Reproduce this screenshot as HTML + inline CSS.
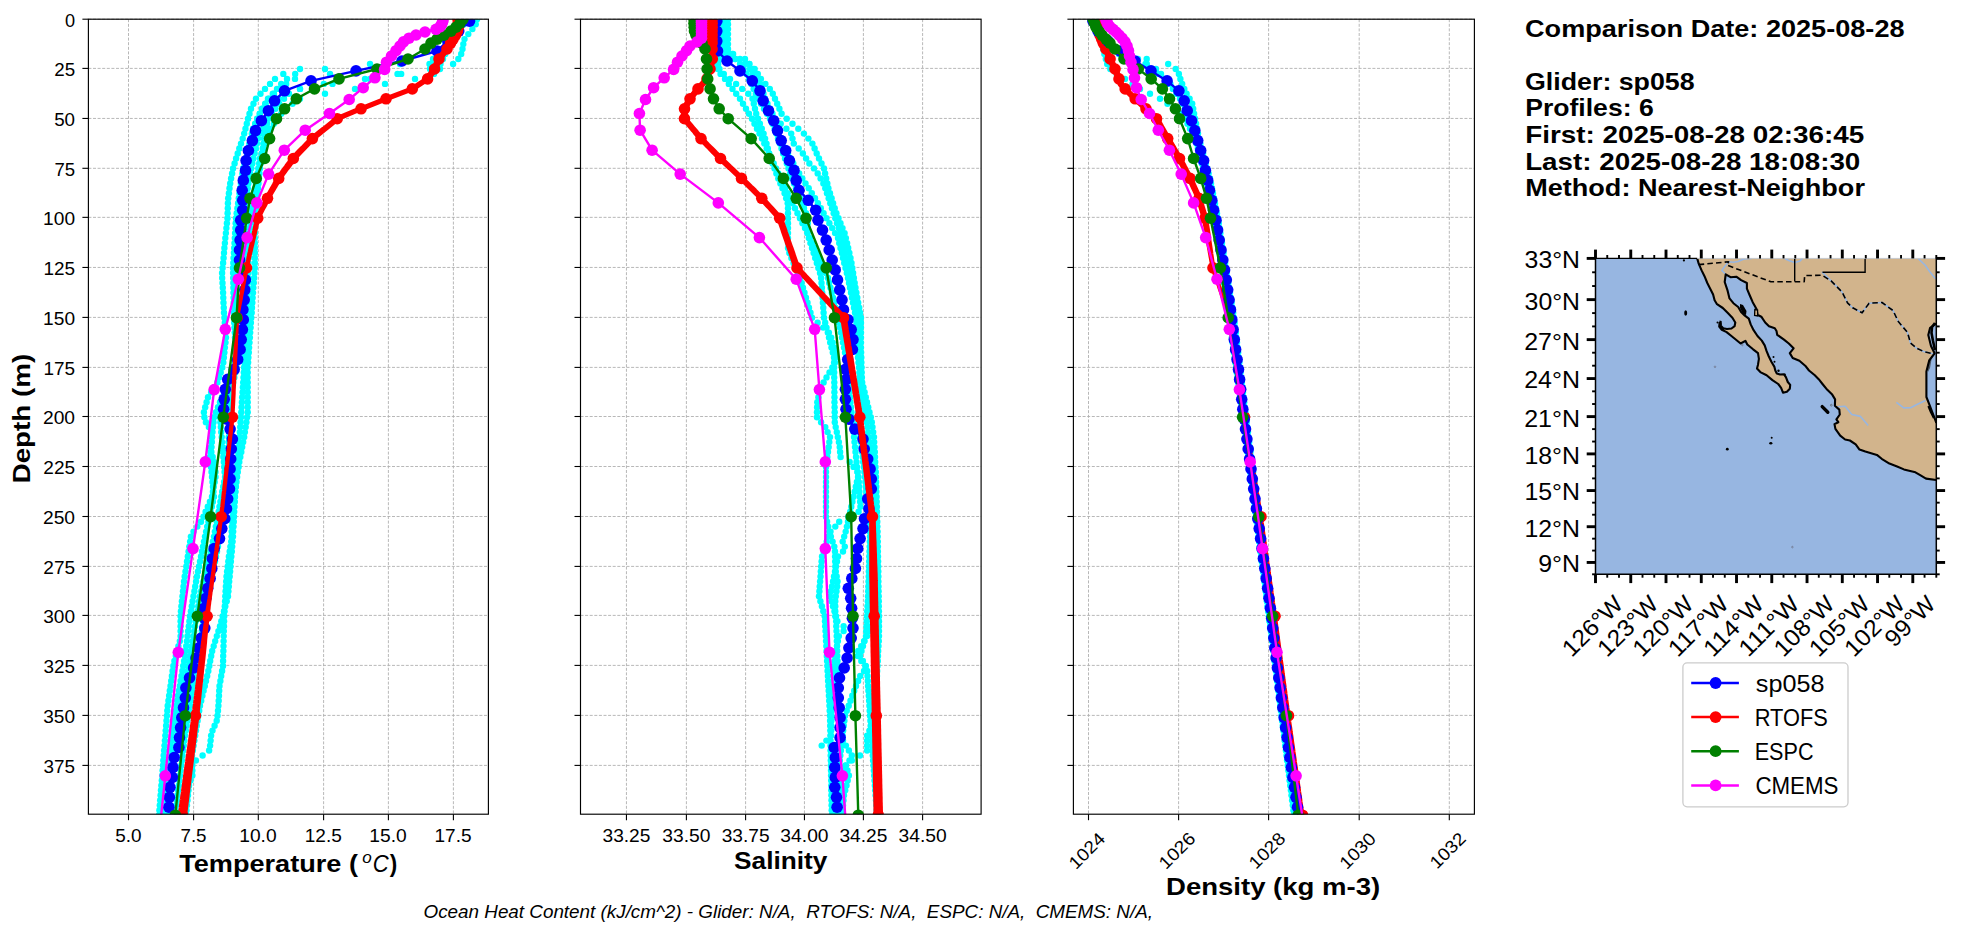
<!DOCTYPE html>
<html><head><meta charset="utf-8"><title>Glider vs model profiles</title>
<style>html,body{margin:0;padding:0;background:#fff;overflow:hidden;} svg{display:block;} text{font-family:"Liberation Sans", sans-serif;}</style>
</head><body>
<svg width="1978" height="934" viewBox="0 0 1978 934" font-family="Liberation Sans, sans-serif">
<line x1="128.50" y1="19.2" x2="128.50" y2="814.2" stroke="#b0b0b0" stroke-width="0.9" stroke-dasharray="3.0 1.6"/>
<line x1="193.60" y1="19.2" x2="193.60" y2="814.2" stroke="#b0b0b0" stroke-width="0.9" stroke-dasharray="3.0 1.6"/>
<line x1="258.30" y1="19.2" x2="258.30" y2="814.2" stroke="#b0b0b0" stroke-width="0.9" stroke-dasharray="3.0 1.6"/>
<line x1="323.60" y1="19.2" x2="323.60" y2="814.2" stroke="#b0b0b0" stroke-width="0.9" stroke-dasharray="3.0 1.6"/>
<line x1="388.40" y1="19.2" x2="388.40" y2="814.2" stroke="#b0b0b0" stroke-width="0.9" stroke-dasharray="3.0 1.6"/>
<line x1="453.40" y1="19.2" x2="453.40" y2="814.2" stroke="#b0b0b0" stroke-width="0.9" stroke-dasharray="3.0 1.6"/>
<line x1="88.4" y1="19.20" x2="488.4" y2="19.20" stroke="#b0b0b0" stroke-width="0.9" stroke-dasharray="3.0 1.6"/>
<line x1="88.4" y1="68.40" x2="488.4" y2="68.40" stroke="#b0b0b0" stroke-width="0.9" stroke-dasharray="3.0 1.6"/>
<line x1="88.4" y1="118.45" x2="488.4" y2="118.45" stroke="#b0b0b0" stroke-width="0.9" stroke-dasharray="3.0 1.6"/>
<line x1="88.4" y1="168.30" x2="488.4" y2="168.30" stroke="#b0b0b0" stroke-width="0.9" stroke-dasharray="3.0 1.6"/>
<line x1="88.4" y1="217.35" x2="488.4" y2="217.35" stroke="#b0b0b0" stroke-width="0.9" stroke-dasharray="3.0 1.6"/>
<line x1="88.4" y1="267.45" x2="488.4" y2="267.45" stroke="#b0b0b0" stroke-width="0.9" stroke-dasharray="3.0 1.6"/>
<line x1="88.4" y1="317.40" x2="488.4" y2="317.40" stroke="#b0b0b0" stroke-width="0.9" stroke-dasharray="3.0 1.6"/>
<line x1="88.4" y1="367.40" x2="488.4" y2="367.40" stroke="#b0b0b0" stroke-width="0.9" stroke-dasharray="3.0 1.6"/>
<line x1="88.4" y1="416.50" x2="488.4" y2="416.50" stroke="#b0b0b0" stroke-width="0.9" stroke-dasharray="3.0 1.6"/>
<line x1="88.4" y1="466.50" x2="488.4" y2="466.50" stroke="#b0b0b0" stroke-width="0.9" stroke-dasharray="3.0 1.6"/>
<line x1="88.4" y1="516.50" x2="488.4" y2="516.50" stroke="#b0b0b0" stroke-width="0.9" stroke-dasharray="3.0 1.6"/>
<line x1="88.4" y1="566.40" x2="488.4" y2="566.40" stroke="#b0b0b0" stroke-width="0.9" stroke-dasharray="3.0 1.6"/>
<line x1="88.4" y1="615.40" x2="488.4" y2="615.40" stroke="#b0b0b0" stroke-width="0.9" stroke-dasharray="3.0 1.6"/>
<line x1="88.4" y1="665.40" x2="488.4" y2="665.40" stroke="#b0b0b0" stroke-width="0.9" stroke-dasharray="3.0 1.6"/>
<line x1="88.4" y1="715.40" x2="488.4" y2="715.40" stroke="#b0b0b0" stroke-width="0.9" stroke-dasharray="3.0 1.6"/>
<line x1="88.4" y1="765.40" x2="488.4" y2="765.40" stroke="#b0b0b0" stroke-width="0.9" stroke-dasharray="3.0 1.6"/>
<line x1="626.45" y1="19.2" x2="626.45" y2="814.2" stroke="#b0b0b0" stroke-width="0.9" stroke-dasharray="3.0 1.6"/>
<line x1="686.40" y1="19.2" x2="686.40" y2="814.2" stroke="#b0b0b0" stroke-width="0.9" stroke-dasharray="3.0 1.6"/>
<line x1="745.60" y1="19.2" x2="745.60" y2="814.2" stroke="#b0b0b0" stroke-width="0.9" stroke-dasharray="3.0 1.6"/>
<line x1="804.45" y1="19.2" x2="804.45" y2="814.2" stroke="#b0b0b0" stroke-width="0.9" stroke-dasharray="3.0 1.6"/>
<line x1="863.40" y1="19.2" x2="863.40" y2="814.2" stroke="#b0b0b0" stroke-width="0.9" stroke-dasharray="3.0 1.6"/>
<line x1="922.60" y1="19.2" x2="922.60" y2="814.2" stroke="#b0b0b0" stroke-width="0.9" stroke-dasharray="3.0 1.6"/>
<line x1="580.5" y1="19.20" x2="981.1" y2="19.20" stroke="#b0b0b0" stroke-width="0.9" stroke-dasharray="3.0 1.6"/>
<line x1="580.5" y1="68.40" x2="981.1" y2="68.40" stroke="#b0b0b0" stroke-width="0.9" stroke-dasharray="3.0 1.6"/>
<line x1="580.5" y1="118.45" x2="981.1" y2="118.45" stroke="#b0b0b0" stroke-width="0.9" stroke-dasharray="3.0 1.6"/>
<line x1="580.5" y1="168.30" x2="981.1" y2="168.30" stroke="#b0b0b0" stroke-width="0.9" stroke-dasharray="3.0 1.6"/>
<line x1="580.5" y1="217.35" x2="981.1" y2="217.35" stroke="#b0b0b0" stroke-width="0.9" stroke-dasharray="3.0 1.6"/>
<line x1="580.5" y1="267.45" x2="981.1" y2="267.45" stroke="#b0b0b0" stroke-width="0.9" stroke-dasharray="3.0 1.6"/>
<line x1="580.5" y1="317.40" x2="981.1" y2="317.40" stroke="#b0b0b0" stroke-width="0.9" stroke-dasharray="3.0 1.6"/>
<line x1="580.5" y1="367.40" x2="981.1" y2="367.40" stroke="#b0b0b0" stroke-width="0.9" stroke-dasharray="3.0 1.6"/>
<line x1="580.5" y1="416.50" x2="981.1" y2="416.50" stroke="#b0b0b0" stroke-width="0.9" stroke-dasharray="3.0 1.6"/>
<line x1="580.5" y1="466.50" x2="981.1" y2="466.50" stroke="#b0b0b0" stroke-width="0.9" stroke-dasharray="3.0 1.6"/>
<line x1="580.5" y1="516.50" x2="981.1" y2="516.50" stroke="#b0b0b0" stroke-width="0.9" stroke-dasharray="3.0 1.6"/>
<line x1="580.5" y1="566.40" x2="981.1" y2="566.40" stroke="#b0b0b0" stroke-width="0.9" stroke-dasharray="3.0 1.6"/>
<line x1="580.5" y1="615.40" x2="981.1" y2="615.40" stroke="#b0b0b0" stroke-width="0.9" stroke-dasharray="3.0 1.6"/>
<line x1="580.5" y1="665.40" x2="981.1" y2="665.40" stroke="#b0b0b0" stroke-width="0.9" stroke-dasharray="3.0 1.6"/>
<line x1="580.5" y1="715.40" x2="981.1" y2="715.40" stroke="#b0b0b0" stroke-width="0.9" stroke-dasharray="3.0 1.6"/>
<line x1="580.5" y1="765.40" x2="981.1" y2="765.40" stroke="#b0b0b0" stroke-width="0.9" stroke-dasharray="3.0 1.6"/>
<line x1="1088.50" y1="19.2" x2="1088.50" y2="814.2" stroke="#b0b0b0" stroke-width="0.9" stroke-dasharray="3.0 1.6"/>
<line x1="1178.60" y1="19.2" x2="1178.60" y2="814.2" stroke="#b0b0b0" stroke-width="0.9" stroke-dasharray="3.0 1.6"/>
<line x1="1268.60" y1="19.2" x2="1268.60" y2="814.2" stroke="#b0b0b0" stroke-width="0.9" stroke-dasharray="3.0 1.6"/>
<line x1="1359.20" y1="19.2" x2="1359.20" y2="814.2" stroke="#b0b0b0" stroke-width="0.9" stroke-dasharray="3.0 1.6"/>
<line x1="1449.30" y1="19.2" x2="1449.30" y2="814.2" stroke="#b0b0b0" stroke-width="0.9" stroke-dasharray="3.0 1.6"/>
<line x1="1073.4" y1="19.20" x2="1474.4" y2="19.20" stroke="#b0b0b0" stroke-width="0.9" stroke-dasharray="3.0 1.6"/>
<line x1="1073.4" y1="68.40" x2="1474.4" y2="68.40" stroke="#b0b0b0" stroke-width="0.9" stroke-dasharray="3.0 1.6"/>
<line x1="1073.4" y1="118.45" x2="1474.4" y2="118.45" stroke="#b0b0b0" stroke-width="0.9" stroke-dasharray="3.0 1.6"/>
<line x1="1073.4" y1="168.30" x2="1474.4" y2="168.30" stroke="#b0b0b0" stroke-width="0.9" stroke-dasharray="3.0 1.6"/>
<line x1="1073.4" y1="217.35" x2="1474.4" y2="217.35" stroke="#b0b0b0" stroke-width="0.9" stroke-dasharray="3.0 1.6"/>
<line x1="1073.4" y1="267.45" x2="1474.4" y2="267.45" stroke="#b0b0b0" stroke-width="0.9" stroke-dasharray="3.0 1.6"/>
<line x1="1073.4" y1="317.40" x2="1474.4" y2="317.40" stroke="#b0b0b0" stroke-width="0.9" stroke-dasharray="3.0 1.6"/>
<line x1="1073.4" y1="367.40" x2="1474.4" y2="367.40" stroke="#b0b0b0" stroke-width="0.9" stroke-dasharray="3.0 1.6"/>
<line x1="1073.4" y1="416.50" x2="1474.4" y2="416.50" stroke="#b0b0b0" stroke-width="0.9" stroke-dasharray="3.0 1.6"/>
<line x1="1073.4" y1="466.50" x2="1474.4" y2="466.50" stroke="#b0b0b0" stroke-width="0.9" stroke-dasharray="3.0 1.6"/>
<line x1="1073.4" y1="516.50" x2="1474.4" y2="516.50" stroke="#b0b0b0" stroke-width="0.9" stroke-dasharray="3.0 1.6"/>
<line x1="1073.4" y1="566.40" x2="1474.4" y2="566.40" stroke="#b0b0b0" stroke-width="0.9" stroke-dasharray="3.0 1.6"/>
<line x1="1073.4" y1="615.40" x2="1474.4" y2="615.40" stroke="#b0b0b0" stroke-width="0.9" stroke-dasharray="3.0 1.6"/>
<line x1="1073.4" y1="665.40" x2="1474.4" y2="665.40" stroke="#b0b0b0" stroke-width="0.9" stroke-dasharray="3.0 1.6"/>
<line x1="1073.4" y1="715.40" x2="1474.4" y2="715.40" stroke="#b0b0b0" stroke-width="0.9" stroke-dasharray="3.0 1.6"/>
<line x1="1073.4" y1="765.40" x2="1474.4" y2="765.40" stroke="#b0b0b0" stroke-width="0.9" stroke-dasharray="3.0 1.6"/>
<defs>
<clipPath id="cp1"><rect x="88.4" y="19.2" width="400.0" height="795.0"/></clipPath>
<clipPath id="cp2"><rect x="580.5" y="19.2" width="400.6" height="795.0"/></clipPath>
<clipPath id="cp3"><rect x="1073.4" y="19.2" width="401.0" height="795.0"/></clipPath>
</defs>
<g clip-path="url(#cp1)">
<g fill="#00ffff"><circle cx="466.0" cy="19.2" r="3.2"/><circle cx="462.0" cy="24.2" r="3.2"/><circle cx="458.0" cy="29.1" r="3.2"/><circle cx="454.0" cy="34.1" r="3.2"/><circle cx="450.0" cy="39.1" r="3.2"/><circle cx="447.2" cy="44.1" r="3.2"/><circle cx="444.4" cy="49.0" r="3.2"/><circle cx="441.6" cy="54.0" r="3.2"/><circle cx="436.0" cy="59.0" r="3.2"/><circle cx="370.0" cy="64.0" r="3.2"/><circle cx="300.0" cy="69.0" r="3.2"/><circle cx="283.3" cy="73.9" r="3.2"/><circle cx="275.0" cy="78.9" r="3.2"/><circle cx="270.0" cy="83.9" r="3.2"/><circle cx="265.0" cy="88.9" r="3.2"/><circle cx="260.5" cy="93.8" r="3.2"/><circle cx="256.0" cy="98.8" r="3.2"/><circle cx="253.5" cy="103.8" r="3.2"/><circle cx="251.0" cy="108.8" r="3.2"/><circle cx="249.5" cy="113.7" r="3.2"/><circle cx="248.0" cy="118.7" r="3.2"/><circle cx="246.8" cy="123.7" r="3.2"/><circle cx="245.5" cy="128.7" r="3.2"/><circle cx="244.2" cy="133.6" r="3.2"/><circle cx="242.7" cy="138.6" r="3.2"/><circle cx="241.0" cy="143.6" r="3.2"/><circle cx="239.3" cy="148.5" r="3.2"/><circle cx="237.7" cy="153.5" r="3.2"/><circle cx="236.1" cy="158.5" r="3.2"/><circle cx="234.6" cy="163.5" r="3.2"/><circle cx="233.0" cy="168.4" r="3.2"/><circle cx="232.1" cy="173.4" r="3.2"/><circle cx="231.1" cy="178.4" r="3.2"/><circle cx="230.2" cy="183.4" r="3.2"/><circle cx="229.5" cy="188.3" r="3.2"/><circle cx="228.9" cy="193.3" r="3.2"/><circle cx="228.2" cy="198.3" r="3.2"/><circle cx="227.9" cy="203.3" r="3.2"/><circle cx="227.8" cy="208.2" r="3.2"/><circle cx="227.6" cy="213.2" r="3.2"/><circle cx="227.5" cy="218.2" r="3.2"/><circle cx="226.9" cy="223.2" r="3.2"/><circle cx="226.4" cy="228.1" r="3.2"/><circle cx="225.9" cy="233.1" r="3.2"/><circle cx="225.3" cy="238.1" r="3.2"/><circle cx="224.9" cy="243.1" r="3.2"/><circle cx="224.4" cy="248.0" r="3.2"/><circle cx="224.0" cy="253.0" r="3.2"/><circle cx="223.6" cy="258.0" r="3.2"/><circle cx="223.1" cy="263.0" r="3.2"/><circle cx="222.6" cy="267.9" r="3.2"/><circle cx="222.1" cy="272.9" r="3.2"/><circle cx="222.2" cy="277.9" r="3.2"/><circle cx="222.5" cy="282.9" r="3.2"/><circle cx="222.8" cy="287.8" r="3.2"/><circle cx="223.1" cy="292.8" r="3.2"/><circle cx="223.3" cy="297.8" r="3.2"/><circle cx="223.5" cy="302.8" r="3.2"/><circle cx="223.8" cy="307.8" r="3.2"/><circle cx="224.0" cy="312.7" r="3.2"/><circle cx="224.4" cy="317.7" r="3.2"/><circle cx="224.8" cy="322.7" r="3.2"/><circle cx="225.2" cy="327.6" r="3.2"/><circle cx="225.6" cy="332.6" r="3.2"/><circle cx="226.0" cy="337.6" r="3.2"/><circle cx="225.5" cy="342.6" r="3.2"/><circle cx="224.9" cy="347.6" r="3.2"/><circle cx="224.4" cy="352.5" r="3.2"/><circle cx="223.9" cy="357.5" r="3.2"/><circle cx="223.3" cy="362.5" r="3.2"/><circle cx="222.3" cy="367.4" r="3.2"/><circle cx="220.7" cy="372.4" r="3.2"/><circle cx="219.0" cy="377.4" r="3.2"/><circle cx="217.3" cy="382.4" r="3.2"/><circle cx="214.4" cy="387.3" r="3.2"/><circle cx="211.2" cy="392.3" r="3.2"/><circle cx="208.0" cy="397.3" r="3.2"/><circle cx="206.6" cy="402.3" r="3.2"/><circle cx="205.2" cy="407.2" r="3.2"/><circle cx="203.9" cy="412.2" r="3.2"/><circle cx="204.4" cy="417.2" r="3.2"/><circle cx="205.9" cy="422.2" r="3.2"/><circle cx="208.9" cy="427.1" r="3.2"/><circle cx="211.8" cy="432.1" r="3.2"/><circle cx="212.1" cy="437.1" r="3.2"/><circle cx="211.8" cy="442.1" r="3.2"/><circle cx="211.5" cy="447.1" r="3.2"/><circle cx="211.4" cy="452.0" r="3.2"/><circle cx="212.7" cy="457.0" r="3.2"/><circle cx="213.9" cy="462.0" r="3.2"/><circle cx="214.8" cy="466.9" r="3.2"/><circle cx="215.5" cy="471.9" r="3.2"/><circle cx="215.5" cy="476.9" r="3.2"/><circle cx="214.7" cy="481.9" r="3.2"/><circle cx="213.8" cy="486.8" r="3.2"/><circle cx="212.9" cy="491.8" r="3.2"/><circle cx="212.0" cy="496.8" r="3.2"/><circle cx="209.9" cy="501.8" r="3.2"/><circle cx="207.8" cy="506.8" r="3.2"/><circle cx="205.6" cy="511.7" r="3.2"/><circle cx="203.5" cy="516.7" r="3.2"/><circle cx="201.0" cy="521.7" r="3.2"/><circle cx="197.3" cy="526.6" r="3.2"/><circle cx="193.5" cy="531.6" r="3.2"/><circle cx="190.9" cy="536.6" r="3.2"/><circle cx="190.1" cy="541.6" r="3.2"/><circle cx="189.3" cy="546.6" r="3.2"/><circle cx="188.6" cy="551.5" r="3.2"/><circle cx="187.8" cy="556.5" r="3.2"/><circle cx="187.0" cy="561.5" r="3.2"/><circle cx="186.3" cy="566.5" r="3.2"/><circle cx="185.5" cy="571.4" r="3.2"/><circle cx="184.7" cy="576.4" r="3.2"/><circle cx="184.0" cy="581.4" r="3.2"/><circle cx="183.5" cy="586.4" r="3.2"/><circle cx="183.0" cy="591.3" r="3.2"/><circle cx="182.5" cy="596.3" r="3.2"/><circle cx="181.9" cy="601.3" r="3.2"/><circle cx="181.4" cy="606.2" r="3.2"/><circle cx="180.9" cy="611.2" r="3.2"/><circle cx="180.6" cy="616.2" r="3.2"/><circle cx="180.6" cy="621.2" r="3.2"/><circle cx="180.6" cy="626.2" r="3.2"/><circle cx="180.6" cy="631.1" r="3.2"/><circle cx="180.6" cy="636.1" r="3.2"/><circle cx="179.8" cy="641.1" r="3.2"/><circle cx="178.4" cy="646.1" r="3.2"/><circle cx="177.1" cy="651.0" r="3.2"/><circle cx="175.8" cy="656.0" r="3.2"/><circle cx="174.4" cy="661.0" r="3.2"/><circle cx="173.3" cy="666.0" r="3.2"/><circle cx="172.6" cy="670.9" r="3.2"/><circle cx="171.9" cy="675.9" r="3.2"/><circle cx="171.2" cy="680.9" r="3.2"/><circle cx="170.5" cy="685.9" r="3.2"/><circle cx="169.8" cy="690.8" r="3.2"/><circle cx="169.1" cy="695.8" r="3.2"/><circle cx="168.4" cy="700.8" r="3.2"/><circle cx="167.7" cy="705.8" r="3.2"/><circle cx="167.3" cy="710.7" r="3.2"/><circle cx="166.9" cy="715.7" r="3.2"/><circle cx="166.5" cy="720.7" r="3.2"/><circle cx="166.1" cy="725.7" r="3.2"/><circle cx="165.7" cy="730.6" r="3.2"/><circle cx="165.3" cy="735.6" r="3.2"/><circle cx="164.9" cy="740.6" r="3.2"/><circle cx="164.5" cy="745.6" r="3.2"/><circle cx="164.1" cy="750.5" r="3.2"/><circle cx="163.7" cy="755.5" r="3.2"/><circle cx="163.3" cy="760.5" r="3.2"/><circle cx="163.0" cy="765.5" r="3.2"/><circle cx="162.6" cy="770.4" r="3.2"/><circle cx="162.2" cy="775.4" r="3.2"/><circle cx="161.8" cy="780.4" r="3.2"/><circle cx="161.4" cy="785.4" r="3.2"/><circle cx="161.0" cy="790.3" r="3.2"/><circle cx="160.6" cy="795.3" r="3.2"/><circle cx="160.2" cy="800.3" r="3.2"/><circle cx="159.8" cy="805.2" r="3.2"/><circle cx="159.4" cy="810.2" r="3.2"/><circle cx="159.0" cy="815.2" r="3.2"/><circle cx="477.0" cy="19.2" r="3.2"/><circle cx="475.7" cy="24.2" r="3.2"/><circle cx="472.4" cy="29.1" r="3.2"/><circle cx="468.3" cy="34.1" r="3.2"/><circle cx="464.5" cy="39.1" r="3.2"/><circle cx="463.3" cy="44.1" r="3.2"/><circle cx="462.5" cy="49.0" r="3.2"/><circle cx="461.2" cy="54.0" r="3.2"/><circle cx="458.3" cy="59.0" r="3.2"/><circle cx="453.1" cy="64.0" r="3.2"/><circle cx="440.0" cy="69.0" r="3.2"/><circle cx="397.5" cy="73.9" r="3.2"/><circle cx="370.0" cy="78.9" r="3.2"/><circle cx="332.5" cy="83.9" r="3.2"/><circle cx="300.0" cy="88.9" r="3.2"/><circle cx="285.5" cy="93.8" r="3.2"/><circle cx="278.0" cy="98.8" r="3.2"/><circle cx="275.5" cy="103.8" r="3.2"/><circle cx="273.0" cy="108.8" r="3.2"/><circle cx="270.5" cy="113.7" r="3.2"/><circle cx="268.0" cy="118.7" r="3.2"/><circle cx="267.0" cy="123.7" r="3.2"/><circle cx="266.0" cy="128.7" r="3.2"/><circle cx="265.0" cy="133.6" r="3.2"/><circle cx="264.0" cy="138.6" r="3.2"/><circle cx="263.3" cy="143.6" r="3.2"/><circle cx="262.7" cy="148.5" r="3.2"/><circle cx="262.0" cy="153.5" r="3.2"/><circle cx="261.3" cy="158.5" r="3.2"/><circle cx="260.7" cy="163.5" r="3.2"/><circle cx="260.0" cy="168.4" r="3.2"/><circle cx="259.5" cy="173.4" r="3.2"/><circle cx="259.0" cy="178.4" r="3.2"/><circle cx="258.5" cy="183.4" r="3.2"/><circle cx="258.0" cy="188.3" r="3.2"/><circle cx="257.5" cy="193.3" r="3.2"/><circle cx="257.0" cy="198.3" r="3.2"/><circle cx="256.5" cy="203.3" r="3.2"/><circle cx="256.0" cy="208.2" r="3.2"/><circle cx="255.5" cy="213.2" r="3.2"/><circle cx="255.0" cy="218.2" r="3.2"/><circle cx="255.0" cy="223.2" r="3.2"/><circle cx="255.0" cy="228.1" r="3.2"/><circle cx="254.9" cy="233.1" r="3.2"/><circle cx="254.9" cy="238.1" r="3.2"/><circle cx="254.9" cy="243.1" r="3.2"/><circle cx="254.9" cy="248.0" r="3.2"/><circle cx="254.9" cy="253.0" r="3.2"/><circle cx="254.8" cy="258.0" r="3.2"/><circle cx="254.8" cy="263.0" r="3.2"/><circle cx="254.8" cy="267.9" r="3.2"/><circle cx="254.5" cy="272.9" r="3.2"/><circle cx="254.1" cy="277.9" r="3.2"/><circle cx="253.8" cy="282.9" r="3.2"/><circle cx="253.4" cy="287.8" r="3.2"/><circle cx="253.1" cy="292.8" r="3.2"/><circle cx="252.7" cy="297.8" r="3.2"/><circle cx="252.4" cy="302.8" r="3.2"/><circle cx="252.0" cy="307.8" r="3.2"/><circle cx="251.7" cy="312.7" r="3.2"/><circle cx="251.3" cy="317.7" r="3.2"/><circle cx="250.9" cy="322.7" r="3.2"/><circle cx="250.6" cy="327.6" r="3.2"/><circle cx="250.2" cy="332.6" r="3.2"/><circle cx="249.9" cy="337.6" r="3.2"/><circle cx="249.5" cy="342.6" r="3.2"/><circle cx="249.1" cy="347.6" r="3.2"/><circle cx="248.8" cy="352.5" r="3.2"/><circle cx="248.4" cy="357.5" r="3.2"/><circle cx="248.1" cy="362.5" r="3.2"/><circle cx="247.7" cy="367.4" r="3.2"/><circle cx="247.7" cy="372.4" r="3.2"/><circle cx="247.7" cy="377.4" r="3.2"/><circle cx="247.7" cy="382.4" r="3.2"/><circle cx="247.7" cy="387.3" r="3.2"/><circle cx="247.7" cy="392.3" r="3.2"/><circle cx="247.7" cy="397.3" r="3.2"/><circle cx="247.7" cy="402.3" r="3.2"/><circle cx="247.7" cy="407.2" r="3.2"/><circle cx="247.7" cy="412.2" r="3.2"/><circle cx="247.1" cy="417.2" r="3.2"/><circle cx="246.4" cy="422.2" r="3.2"/><circle cx="245.7" cy="427.1" r="3.2"/><circle cx="244.9" cy="432.1" r="3.2"/><circle cx="244.2" cy="437.1" r="3.2"/><circle cx="243.2" cy="442.1" r="3.2"/><circle cx="242.2" cy="447.1" r="3.2"/><circle cx="241.3" cy="452.0" r="3.2"/><circle cx="240.3" cy="457.0" r="3.2"/><circle cx="239.3" cy="462.0" r="3.2"/><circle cx="238.6" cy="466.9" r="3.2"/><circle cx="237.8" cy="471.9" r="3.2"/><circle cx="237.1" cy="476.9" r="3.2"/><circle cx="236.5" cy="481.9" r="3.2"/><circle cx="235.9" cy="486.8" r="3.2"/><circle cx="235.4" cy="491.8" r="3.2"/><circle cx="234.8" cy="496.8" r="3.2"/><circle cx="234.2" cy="501.8" r="3.2"/><circle cx="233.6" cy="506.8" r="3.2"/><circle cx="233.0" cy="511.7" r="3.2"/><circle cx="232.4" cy="516.7" r="3.2"/><circle cx="232.2" cy="521.7" r="3.2"/><circle cx="231.9" cy="526.6" r="3.2"/><circle cx="231.7" cy="531.6" r="3.2"/><circle cx="231.5" cy="536.6" r="3.2"/><circle cx="231.2" cy="541.6" r="3.2"/><circle cx="230.4" cy="546.6" r="3.2"/><circle cx="229.7" cy="551.5" r="3.2"/><circle cx="228.9" cy="556.5" r="3.2"/><circle cx="228.3" cy="561.5" r="3.2"/><circle cx="227.7" cy="566.5" r="3.2"/><circle cx="227.1" cy="571.4" r="3.2"/><circle cx="226.5" cy="576.4" r="3.2"/><circle cx="226.2" cy="581.4" r="3.2"/><circle cx="225.9" cy="586.4" r="3.2"/><circle cx="225.6" cy="591.3" r="3.2"/><circle cx="225.3" cy="596.3" r="3.2"/><circle cx="225.1" cy="601.3" r="3.2"/><circle cx="224.8" cy="606.2" r="3.2"/><circle cx="224.5" cy="611.2" r="3.2"/><circle cx="224.2" cy="616.2" r="3.2"/><circle cx="224.1" cy="621.2" r="3.2"/><circle cx="224.0" cy="626.2" r="3.2"/><circle cx="223.8" cy="631.1" r="3.2"/><circle cx="223.7" cy="636.1" r="3.2"/><circle cx="223.6" cy="641.1" r="3.2"/><circle cx="223.5" cy="646.1" r="3.2"/><circle cx="223.4" cy="651.0" r="3.2"/><circle cx="223.2" cy="656.0" r="3.2"/><circle cx="223.1" cy="661.0" r="3.2"/><circle cx="223.0" cy="666.0" r="3.2"/><circle cx="222.1" cy="670.9" r="3.2"/><circle cx="221.2" cy="675.9" r="3.2"/><circle cx="220.4" cy="680.9" r="3.2"/><circle cx="219.5" cy="685.9" r="3.2"/><circle cx="219.2" cy="690.8" r="3.2"/><circle cx="219.0" cy="695.8" r="3.2"/><circle cx="218.7" cy="700.8" r="3.2"/><circle cx="218.4" cy="705.8" r="3.2"/><circle cx="218.0" cy="710.7" r="3.2"/><circle cx="217.5" cy="715.7" r="3.2"/><circle cx="216.7" cy="720.7" r="3.2"/><circle cx="214.6" cy="725.7" r="3.2"/><circle cx="212.5" cy="730.6" r="3.2"/><circle cx="211.1" cy="735.6" r="3.2"/><circle cx="210.6" cy="740.6" r="3.2"/><circle cx="210.1" cy="745.6" r="3.2"/><circle cx="209.1" cy="750.5" r="3.2"/><circle cx="202.6" cy="755.5" r="3.2"/><circle cx="195.9" cy="760.5" r="3.2"/><circle cx="192.4" cy="765.5" r="3.2"/><circle cx="192.4" cy="770.4" r="3.2"/><circle cx="192.4" cy="775.4" r="3.2"/><circle cx="190.5" cy="780.4" r="3.2"/><circle cx="188.9" cy="785.4" r="3.2"/><circle cx="187.5" cy="790.3" r="3.2"/><circle cx="186.0" cy="795.3" r="3.2"/><circle cx="185.2" cy="800.3" r="3.2"/><circle cx="184.5" cy="805.2" r="3.2"/><circle cx="183.8" cy="810.2" r="3.2"/><circle cx="183.0" cy="815.2" r="3.2"/><circle cx="464.0" cy="19.2" r="3.2"/><circle cx="460.5" cy="24.2" r="3.2"/><circle cx="457.0" cy="29.1" r="3.2"/><circle cx="453.5" cy="34.1" r="3.2"/><circle cx="450.0" cy="39.1" r="3.2"/><circle cx="447.5" cy="44.1" r="3.2"/><circle cx="445.0" cy="49.0" r="3.2"/><circle cx="442.5" cy="54.0" r="3.2"/><circle cx="440.0" cy="59.0" r="3.2"/><circle cx="429.5" cy="64.0" r="3.2"/><circle cx="380.0" cy="69.0" r="3.2"/><circle cx="330.0" cy="73.9" r="3.2"/><circle cx="295.0" cy="78.9" r="3.2"/><circle cx="286.2" cy="83.9" r="3.2"/><circle cx="280.0" cy="88.9" r="3.2"/><circle cx="274.0" cy="93.8" r="3.2"/><circle cx="268.0" cy="98.8" r="3.2"/><circle cx="265.2" cy="103.8" r="3.2"/><circle cx="262.5" cy="108.8" r="3.2"/><circle cx="259.8" cy="113.7" r="3.2"/><circle cx="257.0" cy="118.7" r="3.2"/><circle cx="255.5" cy="123.7" r="3.2"/><circle cx="254.0" cy="128.7" r="3.2"/><circle cx="252.5" cy="133.6" r="3.2"/><circle cx="251.0" cy="138.6" r="3.2"/><circle cx="249.7" cy="143.6" r="3.2"/><circle cx="248.3" cy="148.5" r="3.2"/><circle cx="247.0" cy="153.5" r="3.2"/><circle cx="245.7" cy="158.5" r="3.2"/><circle cx="244.3" cy="163.5" r="3.2"/><circle cx="243.0" cy="168.4" r="3.2"/><circle cx="242.3" cy="173.4" r="3.2"/><circle cx="241.6" cy="178.4" r="3.2"/><circle cx="240.9" cy="183.4" r="3.2"/><circle cx="240.2" cy="188.3" r="3.2"/><circle cx="239.5" cy="193.3" r="3.2"/><circle cx="238.8" cy="198.3" r="3.2"/><circle cx="238.1" cy="203.3" r="3.2"/><circle cx="237.4" cy="208.2" r="3.2"/><circle cx="236.7" cy="213.2" r="3.2"/><circle cx="236.0" cy="218.2" r="3.2"/><circle cx="235.7" cy="223.2" r="3.2"/><circle cx="235.4" cy="228.1" r="3.2"/><circle cx="235.1" cy="233.1" r="3.2"/><circle cx="234.8" cy="238.1" r="3.2"/><circle cx="234.5" cy="243.1" r="3.2"/><circle cx="234.2" cy="248.0" r="3.2"/><circle cx="233.9" cy="253.0" r="3.2"/><circle cx="233.6" cy="258.0" r="3.2"/><circle cx="233.3" cy="263.0" r="3.2"/><circle cx="233.0" cy="267.9" r="3.2"/><circle cx="233.1" cy="272.9" r="3.2"/><circle cx="233.2" cy="277.9" r="3.2"/><circle cx="233.3" cy="282.9" r="3.2"/><circle cx="233.4" cy="287.8" r="3.2"/><circle cx="233.5" cy="292.8" r="3.2"/><circle cx="233.6" cy="297.8" r="3.2"/><circle cx="233.7" cy="302.8" r="3.2"/><circle cx="233.8" cy="307.8" r="3.2"/><circle cx="233.9" cy="312.7" r="3.2"/><circle cx="234.0" cy="317.7" r="3.2"/><circle cx="234.2" cy="322.7" r="3.2"/><circle cx="234.5" cy="327.6" r="3.2"/><circle cx="234.8" cy="332.6" r="3.2"/><circle cx="235.0" cy="337.6" r="3.2"/><circle cx="235.2" cy="342.6" r="3.2"/><circle cx="235.5" cy="347.6" r="3.2"/><circle cx="235.8" cy="352.5" r="3.2"/><circle cx="236.0" cy="357.5" r="3.2"/><circle cx="234.5" cy="362.5" r="3.2"/><circle cx="233.0" cy="367.4" r="3.2"/><circle cx="231.5" cy="372.4" r="3.2"/><circle cx="230.0" cy="377.4" r="3.2"/><circle cx="228.0" cy="382.4" r="3.2"/><circle cx="226.0" cy="387.3" r="3.2"/><circle cx="224.0" cy="392.3" r="3.2"/><circle cx="222.0" cy="397.3" r="3.2"/><circle cx="220.0" cy="402.3" r="3.2"/><circle cx="218.0" cy="407.2" r="3.2"/><circle cx="216.0" cy="412.2" r="3.2"/><circle cx="214.0" cy="417.2" r="3.2"/><circle cx="213.5" cy="422.2" r="3.2"/><circle cx="213.0" cy="427.1" r="3.2"/><circle cx="212.5" cy="432.1" r="3.2"/><circle cx="212.0" cy="437.1" r="3.2"/><circle cx="211.5" cy="442.1" r="3.2"/><circle cx="211.0" cy="447.1" r="3.2"/><circle cx="210.5" cy="452.0" r="3.2"/><circle cx="210.0" cy="457.0" r="3.2"/><circle cx="210.5" cy="462.0" r="3.2"/><circle cx="211.0" cy="466.9" r="3.2"/><circle cx="211.5" cy="471.9" r="3.2"/><circle cx="212.0" cy="476.9" r="3.2"/><circle cx="212.5" cy="481.9" r="3.2"/><circle cx="213.0" cy="486.8" r="3.2"/><circle cx="213.5" cy="491.8" r="3.2"/><circle cx="214.0" cy="496.8" r="3.2"/><circle cx="212.9" cy="501.8" r="3.2"/><circle cx="211.8" cy="506.8" r="3.2"/><circle cx="210.6" cy="511.7" r="3.2"/><circle cx="209.5" cy="516.7" r="3.2"/><circle cx="208.4" cy="521.7" r="3.2"/><circle cx="207.2" cy="526.6" r="3.2"/><circle cx="206.1" cy="531.6" r="3.2"/><circle cx="205.0" cy="536.6" r="3.2"/><circle cx="204.0" cy="541.6" r="3.2"/><circle cx="203.0" cy="546.6" r="3.2"/><circle cx="202.0" cy="551.5" r="3.2"/><circle cx="201.0" cy="556.5" r="3.2"/><circle cx="200.0" cy="561.5" r="3.2"/><circle cx="199.0" cy="566.5" r="3.2"/><circle cx="198.0" cy="571.4" r="3.2"/><circle cx="197.0" cy="576.4" r="3.2"/><circle cx="196.1" cy="581.4" r="3.2"/><circle cx="195.2" cy="586.4" r="3.2"/><circle cx="194.4" cy="591.3" r="3.2"/><circle cx="193.5" cy="596.3" r="3.2"/><circle cx="192.6" cy="601.3" r="3.2"/><circle cx="191.8" cy="606.2" r="3.2"/><circle cx="190.9" cy="611.2" r="3.2"/><circle cx="190.0" cy="616.2" r="3.2"/><circle cx="189.4" cy="621.2" r="3.2"/><circle cx="188.8" cy="626.2" r="3.2"/><circle cx="188.1" cy="631.1" r="3.2"/><circle cx="187.5" cy="636.1" r="3.2"/><circle cx="186.9" cy="641.1" r="3.2"/><circle cx="186.2" cy="646.1" r="3.2"/><circle cx="185.6" cy="651.0" r="3.2"/><circle cx="185.0" cy="656.0" r="3.2"/><circle cx="184.1" cy="661.0" r="3.2"/><circle cx="183.2" cy="666.0" r="3.2"/><circle cx="182.4" cy="670.9" r="3.2"/><circle cx="181.5" cy="675.9" r="3.2"/><circle cx="180.6" cy="680.9" r="3.2"/><circle cx="179.8" cy="685.9" r="3.2"/><circle cx="178.9" cy="690.8" r="3.2"/><circle cx="178.0" cy="695.8" r="3.2"/><circle cx="177.2" cy="700.8" r="3.2"/><circle cx="176.5" cy="705.8" r="3.2"/><circle cx="175.8" cy="710.7" r="3.2"/><circle cx="175.0" cy="715.7" r="3.2"/><circle cx="174.2" cy="720.7" r="3.2"/><circle cx="173.5" cy="725.7" r="3.2"/><circle cx="172.8" cy="730.6" r="3.2"/><circle cx="172.0" cy="735.6" r="3.2"/><circle cx="171.5" cy="740.6" r="3.2"/><circle cx="171.0" cy="745.6" r="3.2"/><circle cx="170.5" cy="750.5" r="3.2"/><circle cx="170.0" cy="755.5" r="3.2"/><circle cx="169.5" cy="760.5" r="3.2"/><circle cx="169.0" cy="765.5" r="3.2"/><circle cx="168.5" cy="770.4" r="3.2"/><circle cx="168.0" cy="775.4" r="3.2"/><circle cx="167.4" cy="780.4" r="3.2"/><circle cx="166.8" cy="785.4" r="3.2"/><circle cx="166.1" cy="790.3" r="3.2"/><circle cx="165.5" cy="795.3" r="3.2"/><circle cx="164.9" cy="800.3" r="3.2"/><circle cx="164.2" cy="805.2" r="3.2"/><circle cx="163.6" cy="810.2" r="3.2"/><circle cx="163.0" cy="815.2" r="3.2"/><circle cx="468.0" cy="19.2" r="3.2"/><circle cx="464.0" cy="24.2" r="3.2"/><circle cx="460.0" cy="29.1" r="3.2"/><circle cx="456.0" cy="34.1" r="3.2"/><circle cx="452.0" cy="39.1" r="3.2"/><circle cx="449.8" cy="44.1" r="3.2"/><circle cx="447.5" cy="49.0" r="3.2"/><circle cx="445.2" cy="54.0" r="3.2"/><circle cx="443.0" cy="59.0" r="3.2"/><circle cx="440.5" cy="64.0" r="3.2"/><circle cx="438.0" cy="69.0" r="3.2"/><circle cx="434.0" cy="73.9" r="3.2"/><circle cx="415.0" cy="78.9" r="3.2"/><circle cx="385.0" cy="83.9" r="3.2"/><circle cx="355.0" cy="88.9" r="3.2"/><circle cx="325.0" cy="93.8" r="3.2"/><circle cx="300.0" cy="98.8" r="3.2"/><circle cx="292.5" cy="103.8" r="3.2"/><circle cx="285.0" cy="108.8" r="3.2"/><circle cx="281.2" cy="113.7" r="3.2"/><circle cx="277.5" cy="118.7" r="3.2"/><circle cx="273.8" cy="123.7" r="3.2"/><circle cx="270.0" cy="128.7" r="3.2"/><circle cx="268.3" cy="133.6" r="3.2"/><circle cx="266.7" cy="138.6" r="3.2"/><circle cx="265.0" cy="143.6" r="3.2"/><circle cx="263.3" cy="148.5" r="3.2"/><circle cx="261.7" cy="153.5" r="3.2"/><circle cx="260.0" cy="158.5" r="3.2"/><circle cx="259.2" cy="163.5" r="3.2"/><circle cx="258.3" cy="168.4" r="3.2"/><circle cx="257.5" cy="173.4" r="3.2"/><circle cx="256.7" cy="178.4" r="3.2"/><circle cx="255.8" cy="183.4" r="3.2"/><circle cx="255.0" cy="188.3" r="3.2"/><circle cx="254.2" cy="193.3" r="3.2"/><circle cx="253.3" cy="198.3" r="3.2"/><circle cx="252.5" cy="203.3" r="3.2"/><circle cx="251.7" cy="208.2" r="3.2"/><circle cx="250.8" cy="213.2" r="3.2"/><circle cx="250.0" cy="218.2" r="3.2"/><circle cx="249.8" cy="223.2" r="3.2"/><circle cx="249.7" cy="228.1" r="3.2"/><circle cx="249.5" cy="233.1" r="3.2"/><circle cx="249.3" cy="238.1" r="3.2"/><circle cx="249.2" cy="243.1" r="3.2"/><circle cx="249.0" cy="248.0" r="3.2"/><circle cx="248.8" cy="253.0" r="3.2"/><circle cx="248.7" cy="258.0" r="3.2"/><circle cx="248.5" cy="263.0" r="3.2"/><circle cx="248.3" cy="267.9" r="3.2"/><circle cx="248.2" cy="272.9" r="3.2"/><circle cx="248.0" cy="277.9" r="3.2"/><circle cx="247.8" cy="282.9" r="3.2"/><circle cx="247.7" cy="287.8" r="3.2"/><circle cx="247.5" cy="292.8" r="3.2"/><circle cx="247.3" cy="297.8" r="3.2"/><circle cx="247.2" cy="302.8" r="3.2"/><circle cx="247.0" cy="307.8" r="3.2"/><circle cx="246.8" cy="312.7" r="3.2"/><circle cx="246.7" cy="317.7" r="3.2"/><circle cx="246.5" cy="322.7" r="3.2"/><circle cx="246.3" cy="327.6" r="3.2"/><circle cx="246.2" cy="332.6" r="3.2"/><circle cx="246.0" cy="337.6" r="3.2"/><circle cx="245.7" cy="342.6" r="3.2"/><circle cx="245.4" cy="347.6" r="3.2"/><circle cx="245.1" cy="352.5" r="3.2"/><circle cx="244.8" cy="357.5" r="3.2"/><circle cx="244.4" cy="362.5" r="3.2"/><circle cx="244.1" cy="367.4" r="3.2"/><circle cx="243.8" cy="372.4" r="3.2"/><circle cx="243.5" cy="377.4" r="3.2"/><circle cx="243.2" cy="382.4" r="3.2"/><circle cx="242.9" cy="387.3" r="3.2"/><circle cx="242.6" cy="392.3" r="3.2"/><circle cx="242.2" cy="397.3" r="3.2"/><circle cx="241.9" cy="402.3" r="3.2"/><circle cx="241.6" cy="407.2" r="3.2"/><circle cx="241.3" cy="412.2" r="3.2"/><circle cx="241.0" cy="417.2" r="3.2"/><circle cx="240.6" cy="422.2" r="3.2"/><circle cx="240.2" cy="427.1" r="3.2"/><circle cx="239.8" cy="432.1" r="3.2"/><circle cx="239.3" cy="437.1" r="3.2"/><circle cx="238.9" cy="442.1" r="3.2"/><circle cx="238.5" cy="447.1" r="3.2"/><circle cx="238.1" cy="452.0" r="3.2"/><circle cx="237.7" cy="457.0" r="3.2"/><circle cx="237.2" cy="462.0" r="3.2"/><circle cx="236.8" cy="466.9" r="3.2"/><circle cx="236.4" cy="471.9" r="3.2"/><circle cx="236.0" cy="476.9" r="3.2"/><circle cx="235.8" cy="481.9" r="3.2"/><circle cx="235.5" cy="486.8" r="3.2"/><circle cx="235.2" cy="491.8" r="3.2"/><circle cx="235.0" cy="496.8" r="3.2"/><circle cx="234.8" cy="501.8" r="3.2"/><circle cx="234.5" cy="506.8" r="3.2"/><circle cx="234.2" cy="511.7" r="3.2"/><circle cx="234.0" cy="516.7" r="3.2"/><circle cx="233.8" cy="521.7" r="3.2"/><circle cx="233.5" cy="526.6" r="3.2"/><circle cx="233.2" cy="531.6" r="3.2"/><circle cx="233.0" cy="536.6" r="3.2"/><circle cx="232.6" cy="541.6" r="3.2"/><circle cx="232.2" cy="546.6" r="3.2"/><circle cx="231.8" cy="551.5" r="3.2"/><circle cx="231.3" cy="556.5" r="3.2"/><circle cx="230.9" cy="561.5" r="3.2"/><circle cx="230.5" cy="566.5" r="3.2"/><circle cx="230.1" cy="571.4" r="3.2"/><circle cx="229.7" cy="576.4" r="3.2"/><circle cx="229.2" cy="581.4" r="3.2"/><circle cx="228.8" cy="586.4" r="3.2"/><circle cx="228.4" cy="591.3" r="3.2"/><circle cx="228.0" cy="596.3" r="3.2"/><circle cx="226.7" cy="601.3" r="3.2"/><circle cx="225.3" cy="606.2" r="3.2"/><circle cx="224.0" cy="611.2" r="3.2"/><circle cx="222.7" cy="616.2" r="3.2"/><circle cx="221.3" cy="621.2" r="3.2"/><circle cx="220.0" cy="626.2" r="3.2"/><circle cx="218.4" cy="631.1" r="3.2"/><circle cx="216.8" cy="636.1" r="3.2"/><circle cx="215.2" cy="641.1" r="3.2"/><circle cx="213.7" cy="646.1" r="3.2"/><circle cx="212.2" cy="651.0" r="3.2"/><circle cx="211.2" cy="656.0" r="3.2"/><circle cx="210.2" cy="661.0" r="3.2"/><circle cx="209.3" cy="666.0" r="3.2"/><circle cx="208.3" cy="670.9" r="3.2"/><circle cx="207.2" cy="675.9" r="3.2"/><circle cx="206.0" cy="680.9" r="3.2"/><circle cx="204.8" cy="685.9" r="3.2"/><circle cx="203.6" cy="690.8" r="3.2"/><circle cx="202.4" cy="695.8" r="3.2"/><circle cx="201.2" cy="700.8" r="3.2"/><circle cx="200.0" cy="705.8" r="3.2"/><circle cx="199.2" cy="710.7" r="3.2"/><circle cx="198.4" cy="715.7" r="3.2"/><circle cx="197.6" cy="720.7" r="3.2"/><circle cx="196.8" cy="725.7" r="3.2"/><circle cx="196.0" cy="730.6" r="3.2"/><circle cx="195.2" cy="735.6" r="3.2"/><circle cx="194.4" cy="740.6" r="3.2"/><circle cx="193.6" cy="745.6" r="3.2"/><circle cx="192.8" cy="750.5" r="3.2"/><circle cx="192.0" cy="755.5" r="3.2"/><circle cx="191.5" cy="760.5" r="3.2"/><circle cx="191.0" cy="765.5" r="3.2"/><circle cx="190.5" cy="770.4" r="3.2"/><circle cx="190.0" cy="775.4" r="3.2"/><circle cx="189.5" cy="780.4" r="3.2"/><circle cx="189.0" cy="785.4" r="3.2"/><circle cx="188.5" cy="790.3" r="3.2"/><circle cx="188.0" cy="795.3" r="3.2"/><circle cx="187.5" cy="800.3" r="3.2"/><circle cx="187.0" cy="805.2" r="3.2"/><circle cx="186.5" cy="810.2" r="3.2"/><circle cx="186.0" cy="815.2" r="3.2"/><circle cx="465.0" cy="19.2" r="3.2"/><circle cx="461.0" cy="24.2" r="3.2"/><circle cx="457.1" cy="29.1" r="3.2"/><circle cx="453.1" cy="34.1" r="3.2"/><circle cx="449.2" cy="39.1" r="3.2"/><circle cx="445.5" cy="44.1" r="3.2"/><circle cx="443.0" cy="49.0" r="3.2"/><circle cx="440.5" cy="54.0" r="3.2"/><circle cx="438.0" cy="59.0" r="3.2"/><circle cx="434.7" cy="64.0" r="3.2"/><circle cx="430.0" cy="69.0" r="3.2"/><circle cx="401.2" cy="73.9" r="3.2"/><circle cx="365.0" cy="78.9" r="3.2"/><circle cx="323.8" cy="83.9" r="3.2"/><circle cx="300.0" cy="88.9" r="3.2"/><circle cx="289.0" cy="93.8" r="3.2"/><circle cx="284.0" cy="98.8" r="3.2"/><circle cx="279.2" cy="103.8" r="3.2"/><circle cx="275.5" cy="108.8" r="3.2"/><circle cx="271.8" cy="113.7" r="3.2"/><circle cx="268.0" cy="118.7" r="3.2"/><circle cx="265.5" cy="123.7" r="3.2"/><circle cx="263.0" cy="128.7" r="3.2"/><circle cx="260.5" cy="133.6" r="3.2"/><circle cx="258.0" cy="138.6" r="3.2"/><circle cx="256.9" cy="143.6" r="3.2"/><circle cx="255.8" cy="148.5" r="3.2"/><circle cx="254.6" cy="153.5" r="3.2"/><circle cx="253.5" cy="158.5" r="3.2"/><circle cx="252.4" cy="163.5" r="3.2"/><circle cx="251.2" cy="168.4" r="3.2"/><circle cx="250.1" cy="173.4" r="3.2"/><circle cx="249.0" cy="178.4" r="3.2"/><circle cx="248.4" cy="183.4" r="3.2"/><circle cx="247.8" cy="188.3" r="3.2"/><circle cx="247.1" cy="193.3" r="3.2"/><circle cx="246.5" cy="198.3" r="3.2"/><circle cx="245.9" cy="203.3" r="3.2"/><circle cx="245.2" cy="208.2" r="3.2"/><circle cx="244.6" cy="213.2" r="3.2"/><circle cx="244.0" cy="218.2" r="3.2"/><circle cx="244.0" cy="223.2" r="3.2"/><circle cx="244.0" cy="228.1" r="3.2"/><circle cx="244.0" cy="233.1" r="3.2"/><circle cx="244.0" cy="238.1" r="3.2"/><circle cx="244.0" cy="243.1" r="3.2"/><circle cx="244.0" cy="248.0" r="3.2"/><circle cx="244.0" cy="253.0" r="3.2"/><circle cx="244.0" cy="258.0" r="3.2"/><circle cx="244.0" cy="263.0" r="3.2"/><circle cx="244.0" cy="267.9" r="3.2"/><circle cx="244.0" cy="272.9" r="3.2"/><circle cx="244.0" cy="277.9" r="3.2"/><circle cx="243.9" cy="282.9" r="3.2"/><circle cx="243.8" cy="287.8" r="3.2"/><circle cx="243.8" cy="292.8" r="3.2"/><circle cx="243.7" cy="297.8" r="3.2"/><circle cx="243.6" cy="302.8" r="3.2"/><circle cx="243.5" cy="307.8" r="3.2"/><circle cx="243.4" cy="312.7" r="3.2"/><circle cx="243.3" cy="317.7" r="3.2"/><circle cx="243.2" cy="322.7" r="3.2"/><circle cx="243.2" cy="327.6" r="3.2"/><circle cx="243.1" cy="332.6" r="3.2"/><circle cx="243.0" cy="337.6" r="3.2"/><circle cx="241.9" cy="342.6" r="3.2"/><circle cx="240.8" cy="347.6" r="3.2"/><circle cx="239.8" cy="352.5" r="3.2"/><circle cx="238.7" cy="357.5" r="3.2"/><circle cx="237.6" cy="362.5" r="3.2"/><circle cx="236.5" cy="367.4" r="3.2"/><circle cx="235.4" cy="372.4" r="3.2"/><circle cx="234.3" cy="377.4" r="3.2"/><circle cx="233.2" cy="382.4" r="3.2"/><circle cx="232.2" cy="387.3" r="3.2"/><circle cx="231.1" cy="392.3" r="3.2"/><circle cx="230.0" cy="397.3" r="3.2"/><circle cx="229.8" cy="402.3" r="3.2"/><circle cx="229.7" cy="407.2" r="3.2"/><circle cx="229.5" cy="412.2" r="3.2"/><circle cx="229.3" cy="417.2" r="3.2"/><circle cx="229.2" cy="422.2" r="3.2"/><circle cx="229.0" cy="427.1" r="3.2"/><circle cx="228.8" cy="432.1" r="3.2"/><circle cx="228.7" cy="437.1" r="3.2"/><circle cx="228.5" cy="442.1" r="3.2"/><circle cx="228.3" cy="447.1" r="3.2"/><circle cx="228.2" cy="452.0" r="3.2"/><circle cx="228.0" cy="457.0" r="3.2"/><circle cx="227.7" cy="462.0" r="3.2"/><circle cx="227.3" cy="466.9" r="3.2"/><circle cx="227.0" cy="471.9" r="3.2"/><circle cx="226.7" cy="476.9" r="3.2"/><circle cx="226.3" cy="481.9" r="3.2"/><circle cx="226.0" cy="486.8" r="3.2"/><circle cx="225.7" cy="491.8" r="3.2"/><circle cx="225.3" cy="496.8" r="3.2"/><circle cx="225.0" cy="501.8" r="3.2"/><circle cx="224.7" cy="506.8" r="3.2"/><circle cx="224.3" cy="511.7" r="3.2"/><circle cx="224.0" cy="516.7" r="3.2"/><circle cx="223.0" cy="521.7" r="3.2"/><circle cx="222.0" cy="526.6" r="3.2"/><circle cx="221.0" cy="531.6" r="3.2"/><circle cx="220.0" cy="536.6" r="3.2"/><circle cx="219.0" cy="541.6" r="3.2"/><circle cx="218.0" cy="546.6" r="3.2"/><circle cx="217.0" cy="551.5" r="3.2"/><circle cx="216.0" cy="556.5" r="3.2"/><circle cx="215.0" cy="561.5" r="3.2"/><circle cx="214.0" cy="566.5" r="3.2"/><circle cx="213.0" cy="571.4" r="3.2"/><circle cx="212.0" cy="576.4" r="3.2"/><circle cx="211.0" cy="581.4" r="3.2"/><circle cx="210.0" cy="586.4" r="3.2"/><circle cx="209.0" cy="591.3" r="3.2"/><circle cx="208.0" cy="596.3" r="3.2"/><circle cx="207.0" cy="601.3" r="3.2"/><circle cx="206.0" cy="606.2" r="3.2"/><circle cx="205.0" cy="611.2" r="3.2"/><circle cx="204.0" cy="616.2" r="3.2"/><circle cx="203.2" cy="621.2" r="3.2"/><circle cx="202.5" cy="626.2" r="3.2"/><circle cx="201.8" cy="631.1" r="3.2"/><circle cx="201.0" cy="636.1" r="3.2"/><circle cx="200.2" cy="641.1" r="3.2"/><circle cx="199.5" cy="646.1" r="3.2"/><circle cx="198.8" cy="651.0" r="3.2"/><circle cx="198.0" cy="656.0" r="3.2"/><circle cx="197.2" cy="661.0" r="3.2"/><circle cx="196.5" cy="666.0" r="3.2"/><circle cx="195.8" cy="670.9" r="3.2"/><circle cx="195.0" cy="675.9" r="3.2"/><circle cx="194.2" cy="680.9" r="3.2"/><circle cx="193.3" cy="685.9" r="3.2"/><circle cx="192.5" cy="690.8" r="3.2"/><circle cx="191.7" cy="695.8" r="3.2"/><circle cx="190.8" cy="700.8" r="3.2"/><circle cx="190.0" cy="705.8" r="3.2"/><circle cx="189.2" cy="710.7" r="3.2"/><circle cx="188.3" cy="715.7" r="3.2"/><circle cx="187.5" cy="720.7" r="3.2"/><circle cx="186.7" cy="725.7" r="3.2"/><circle cx="185.8" cy="730.6" r="3.2"/><circle cx="185.0" cy="735.6" r="3.2"/><circle cx="184.4" cy="740.6" r="3.2"/><circle cx="183.8" cy="745.6" r="3.2"/><circle cx="183.1" cy="750.5" r="3.2"/><circle cx="182.5" cy="755.5" r="3.2"/><circle cx="181.9" cy="760.5" r="3.2"/><circle cx="181.2" cy="765.5" r="3.2"/><circle cx="180.6" cy="770.4" r="3.2"/><circle cx="180.0" cy="775.4" r="3.2"/><circle cx="179.4" cy="780.4" r="3.2"/><circle cx="178.8" cy="785.4" r="3.2"/><circle cx="178.1" cy="790.3" r="3.2"/><circle cx="177.5" cy="795.3" r="3.2"/><circle cx="176.9" cy="800.3" r="3.2"/><circle cx="176.2" cy="805.2" r="3.2"/><circle cx="175.6" cy="810.2" r="3.2"/><circle cx="175.0" cy="815.2" r="3.2"/><circle cx="463.0" cy="19.2" r="3.2"/><circle cx="459.6" cy="24.2" r="3.2"/><circle cx="456.2" cy="29.1" r="3.2"/><circle cx="452.8" cy="34.1" r="3.2"/><circle cx="449.4" cy="39.1" r="3.2"/><circle cx="446.0" cy="44.1" r="3.2"/><circle cx="442.4" cy="49.0" r="3.2"/><circle cx="438.4" cy="54.0" r="3.2"/><circle cx="433.0" cy="59.0" r="3.2"/><circle cx="400.0" cy="64.0" r="3.2"/><circle cx="325.0" cy="69.0" r="3.2"/><circle cx="295.2" cy="73.9" r="3.2"/><circle cx="287.0" cy="78.9" r="3.2"/><circle cx="281.2" cy="83.9" r="3.2"/><circle cx="277.0" cy="88.9" r="3.2"/><circle cx="272.8" cy="93.8" r="3.2"/><circle cx="269.1" cy="98.8" r="3.2"/><circle cx="265.6" cy="103.8" r="3.2"/><circle cx="262.0" cy="108.8" r="3.2"/><circle cx="259.8" cy="113.7" r="3.2"/><circle cx="257.5" cy="118.7" r="3.2"/><circle cx="255.2" cy="123.7" r="3.2"/><circle cx="253.0" cy="128.7" r="3.2"/><circle cx="251.8" cy="133.6" r="3.2"/><circle cx="250.7" cy="138.6" r="3.2"/><circle cx="249.5" cy="143.6" r="3.2"/><circle cx="248.3" cy="148.5" r="3.2"/><circle cx="247.2" cy="153.5" r="3.2"/><circle cx="246.0" cy="158.5" r="3.2"/><circle cx="245.2" cy="163.5" r="3.2"/><circle cx="244.5" cy="168.4" r="3.2"/><circle cx="243.8" cy="173.4" r="3.2"/><circle cx="243.0" cy="178.4" r="3.2"/><circle cx="242.2" cy="183.4" r="3.2"/><circle cx="241.5" cy="188.3" r="3.2"/><circle cx="240.8" cy="193.3" r="3.2"/><circle cx="240.0" cy="198.3" r="3.2"/><circle cx="239.5" cy="203.3" r="3.2"/><circle cx="239.0" cy="208.2" r="3.2"/><circle cx="238.5" cy="213.2" r="3.2"/><circle cx="238.0" cy="218.2" r="3.2"/><circle cx="237.5" cy="223.2" r="3.2"/><circle cx="237.0" cy="228.1" r="3.2"/><circle cx="236.5" cy="233.1" r="3.2"/><circle cx="236.0" cy="238.1" r="3.2"/><circle cx="236.0" cy="243.1" r="3.2"/><circle cx="236.0" cy="248.0" r="3.2"/><circle cx="236.0" cy="253.0" r="3.2"/><circle cx="236.0" cy="258.0" r="3.2"/><circle cx="236.0" cy="263.0" r="3.2"/><circle cx="236.0" cy="267.9" r="3.2"/><circle cx="236.0" cy="272.9" r="3.2"/><circle cx="236.0" cy="277.9" r="3.2"/><circle cx="236.0" cy="282.9" r="3.2"/><circle cx="236.0" cy="287.8" r="3.2"/><circle cx="236.0" cy="292.8" r="3.2"/><circle cx="236.0" cy="297.8" r="3.2"/><circle cx="236.2" cy="302.8" r="3.2"/><circle cx="236.3" cy="307.8" r="3.2"/><circle cx="236.5" cy="312.7" r="3.2"/><circle cx="236.7" cy="317.7" r="3.2"/><circle cx="236.8" cy="322.7" r="3.2"/><circle cx="237.0" cy="327.6" r="3.2"/><circle cx="237.2" cy="332.6" r="3.2"/><circle cx="237.3" cy="337.6" r="3.2"/><circle cx="237.5" cy="342.6" r="3.2"/><circle cx="237.7" cy="347.6" r="3.2"/><circle cx="237.8" cy="352.5" r="3.2"/><circle cx="238.0" cy="357.5" r="3.2"/><circle cx="236.5" cy="362.5" r="3.2"/><circle cx="235.0" cy="367.4" r="3.2"/><circle cx="233.5" cy="372.4" r="3.2"/><circle cx="232.0" cy="377.4" r="3.2"/><circle cx="230.5" cy="382.4" r="3.2"/><circle cx="229.0" cy="387.3" r="3.2"/><circle cx="227.5" cy="392.3" r="3.2"/><circle cx="226.0" cy="397.3" r="3.2"/><circle cx="224.5" cy="402.3" r="3.2"/><circle cx="223.0" cy="407.2" r="3.2"/><circle cx="221.5" cy="412.2" r="3.2"/><circle cx="220.0" cy="417.2" r="3.2"/><circle cx="220.4" cy="422.2" r="3.2"/><circle cx="220.8" cy="427.1" r="3.2"/><circle cx="221.2" cy="432.1" r="3.2"/><circle cx="221.7" cy="437.1" r="3.2"/><circle cx="222.1" cy="442.1" r="3.2"/><circle cx="222.5" cy="447.1" r="3.2"/><circle cx="222.9" cy="452.0" r="3.2"/><circle cx="223.3" cy="457.0" r="3.2"/><circle cx="223.8" cy="462.0" r="3.2"/><circle cx="224.2" cy="466.9" r="3.2"/><circle cx="224.6" cy="471.9" r="3.2"/><circle cx="225.0" cy="476.9" r="3.2"/><circle cx="224.1" cy="481.9" r="3.2"/><circle cx="223.2" cy="486.8" r="3.2"/><circle cx="222.2" cy="491.8" r="3.2"/><circle cx="221.3" cy="496.8" r="3.2"/><circle cx="220.4" cy="501.8" r="3.2"/><circle cx="219.5" cy="506.8" r="3.2"/><circle cx="218.6" cy="511.7" r="3.2"/><circle cx="217.7" cy="516.7" r="3.2"/><circle cx="216.8" cy="521.7" r="3.2"/><circle cx="215.8" cy="526.6" r="3.2"/><circle cx="214.9" cy="531.6" r="3.2"/><circle cx="214.0" cy="536.6" r="3.2"/><circle cx="212.8" cy="541.6" r="3.2"/><circle cx="211.7" cy="546.6" r="3.2"/><circle cx="210.5" cy="551.5" r="3.2"/><circle cx="209.3" cy="556.5" r="3.2"/><circle cx="208.2" cy="561.5" r="3.2"/><circle cx="207.0" cy="566.5" r="3.2"/><circle cx="205.8" cy="571.4" r="3.2"/><circle cx="204.7" cy="576.4" r="3.2"/><circle cx="203.5" cy="581.4" r="3.2"/><circle cx="202.3" cy="586.4" r="3.2"/><circle cx="201.2" cy="591.3" r="3.2"/><circle cx="200.0" cy="596.3" r="3.2"/><circle cx="199.2" cy="601.3" r="3.2"/><circle cx="198.3" cy="606.2" r="3.2"/><circle cx="197.5" cy="611.2" r="3.2"/><circle cx="196.7" cy="616.2" r="3.2"/><circle cx="195.8" cy="621.2" r="3.2"/><circle cx="195.0" cy="626.2" r="3.2"/><circle cx="194.2" cy="631.1" r="3.2"/><circle cx="193.3" cy="636.1" r="3.2"/><circle cx="192.5" cy="641.1" r="3.2"/><circle cx="191.7" cy="646.1" r="3.2"/><circle cx="190.8" cy="651.0" r="3.2"/><circle cx="190.0" cy="656.0" r="3.2"/><circle cx="189.2" cy="661.0" r="3.2"/><circle cx="188.3" cy="666.0" r="3.2"/><circle cx="187.5" cy="670.9" r="3.2"/><circle cx="186.7" cy="675.9" r="3.2"/><circle cx="185.8" cy="680.9" r="3.2"/><circle cx="185.0" cy="685.9" r="3.2"/><circle cx="184.2" cy="690.8" r="3.2"/><circle cx="183.3" cy="695.8" r="3.2"/><circle cx="182.5" cy="700.8" r="3.2"/><circle cx="181.7" cy="705.8" r="3.2"/><circle cx="180.8" cy="710.7" r="3.2"/><circle cx="180.0" cy="715.7" r="3.2"/><circle cx="179.3" cy="720.7" r="3.2"/><circle cx="178.7" cy="725.7" r="3.2"/><circle cx="178.0" cy="730.6" r="3.2"/><circle cx="177.3" cy="735.6" r="3.2"/><circle cx="176.7" cy="740.6" r="3.2"/><circle cx="176.0" cy="745.6" r="3.2"/><circle cx="175.3" cy="750.5" r="3.2"/><circle cx="174.7" cy="755.5" r="3.2"/><circle cx="174.0" cy="760.5" r="3.2"/><circle cx="173.3" cy="765.5" r="3.2"/><circle cx="172.7" cy="770.4" r="3.2"/><circle cx="172.0" cy="775.4" r="3.2"/><circle cx="171.5" cy="780.4" r="3.2"/><circle cx="171.0" cy="785.4" r="3.2"/><circle cx="170.5" cy="790.3" r="3.2"/><circle cx="170.0" cy="795.3" r="3.2"/><circle cx="169.5" cy="800.3" r="3.2"/><circle cx="169.0" cy="805.2" r="3.2"/><circle cx="168.5" cy="810.2" r="3.2"/><circle cx="168.0" cy="815.2" r="3.2"/></g>
<polyline points="469.5,21.2 458.7,31.1 447.8,41.1 437.0,51.0 402.0,61.0 356.0,70.9 311.0,80.9 284.5,90.8 274.5,100.8 268.4,110.7 261.4,120.7 255.5,130.6 252.4,140.6 248.4,150.5 246.1,160.5 245.5,170.4 243.3,180.4 242.2,190.3 242.7,200.3 242.7,210.2 240.7,220.2 240.7,230.1 240.1,240.1 239.5,250.0 239.5,260.0 242.5,269.9 245.4,279.9 244.8,289.8 244.2,299.8 242.9,309.7 243.3,319.7 242.4,329.6 241.2,339.6 240.1,349.5 237.7,359.5 234.2,369.4 227.7,379.4 225.3,389.3 224.2,399.3 223.6,409.2 227.0,419.2 230.1,429.1 232.4,439.1 231.3,449.0 230.7,459.0 230.1,468.9 230.1,478.9 229.5,488.8 227.7,498.8 226.5,508.7 224.8,518.7 221.8,528.6 219.5,538.6 214.2,548.5 212.4,558.5 211.8,568.4 210.1,578.4 207.7,588.3 205.9,598.3 204.2,608.2 204.5,618.2 204.8,628.1 201.2,638.1 198.5,648.0 196.0,658.0 193.6,667.9 189.5,677.9 185.9,687.8 185.3,697.8 183.5,707.7 181.8,717.7 180.6,727.6 179.5,737.6 178.9,747.5 174.2,757.5 173.0,767.4 172.4,777.4 170.0,787.3 169.4,797.3 168.9,807.2" fill="none" stroke="#0000ff" stroke-width="2.4" stroke-linejoin="round"/>
<g fill="#0000ff"><circle cx="469.5" cy="21.2" r="5.8"/><circle cx="458.7" cy="31.1" r="5.8"/><circle cx="447.8" cy="41.1" r="5.8"/><circle cx="437.0" cy="51.0" r="5.8"/><circle cx="402.0" cy="61.0" r="5.8"/><circle cx="356.0" cy="70.9" r="5.8"/><circle cx="311.0" cy="80.9" r="5.8"/><circle cx="284.5" cy="90.8" r="5.8"/><circle cx="274.5" cy="100.8" r="5.8"/><circle cx="268.4" cy="110.7" r="5.8"/><circle cx="261.4" cy="120.7" r="5.8"/><circle cx="255.5" cy="130.6" r="5.8"/><circle cx="252.4" cy="140.6" r="5.8"/><circle cx="248.4" cy="150.5" r="5.8"/><circle cx="246.1" cy="160.5" r="5.8"/><circle cx="245.5" cy="170.4" r="5.8"/><circle cx="243.3" cy="180.4" r="5.8"/><circle cx="242.2" cy="190.3" r="5.8"/><circle cx="242.7" cy="200.3" r="5.8"/><circle cx="242.7" cy="210.2" r="5.8"/><circle cx="240.7" cy="220.2" r="5.8"/><circle cx="240.7" cy="230.1" r="5.8"/><circle cx="240.1" cy="240.1" r="5.8"/><circle cx="239.5" cy="250.0" r="5.8"/><circle cx="239.5" cy="260.0" r="5.8"/><circle cx="242.5" cy="269.9" r="5.8"/><circle cx="245.4" cy="279.9" r="5.8"/><circle cx="244.8" cy="289.8" r="5.8"/><circle cx="244.2" cy="299.8" r="5.8"/><circle cx="242.9" cy="309.7" r="5.8"/><circle cx="243.3" cy="319.7" r="5.8"/><circle cx="242.4" cy="329.6" r="5.8"/><circle cx="241.2" cy="339.6" r="5.8"/><circle cx="240.1" cy="349.5" r="5.8"/><circle cx="237.7" cy="359.5" r="5.8"/><circle cx="234.2" cy="369.4" r="5.8"/><circle cx="227.7" cy="379.4" r="5.8"/><circle cx="225.3" cy="389.3" r="5.8"/><circle cx="224.2" cy="399.3" r="5.8"/><circle cx="223.6" cy="409.2" r="5.8"/><circle cx="227.0" cy="419.2" r="5.8"/><circle cx="230.1" cy="429.1" r="5.8"/><circle cx="232.4" cy="439.1" r="5.8"/><circle cx="231.3" cy="449.0" r="5.8"/><circle cx="230.7" cy="459.0" r="5.8"/><circle cx="230.1" cy="468.9" r="5.8"/><circle cx="230.1" cy="478.9" r="5.8"/><circle cx="229.5" cy="488.8" r="5.8"/><circle cx="227.7" cy="498.8" r="5.8"/><circle cx="226.5" cy="508.7" r="5.8"/><circle cx="224.8" cy="518.7" r="5.8"/><circle cx="221.8" cy="528.6" r="5.8"/><circle cx="219.5" cy="538.6" r="5.8"/><circle cx="214.2" cy="548.5" r="5.8"/><circle cx="212.4" cy="558.5" r="5.8"/><circle cx="211.8" cy="568.4" r="5.8"/><circle cx="210.1" cy="578.4" r="5.8"/><circle cx="207.7" cy="588.3" r="5.8"/><circle cx="205.9" cy="598.3" r="5.8"/><circle cx="204.2" cy="608.2" r="5.8"/><circle cx="204.5" cy="618.2" r="5.8"/><circle cx="204.8" cy="628.1" r="5.8"/><circle cx="201.2" cy="638.1" r="5.8"/><circle cx="198.5" cy="648.0" r="5.8"/><circle cx="196.0" cy="658.0" r="5.8"/><circle cx="193.6" cy="667.9" r="5.8"/><circle cx="189.5" cy="677.9" r="5.8"/><circle cx="185.9" cy="687.8" r="5.8"/><circle cx="185.3" cy="697.8" r="5.8"/><circle cx="183.5" cy="707.7" r="5.8"/><circle cx="181.8" cy="717.7" r="5.8"/><circle cx="180.6" cy="727.6" r="5.8"/><circle cx="179.5" cy="737.6" r="5.8"/><circle cx="178.9" cy="747.5" r="5.8"/><circle cx="174.2" cy="757.5" r="5.8"/><circle cx="173.0" cy="767.4" r="5.8"/><circle cx="172.4" cy="777.4" r="5.8"/><circle cx="170.0" cy="787.3" r="5.8"/><circle cx="169.4" cy="797.3" r="5.8"/><circle cx="168.9" cy="807.2" r="5.8"/></g>
<polygon points="456.5,19.2 456.6,21.2 456.7,23.2 456.8,25.2 456.9,27.2 457.0,29.1 456.0,31.1 455.0,33.1 454.0,35.1 452.8,37.1 451.6,39.1 450.4,41.1 449.1,43.1 447.9,45.1 446.7,47.1 445.5,49.0 443.9,51.0 442.3,53.0 440.7,55.0 439.1,57.0 437.5,59.0 436.6,61.0 435.7,63.0 434.9,65.0 434.0,67.0 433.1,69.0 431.7,70.9 430.3,72.9 428.9,74.9 427.5,76.9 426.1,78.9 423.0,80.9 420.0,82.9 416.9,84.9 413.9,86.9 410.8,88.9 405.5,90.8 400.3,92.8 395.0,94.8 389.8,96.8 384.5,98.8 379.5,100.8 374.5,102.8 369.5,104.8 364.5,106.8 359.5,108.8 354.7,110.7 350.0,112.7 345.2,114.7 340.5,116.7 335.7,118.7 333.2,120.7 330.7,122.7 328.3,124.7 325.8,126.7 323.3,128.7 320.8,130.6 318.3,132.6 315.9,134.6 313.4,136.6 310.9,138.6 309.0,140.6 307.1,142.6 305.2,144.6 303.3,146.6 301.4,148.5 299.4,150.5 297.5,152.5 295.6,154.5 293.7,156.5 291.8,158.5 290.3,160.5 288.9,162.5 287.4,164.5 286.0,166.5 284.5,168.4 283.0,170.4 281.6,172.4 280.1,174.4 278.7,176.4 277.2,178.4 276.1,180.4 275.0,182.4 274.0,184.4 272.9,186.4 271.8,188.3 270.7,190.3 269.6,192.3 268.5,194.3 267.5,196.3 266.4,198.3 265.4,200.3 264.5,202.3 263.5,204.3 262.6,206.3 261.7,208.2 260.7,210.2 259.8,212.2 258.8,214.2 257.9,216.2 256.9,218.2 256.5,220.2 256.1,222.2 255.7,224.2 255.2,226.2 254.8,228.1 254.4,230.1 254.0,232.1 253.5,234.1 253.1,236.1 252.7,238.1 252.2,240.1 251.8,242.1 251.4,244.1 251.0,246.1 250.5,248.0 250.1,250.0 249.7,252.0 249.2,254.0 248.8,256.0 248.4,258.0 248.0,260.0 247.5,262.0 247.1,264.0 246.7,266.0 246.2,267.9 245.9,269.9 245.5,271.9 245.2,273.9 244.8,275.9 244.4,277.9 244.1,279.9 243.7,281.9 243.3,283.9 242.9,285.9 242.5,287.8 242.2,289.8 241.8,291.8 241.4,293.8 241.0,295.8 240.7,297.8 240.3,299.8 239.9,301.8 239.5,303.8 239.1,305.8 238.8,307.8 238.4,309.7 238.0,311.7 237.6,313.7 237.2,315.7 236.8,317.7 236.8,319.7 236.7,321.7 236.6,323.7 236.5,325.7 236.4,327.6 236.3,329.6 236.2,331.6 236.1,333.6 236.0,335.6 235.9,337.6 235.8,339.6 235.7,341.6 235.7,343.6 235.6,345.6 235.5,347.6 235.4,349.5 235.3,351.5 235.2,353.5 235.1,355.5 235.0,357.5 234.9,359.5 234.8,361.5 234.7,363.5 234.6,365.5 234.5,367.4 234.5,369.4 234.4,371.4 234.3,373.4 234.2,375.4 234.1,377.4 234.0,379.4 233.9,381.4 233.8,383.4 233.7,385.4 233.6,387.3 233.5,389.3 233.4,391.3 233.4,393.3 233.3,395.3 233.2,397.3 233.1,399.3 233.0,401.3 232.9,403.3 232.8,405.3 232.7,407.2 232.6,409.2 232.5,411.2 232.4,413.2 232.3,415.2 232.2,417.2 232.0,419.2 231.8,421.2 231.6,423.2 231.4,425.2 231.1,427.1 230.9,429.1 230.7,431.1 230.5,433.1 230.2,435.1 230.0,437.1 229.8,439.1 229.6,441.1 229.3,443.1 229.1,445.1 228.9,447.1 228.7,449.0 228.4,451.0 228.2,453.0 228.0,455.0 227.8,457.0 227.5,459.0 227.3,461.0 227.1,463.0 226.9,465.0 226.6,466.9 226.4,468.9 226.2,470.9 226.0,472.9 225.8,474.9 225.5,476.9 225.3,478.9 225.1,480.9 224.9,482.9 224.6,484.9 224.4,486.8 224.2,488.8 224.0,490.8 223.7,492.8 223.5,494.8 223.3,496.8 223.1,498.8 222.8,500.8 222.6,502.8 222.4,504.8 222.2,506.8 221.9,508.7 221.7,510.7 221.5,512.7 221.3,514.7 221.0,516.7 220.8,518.7 220.5,520.7 220.2,522.7 219.9,524.7 219.6,526.6 219.4,528.6 219.1,530.6 218.8,532.6 218.5,534.6 218.2,536.6 217.9,538.6 217.7,540.6 217.4,542.6 217.1,544.6 216.8,546.6 216.5,548.5 216.3,550.5 216.0,552.5 215.7,554.5 215.4,556.5 215.1,558.5 214.8,560.5 214.6,562.5 214.3,564.5 214.0,566.5 213.7,568.4 213.4,570.4 213.2,572.4 212.9,574.4 212.6,576.4 212.3,578.4 212.0,580.4 211.7,582.4 211.5,584.4 211.2,586.4 210.9,588.3 210.6,590.3 210.3,592.3 210.1,594.3 209.8,596.3 209.5,598.3 209.1,600.3 208.8,602.3 208.5,604.3 208.2,606.2 207.9,608.2 207.5,610.2 207.2,612.2 206.9,614.2 206.6,616.2 206.3,618.2 206.0,620.2 205.8,622.2 205.5,624.2 205.2,626.2 205.0,628.1 204.7,630.1 204.4,632.1 204.1,634.1 203.9,636.1 203.6,638.1 203.3,640.1 203.1,642.1 202.8,644.1 202.5,646.1 202.3,648.0 202.0,650.0 201.7,652.0 201.4,654.0 201.2,656.0 200.9,658.0 200.7,660.0 200.4,662.0 200.1,664.0 199.9,666.0 199.6,667.9 199.4,669.9 199.1,671.9 198.8,673.9 198.6,675.9 198.3,677.9 198.1,679.9 197.8,681.9 197.5,683.9 197.3,685.9 197.0,687.8 196.8,689.8 196.5,691.8 196.2,693.8 196.0,695.8 195.7,697.8 195.5,699.8 195.2,701.8 195.0,703.8 194.7,705.8 194.4,707.7 194.2,709.7 193.9,711.7 193.7,713.7 193.4,715.7 193.1,717.7 192.8,719.7 192.6,721.7 192.3,723.7 192.0,725.7 191.8,727.6 191.5,729.6 191.2,731.6 190.9,733.6 190.7,735.6 190.4,737.6 190.1,739.6 189.8,741.6 189.6,743.6 189.3,745.6 189.0,747.5 188.7,749.5 188.4,751.5 188.2,753.5 187.9,755.5 187.6,757.5 187.3,759.5 187.1,761.5 186.8,763.5 186.5,765.5 186.3,767.4 186.0,769.4 185.7,771.4 185.4,773.4 185.2,775.4 184.9,777.4 184.6,779.4 184.3,781.4 184.1,783.4 183.8,785.4 183.5,787.3 183.2,789.3 183.0,791.3 182.7,793.3 182.4,795.3 182.1,797.3 181.9,799.3 181.6,801.3 181.3,803.3 181.0,805.2 180.8,807.2 180.5,809.2 180.2,811.2 179.9,813.2 179.7,815.2 185.2,815.2 185.4,813.2 185.6,811.2 185.9,809.2 186.1,807.2 186.4,805.2 186.6,803.3 186.9,801.3 187.1,799.3 187.4,797.3 187.6,795.3 187.8,793.3 188.1,791.3 188.3,789.3 188.6,787.3 188.8,785.4 189.1,783.4 189.3,781.4 189.6,779.4 189.8,777.4 190.0,775.4 190.3,773.4 190.5,771.4 190.8,769.4 191.0,767.4 191.3,765.5 191.5,763.5 191.8,761.5 192.0,759.5 192.3,757.5 192.5,755.5 192.7,753.5 193.0,751.5 193.2,749.5 193.5,747.5 193.7,745.6 194.0,743.6 194.2,741.6 194.5,739.6 194.7,737.6 195.0,735.6 195.2,733.6 195.4,731.6 195.7,729.6 195.9,727.6 196.2,725.7 196.4,723.7 196.7,721.7 196.9,719.7 197.2,717.7 197.4,715.7 197.6,713.7 197.8,711.7 198.0,709.7 198.2,707.7 198.4,705.8 198.7,703.8 198.9,701.8 199.1,699.8 199.3,697.8 199.5,695.8 199.7,693.8 199.9,691.8 200.1,689.8 200.3,687.8 200.5,685.9 200.7,683.9 201.0,681.9 201.2,679.9 201.4,677.9 201.6,675.9 201.8,673.9 202.0,671.9 202.2,669.9 202.4,667.9 202.6,666.0 202.8,664.0 203.0,662.0 203.3,660.0 203.5,658.0 203.7,656.0 203.9,654.0 204.1,652.0 204.3,650.0 204.5,648.0 204.7,646.1 204.9,644.1 205.1,642.1 205.2,640.1 205.4,638.1 205.6,636.1 205.8,634.1 206.0,632.1 206.2,630.1 206.4,628.1 206.6,626.2 206.8,624.2 207.0,622.2 207.2,620.2 207.4,618.2 207.6,616.2 207.9,614.2 208.1,612.2 208.4,610.2 208.6,608.2 208.8,606.2 209.1,604.3 209.3,602.3 209.6,600.3 209.8,598.3 210.1,596.3 210.4,594.3 210.6,592.3 210.9,590.3 211.2,588.3 211.5,586.4 211.8,584.4 212.0,582.4 212.3,580.4 212.6,578.4 212.9,576.4 213.2,574.4 213.5,572.4 213.7,570.4 214.0,568.4 214.3,566.5 214.6,564.5 214.9,562.5 215.1,560.5 215.4,558.5 215.7,556.5 216.0,554.5 216.3,552.5 216.6,550.5 216.8,548.5 217.1,546.6 217.4,544.6 217.7,542.6 218.0,540.6 218.2,538.6 218.5,536.6 218.8,534.6 219.1,532.6 219.4,530.6 219.7,528.6 219.9,526.6 220.2,524.7 220.5,522.7 220.8,520.7 221.1,518.7 221.3,516.7 221.6,514.7 221.8,512.7 222.0,510.7 222.2,508.7 222.5,506.8 222.7,504.8 222.9,502.8 223.1,500.8 223.4,498.8 223.6,496.8 223.8,494.8 224.0,492.8 224.3,490.8 224.5,488.8 224.7,486.8 224.9,484.9 225.2,482.9 225.4,480.9 225.6,478.9 225.8,476.9 226.1,474.9 226.3,472.9 226.5,470.9 226.7,468.9 226.9,466.9 227.2,465.0 227.4,463.0 227.6,461.0 227.8,459.0 228.1,457.0 228.3,455.0 228.5,453.0 228.7,451.0 229.0,449.0 229.2,447.1 229.4,445.1 229.6,443.1 229.9,441.1 230.1,439.1 230.3,437.1 230.5,435.1 230.8,433.1 231.0,431.1 231.2,429.1 231.4,427.1 231.7,425.2 231.9,423.2 232.1,421.2 232.3,419.2 232.6,417.2 232.6,415.2 232.7,413.2 232.8,411.2 232.9,409.2 233.0,407.2 233.1,405.3 233.2,403.3 233.3,401.3 233.4,399.3 233.5,397.3 233.6,395.3 233.7,393.3 233.7,391.3 233.8,389.3 233.9,387.3 234.0,385.4 234.1,383.4 234.2,381.4 234.3,379.4 234.4,377.4 234.5,375.4 234.6,373.4 234.7,371.4 234.8,369.4 234.8,367.4 234.9,365.5 235.0,363.5 235.1,361.5 235.2,359.5 235.3,357.5 235.4,355.5 235.5,353.5 235.6,351.5 235.7,349.5 235.8,347.6 235.9,345.6 236.0,343.6 236.0,341.6 236.1,339.6 236.2,337.6 236.3,335.6 236.4,333.6 236.5,331.6 236.6,329.6 236.7,327.6 236.8,325.7 236.9,323.7 237.0,321.7 237.1,319.7 237.2,317.7 237.5,315.7 237.9,313.7 238.3,311.7 238.7,309.7 239.1,307.8 239.4,305.8 239.8,303.8 240.2,301.8 240.6,299.8 241.0,297.8 241.3,295.8 241.7,293.8 242.1,291.8 242.5,289.8 242.8,287.8 243.2,285.9 243.6,283.9 244.0,281.9 244.4,279.9 244.8,277.9 245.1,275.9 245.6,273.9 246.0,271.9 246.3,269.9 246.8,267.9 247.2,266.0 247.7,264.0 248.2,262.0 248.6,260.0 249.1,258.0 249.6,256.0 250.0,254.0 250.5,252.0 251.0,250.0 251.4,248.0 251.9,246.1 252.4,244.1 252.8,242.1 253.3,240.1 253.8,238.1 254.2,236.1 254.7,234.1 255.2,232.1 255.6,230.1 256.1,228.1 256.6,226.2 257.0,224.2 257.5,222.2 258.0,220.2 258.4,218.2 259.5,216.2 260.5,214.2 261.5,212.2 262.5,210.2 263.5,208.2 264.6,206.3 265.6,204.3 266.6,202.3 267.6,200.3 268.6,198.3 269.8,196.3 270.9,194.3 272.1,192.3 273.3,190.3 274.4,188.3 275.6,186.4 276.7,184.4 277.9,182.4 279.0,180.4 280.2,178.4 281.7,176.4 283.1,174.4 284.6,172.4 286.0,170.4 287.5,168.4 289.0,166.5 290.4,164.5 291.9,162.5 293.3,160.5 294.8,158.5 296.7,156.5 298.6,154.5 300.5,152.5 302.4,150.5 304.4,148.5 306.3,146.6 308.2,144.6 310.1,142.6 312.0,140.6 313.9,138.6 316.4,136.6 318.9,134.6 321.3,132.6 323.8,130.6 326.3,128.7 328.8,126.7 331.3,124.7 333.7,122.7 336.2,120.7 338.7,118.7 343.5,116.7 348.2,114.7 353.0,112.7 357.7,110.7 362.5,108.8 367.5,106.8 372.5,104.8 377.5,102.8 382.5,100.8 387.5,98.8 392.8,96.8 398.0,94.8 403.3,92.8 408.5,90.8 413.8,88.9 416.9,86.9 419.9,84.9 423.0,82.9 426.0,80.9 429.1,78.9 430.5,76.9 431.9,74.9 433.3,72.9 434.7,70.9 436.1,69.0 437.0,67.0 437.9,65.0 438.7,63.0 439.6,61.0 440.5,59.0 442.1,57.0 443.7,55.0 445.3,53.0 446.9,51.0 448.5,49.0 449.7,47.1 450.9,45.1 452.1,43.1 453.4,41.1 454.6,39.1 455.8,37.1 457.0,35.1 458.0,33.1 459.0,31.1 460.0,29.1 459.9,27.2 459.8,25.2 459.7,23.2 459.6,21.2 459.5,19.2" fill="#ff0000" stroke="#ff0000" stroke-width="4" stroke-linejoin="round"/>
<g fill="#ff0000"><circle cx="458.0" cy="19.2" r="5.8"/><circle cx="458.2" cy="23.2" r="5.8"/><circle cx="458.4" cy="27.2" r="5.8"/><circle cx="457.5" cy="31.1" r="5.8"/><circle cx="455.5" cy="35.1" r="5.8"/><circle cx="453.1" cy="39.1" r="5.8"/><circle cx="450.6" cy="43.1" r="5.8"/><circle cx="447.0" cy="49.0" r="5.8"/><circle cx="439.0" cy="59.0" r="5.8"/><circle cx="434.6" cy="69.0" r="5.8"/><circle cx="427.6" cy="78.9" r="5.8"/><circle cx="412.3" cy="88.9" r="5.8"/><circle cx="386.0" cy="98.8" r="5.8"/><circle cx="361.0" cy="108.8" r="5.8"/><circle cx="337.2" cy="118.7" r="5.8"/><circle cx="312.4" cy="138.6" r="5.8"/><circle cx="293.3" cy="158.5" r="5.8"/><circle cx="278.7" cy="178.4" r="5.8"/><circle cx="267.5" cy="198.3" r="5.8"/><circle cx="257.7" cy="218.2" r="5.8"/><circle cx="246.5" cy="267.9" r="5.8"/><circle cx="237.0" cy="317.7" r="5.8"/><circle cx="232.4" cy="417.2" r="5.8"/><circle cx="221.2" cy="516.7" r="5.8"/><circle cx="207.1" cy="616.2" r="5.8"/><circle cx="195.4" cy="715.7" r="5.8"/><circle cx="182.4" cy="815.2" r="5.8"/></g>
<polyline points="463.0,19.2 460.0,23.2 456.0,27.2 451.0,31.1 444.0,35.1 437.0,39.1 431.0,43.1 425.0,49.0 408.0,59.0 377.0,69.0 339.0,78.9 314.5,88.9 296.3,98.8 284.6,108.8 276.5,118.7 269.6,138.6 264.7,158.5 256.2,178.4 250.0,198.3 246.7,218.2 239.5,267.9 236.5,317.7 223.3,417.2 210.6,516.7 197.4,616.2 185.3,715.7 175.3,815.2" fill="none" stroke="#008000" stroke-width="2.4" stroke-linejoin="round"/>
<g fill="#008000"><circle cx="463.0" cy="19.2" r="5.8"/><circle cx="460.0" cy="23.2" r="5.8"/><circle cx="456.0" cy="27.2" r="5.8"/><circle cx="451.0" cy="31.1" r="5.8"/><circle cx="444.0" cy="35.1" r="5.8"/><circle cx="437.0" cy="39.1" r="5.8"/><circle cx="431.0" cy="43.1" r="5.8"/><circle cx="425.0" cy="49.0" r="5.8"/><circle cx="408.0" cy="59.0" r="5.8"/><circle cx="377.0" cy="69.0" r="5.8"/><circle cx="339.0" cy="78.9" r="5.8"/><circle cx="314.5" cy="88.9" r="5.8"/><circle cx="296.3" cy="98.8" r="5.8"/><circle cx="284.6" cy="108.8" r="5.8"/><circle cx="276.5" cy="118.7" r="5.8"/><circle cx="269.6" cy="138.6" r="5.8"/><circle cx="264.7" cy="158.5" r="5.8"/><circle cx="256.2" cy="178.4" r="5.8"/><circle cx="250.0" cy="198.3" r="5.8"/><circle cx="246.7" cy="218.2" r="5.8"/><circle cx="239.5" cy="267.9" r="5.8"/><circle cx="236.5" cy="317.7" r="5.8"/><circle cx="223.3" cy="417.2" r="5.8"/><circle cx="210.6" cy="516.7" r="5.8"/><circle cx="197.4" cy="616.2" r="5.8"/><circle cx="185.3" cy="715.7" r="5.8"/><circle cx="175.3" cy="815.2" r="5.8"/></g>
<polyline points="443.0,20.2 442.5,22.3 441.5,24.5 440.0,26.8 436.0,29.3 425.0,32.0 416.0,35.0 409.0,38.2 403.5,41.9 400.0,46.0 396.0,50.7 391.5,56.0 386.5,62.2 384.6,69.4 374.9,77.8 363.2,87.7 349.2,99.5 329.5,113.5 305.2,130.2 284.3,150.2 268.6,174.1 256.8,202.9 247.1,237.6 238.3,279.2 225.3,329.3 214.2,389.6 205.3,461.9 193.0,548.6 178.3,652.3 165.3,775.8 150.0,922.5" fill="none" stroke="#ff00ff" stroke-width="2.4" stroke-linejoin="round"/>
<g fill="#ff00ff"><circle cx="443.0" cy="20.2" r="5.8"/><circle cx="442.5" cy="22.3" r="5.8"/><circle cx="441.5" cy="24.5" r="5.8"/><circle cx="440.0" cy="26.8" r="5.8"/><circle cx="436.0" cy="29.3" r="5.8"/><circle cx="425.0" cy="32.0" r="5.8"/><circle cx="416.0" cy="35.0" r="5.8"/><circle cx="409.0" cy="38.2" r="5.8"/><circle cx="403.5" cy="41.9" r="5.8"/><circle cx="400.0" cy="46.0" r="5.8"/><circle cx="396.0" cy="50.7" r="5.8"/><circle cx="391.5" cy="56.0" r="5.8"/><circle cx="386.5" cy="62.2" r="5.8"/><circle cx="384.6" cy="69.4" r="5.8"/><circle cx="374.9" cy="77.8" r="5.8"/><circle cx="363.2" cy="87.7" r="5.8"/><circle cx="349.2" cy="99.5" r="5.8"/><circle cx="329.5" cy="113.5" r="5.8"/><circle cx="305.2" cy="130.2" r="5.8"/><circle cx="284.3" cy="150.2" r="5.8"/><circle cx="268.6" cy="174.1" r="5.8"/><circle cx="256.8" cy="202.9" r="5.8"/><circle cx="247.1" cy="237.6" r="5.8"/><circle cx="238.3" cy="279.2" r="5.8"/><circle cx="225.3" cy="329.3" r="5.8"/><circle cx="214.2" cy="389.6" r="5.8"/><circle cx="205.3" cy="461.9" r="5.8"/><circle cx="193.0" cy="548.6" r="5.8"/><circle cx="178.3" cy="652.3" r="5.8"/><circle cx="165.3" cy="775.8" r="5.8"/><circle cx="150.0" cy="922.5" r="5.8"/></g>
</g>
<g clip-path="url(#cp2)">
<g fill="#00ffff"><circle cx="725.0" cy="19.2" r="3.2"/><circle cx="725.0" cy="24.2" r="3.2"/><circle cx="725.0" cy="29.1" r="3.2"/><circle cx="725.0" cy="34.1" r="3.2"/><circle cx="725.0" cy="39.1" r="3.2"/><circle cx="725.0" cy="44.1" r="3.2"/><circle cx="725.0" cy="49.0" r="3.2"/><circle cx="726.7" cy="54.0" r="3.2"/><circle cx="735.0" cy="59.0" r="3.2"/><circle cx="749.2" cy="64.0" r="3.2"/><circle cx="754.6" cy="69.0" r="3.2"/><circle cx="757.8" cy="73.9" r="3.2"/><circle cx="761.0" cy="78.9" r="3.2"/><circle cx="765.4" cy="83.9" r="3.2"/><circle cx="769.8" cy="88.9" r="3.2"/><circle cx="772.8" cy="93.8" r="3.2"/><circle cx="775.0" cy="98.8" r="3.2"/><circle cx="777.2" cy="103.8" r="3.2"/><circle cx="779.4" cy="108.8" r="3.2"/><circle cx="781.6" cy="113.7" r="3.2"/><circle cx="786.7" cy="118.7" r="3.2"/><circle cx="792.5" cy="123.7" r="3.2"/><circle cx="798.3" cy="128.7" r="3.2"/><circle cx="803.9" cy="133.6" r="3.2"/><circle cx="808.4" cy="138.6" r="3.2"/><circle cx="812.4" cy="143.6" r="3.2"/><circle cx="814.6" cy="148.5" r="3.2"/><circle cx="816.7" cy="153.5" r="3.2"/><circle cx="819.0" cy="158.5" r="3.2"/><circle cx="821.5" cy="163.5" r="3.2"/><circle cx="824.0" cy="168.4" r="3.2"/><circle cx="825.1" cy="173.4" r="3.2"/><circle cx="826.2" cy="178.4" r="3.2"/><circle cx="827.3" cy="183.4" r="3.2"/><circle cx="828.4" cy="188.3" r="3.2"/><circle cx="830.0" cy="193.3" r="3.2"/><circle cx="831.6" cy="198.3" r="3.2"/><circle cx="833.1" cy="203.3" r="3.2"/><circle cx="834.7" cy="208.2" r="3.2"/><circle cx="836.4" cy="213.2" r="3.2"/><circle cx="838.5" cy="218.2" r="3.2"/><circle cx="840.5" cy="223.2" r="3.2"/><circle cx="842.5" cy="228.1" r="3.2"/><circle cx="844.6" cy="233.1" r="3.2"/><circle cx="845.9" cy="238.1" r="3.2"/><circle cx="847.1" cy="243.1" r="3.2"/><circle cx="848.2" cy="248.0" r="3.2"/><circle cx="849.4" cy="253.0" r="3.2"/><circle cx="850.5" cy="258.0" r="3.2"/><circle cx="851.5" cy="263.0" r="3.2"/><circle cx="852.3" cy="267.9" r="3.2"/><circle cx="853.1" cy="272.9" r="3.2"/><circle cx="853.9" cy="277.9" r="3.2"/><circle cx="854.7" cy="282.9" r="3.2"/><circle cx="855.5" cy="287.8" r="3.2"/><circle cx="856.4" cy="292.8" r="3.2"/><circle cx="857.3" cy="297.8" r="3.2"/><circle cx="858.2" cy="302.8" r="3.2"/><circle cx="859.2" cy="307.8" r="3.2"/><circle cx="860.1" cy="312.7" r="3.2"/><circle cx="861.0" cy="317.7" r="3.2"/><circle cx="861.0" cy="322.7" r="3.2"/><circle cx="861.0" cy="327.6" r="3.2"/><circle cx="861.0" cy="332.6" r="3.2"/><circle cx="861.0" cy="337.6" r="3.2"/><circle cx="861.0" cy="342.6" r="3.2"/><circle cx="861.0" cy="347.6" r="3.2"/><circle cx="861.1" cy="352.5" r="3.2"/><circle cx="861.3" cy="357.5" r="3.2"/><circle cx="861.4" cy="362.5" r="3.2"/><circle cx="861.6" cy="367.4" r="3.2"/><circle cx="861.7" cy="372.4" r="3.2"/><circle cx="861.9" cy="377.4" r="3.2"/><circle cx="862.2" cy="382.4" r="3.2"/><circle cx="863.4" cy="387.3" r="3.2"/><circle cx="864.6" cy="392.3" r="3.2"/><circle cx="865.8" cy="397.3" r="3.2"/><circle cx="867.0" cy="402.3" r="3.2"/><circle cx="868.2" cy="407.2" r="3.2"/><circle cx="869.5" cy="412.2" r="3.2"/><circle cx="870.8" cy="417.2" r="3.2"/><circle cx="871.8" cy="422.2" r="3.2"/><circle cx="872.5" cy="427.1" r="3.2"/><circle cx="873.2" cy="432.1" r="3.2"/><circle cx="874.0" cy="437.1" r="3.2"/><circle cx="874.2" cy="442.1" r="3.2"/><circle cx="874.5" cy="447.1" r="3.2"/><circle cx="874.8" cy="452.0" r="3.2"/><circle cx="875.0" cy="457.0" r="3.2"/><circle cx="875.2" cy="462.0" r="3.2"/><circle cx="875.5" cy="466.9" r="3.2"/><circle cx="875.8" cy="471.9" r="3.2"/><circle cx="876.0" cy="476.9" r="3.2"/><circle cx="876.1" cy="481.9" r="3.2"/><circle cx="876.3" cy="486.8" r="3.2"/><circle cx="876.4" cy="491.8" r="3.2"/><circle cx="876.6" cy="496.8" r="3.2"/><circle cx="876.7" cy="501.8" r="3.2"/><circle cx="876.9" cy="506.8" r="3.2"/><circle cx="877.0" cy="511.7" r="3.2"/><circle cx="877.1" cy="516.7" r="3.2"/><circle cx="877.3" cy="521.7" r="3.2"/><circle cx="877.4" cy="526.6" r="3.2"/><circle cx="877.6" cy="531.6" r="3.2"/><circle cx="877.7" cy="536.6" r="3.2"/><circle cx="877.8" cy="541.6" r="3.2"/><circle cx="877.9" cy="546.6" r="3.2"/><circle cx="877.9" cy="551.5" r="3.2"/><circle cx="878.0" cy="556.5" r="3.2"/><circle cx="878.1" cy="561.5" r="3.2"/><circle cx="878.2" cy="566.5" r="3.2"/><circle cx="878.3" cy="571.4" r="3.2"/><circle cx="878.4" cy="576.4" r="3.2"/><circle cx="878.4" cy="581.4" r="3.2"/><circle cx="878.5" cy="586.4" r="3.2"/><circle cx="878.6" cy="591.3" r="3.2"/><circle cx="878.7" cy="596.3" r="3.2"/><circle cx="878.8" cy="601.3" r="3.2"/><circle cx="878.8" cy="606.2" r="3.2"/><circle cx="878.9" cy="611.2" r="3.2"/><circle cx="879.0" cy="616.2" r="3.2"/><circle cx="879.0" cy="621.2" r="3.2"/><circle cx="879.0" cy="626.2" r="3.2"/><circle cx="879.0" cy="631.1" r="3.2"/><circle cx="879.0" cy="636.1" r="3.2"/><circle cx="878.8" cy="641.1" r="3.2"/><circle cx="878.5" cy="646.1" r="3.2"/><circle cx="878.2" cy="651.0" r="3.2"/><circle cx="878.0" cy="656.0" r="3.2"/><circle cx="877.8" cy="661.0" r="3.2"/><circle cx="877.5" cy="666.0" r="3.2"/><circle cx="877.2" cy="670.9" r="3.2"/><circle cx="877.0" cy="675.9" r="3.2"/><circle cx="876.1" cy="680.9" r="3.2"/><circle cx="875.2" cy="685.9" r="3.2"/><circle cx="874.3" cy="690.8" r="3.2"/><circle cx="873.4" cy="695.8" r="3.2"/><circle cx="872.5" cy="700.8" r="3.2"/><circle cx="872.0" cy="705.8" r="3.2"/><circle cx="872.0" cy="710.7" r="3.2"/><circle cx="871.9" cy="715.7" r="3.2"/><circle cx="871.8" cy="720.7" r="3.2"/><circle cx="871.0" cy="725.7" r="3.2"/><circle cx="869.4" cy="730.6" r="3.2"/><circle cx="867.1" cy="735.6" r="3.2"/><circle cx="867.1" cy="740.6" r="3.2"/><circle cx="867.1" cy="745.6" r="3.2"/><circle cx="867.1" cy="750.5" r="3.2"/><circle cx="860.0" cy="755.5" r="3.2"/><circle cx="851.8" cy="760.5" r="3.2"/><circle cx="846.0" cy="765.5" r="3.2"/><circle cx="847.5" cy="770.4" r="3.2"/><circle cx="848.9" cy="775.4" r="3.2"/><circle cx="847.7" cy="780.4" r="3.2"/><circle cx="846.5" cy="785.4" r="3.2"/><circle cx="845.2" cy="790.3" r="3.2"/><circle cx="844.0" cy="795.3" r="3.2"/><circle cx="843.5" cy="800.3" r="3.2"/><circle cx="843.0" cy="805.2" r="3.2"/><circle cx="842.5" cy="810.2" r="3.2"/><circle cx="842.0" cy="815.2" r="3.2"/><circle cx="724.0" cy="19.2" r="3.2"/><circle cx="724.0" cy="24.2" r="3.2"/><circle cx="724.0" cy="29.1" r="3.2"/><circle cx="724.0" cy="34.1" r="3.2"/><circle cx="724.0" cy="39.1" r="3.2"/><circle cx="724.0" cy="44.1" r="3.2"/><circle cx="724.0" cy="49.0" r="3.2"/><circle cx="732.0" cy="54.0" r="3.2"/><circle cx="740.0" cy="59.0" r="3.2"/><circle cx="745.0" cy="64.0" r="3.2"/><circle cx="750.0" cy="69.0" r="3.2"/><circle cx="752.5" cy="73.9" r="3.2"/><circle cx="755.0" cy="78.9" r="3.2"/><circle cx="757.5" cy="83.9" r="3.2"/><circle cx="760.0" cy="88.9" r="3.2"/><circle cx="762.5" cy="93.8" r="3.2"/><circle cx="765.0" cy="98.8" r="3.2"/><circle cx="767.5" cy="103.8" r="3.2"/><circle cx="770.0" cy="108.8" r="3.2"/><circle cx="772.5" cy="113.7" r="3.2"/><circle cx="775.0" cy="118.7" r="3.2"/><circle cx="780.7" cy="123.7" r="3.2"/><circle cx="786.4" cy="128.7" r="3.2"/><circle cx="791.2" cy="133.6" r="3.2"/><circle cx="792.5" cy="138.6" r="3.2"/><circle cx="793.8" cy="143.6" r="3.2"/><circle cx="798.7" cy="148.5" r="3.2"/><circle cx="802.9" cy="153.5" r="3.2"/><circle cx="806.1" cy="158.5" r="3.2"/><circle cx="809.4" cy="163.5" r="3.2"/><circle cx="814.0" cy="168.4" r="3.2"/><circle cx="817.7" cy="173.4" r="3.2"/><circle cx="820.6" cy="178.4" r="3.2"/><circle cx="823.4" cy="183.4" r="3.2"/><circle cx="825.3" cy="188.3" r="3.2"/><circle cx="827.0" cy="193.3" r="3.2"/><circle cx="828.7" cy="198.3" r="3.2"/><circle cx="830.3" cy="203.3" r="3.2"/><circle cx="832.0" cy="208.2" r="3.2"/><circle cx="833.7" cy="213.2" r="3.2"/><circle cx="835.3" cy="218.2" r="3.2"/><circle cx="837.0" cy="223.2" r="3.2"/><circle cx="838.7" cy="228.1" r="3.2"/><circle cx="840.3" cy="233.1" r="3.2"/><circle cx="842.0" cy="238.1" r="3.2"/><circle cx="843.0" cy="243.1" r="3.2"/><circle cx="844.0" cy="248.0" r="3.2"/><circle cx="845.0" cy="253.0" r="3.2"/><circle cx="846.0" cy="258.0" r="3.2"/><circle cx="847.0" cy="263.0" r="3.2"/><circle cx="848.0" cy="267.9" r="3.2"/><circle cx="849.0" cy="272.9" r="3.2"/><circle cx="850.0" cy="277.9" r="3.2"/><circle cx="850.9" cy="282.9" r="3.2"/><circle cx="851.8" cy="287.8" r="3.2"/><circle cx="852.6" cy="292.8" r="3.2"/><circle cx="853.5" cy="297.8" r="3.2"/><circle cx="854.4" cy="302.8" r="3.2"/><circle cx="855.2" cy="307.8" r="3.2"/><circle cx="856.1" cy="312.7" r="3.2"/><circle cx="857.0" cy="317.7" r="3.2"/><circle cx="857.1" cy="322.7" r="3.2"/><circle cx="857.2" cy="327.6" r="3.2"/><circle cx="857.4" cy="332.6" r="3.2"/><circle cx="857.5" cy="337.6" r="3.2"/><circle cx="857.6" cy="342.6" r="3.2"/><circle cx="857.8" cy="347.6" r="3.2"/><circle cx="857.9" cy="352.5" r="3.2"/><circle cx="858.0" cy="357.5" r="3.2"/><circle cx="858.5" cy="362.5" r="3.2"/><circle cx="859.0" cy="367.4" r="3.2"/><circle cx="859.5" cy="372.4" r="3.2"/><circle cx="860.0" cy="377.4" r="3.2"/><circle cx="860.5" cy="382.4" r="3.2"/><circle cx="861.0" cy="387.3" r="3.2"/><circle cx="861.5" cy="392.3" r="3.2"/><circle cx="862.0" cy="397.3" r="3.2"/><circle cx="863.0" cy="402.3" r="3.2"/><circle cx="864.0" cy="407.2" r="3.2"/><circle cx="865.0" cy="412.2" r="3.2"/><circle cx="866.0" cy="417.2" r="3.2"/><circle cx="866.8" cy="422.2" r="3.2"/><circle cx="867.5" cy="427.1" r="3.2"/><circle cx="868.2" cy="432.1" r="3.2"/><circle cx="869.0" cy="437.1" r="3.2"/><circle cx="869.8" cy="442.1" r="3.2"/><circle cx="870.5" cy="447.1" r="3.2"/><circle cx="871.2" cy="452.0" r="3.2"/><circle cx="872.0" cy="457.0" r="3.2"/><circle cx="872.3" cy="462.0" r="3.2"/><circle cx="872.7" cy="466.9" r="3.2"/><circle cx="873.0" cy="471.9" r="3.2"/><circle cx="873.3" cy="476.9" r="3.2"/><circle cx="873.7" cy="481.9" r="3.2"/><circle cx="874.0" cy="486.8" r="3.2"/><circle cx="874.3" cy="491.8" r="3.2"/><circle cx="874.7" cy="496.8" r="3.2"/><circle cx="875.0" cy="501.8" r="3.2"/><circle cx="875.3" cy="506.8" r="3.2"/><circle cx="875.7" cy="511.7" r="3.2"/><circle cx="876.0" cy="516.7" r="3.2"/><circle cx="876.0" cy="521.7" r="3.2"/><circle cx="876.0" cy="526.6" r="3.2"/><circle cx="876.0" cy="531.6" r="3.2"/><circle cx="876.0" cy="536.6" r="3.2"/><circle cx="876.0" cy="541.6" r="3.2"/><circle cx="876.0" cy="546.6" r="3.2"/><circle cx="876.0" cy="551.5" r="3.2"/><circle cx="876.0" cy="556.5" r="3.2"/><circle cx="876.0" cy="561.5" r="3.2"/><circle cx="876.0" cy="566.5" r="3.2"/><circle cx="876.0" cy="571.4" r="3.2"/><circle cx="876.0" cy="576.4" r="3.2"/><circle cx="875.9" cy="581.4" r="3.2"/><circle cx="875.8" cy="586.4" r="3.2"/><circle cx="875.6" cy="591.3" r="3.2"/><circle cx="875.5" cy="596.3" r="3.2"/><circle cx="875.4" cy="601.3" r="3.2"/><circle cx="875.2" cy="606.2" r="3.2"/><circle cx="875.1" cy="611.2" r="3.2"/><circle cx="875.0" cy="616.2" r="3.2"/><circle cx="873.0" cy="621.2" r="3.2"/><circle cx="871.0" cy="626.2" r="3.2"/><circle cx="869.0" cy="631.1" r="3.2"/><circle cx="867.0" cy="636.1" r="3.2"/><circle cx="864.1" cy="641.1" r="3.2"/><circle cx="861.2" cy="646.1" r="3.2"/><circle cx="858.2" cy="651.0" r="3.2"/><circle cx="857.9" cy="656.0" r="3.2"/><circle cx="861.3" cy="661.0" r="3.2"/><circle cx="865.3" cy="666.0" r="3.2"/><circle cx="864.0" cy="670.9" r="3.2"/><circle cx="860.2" cy="675.9" r="3.2"/><circle cx="858.1" cy="680.9" r="3.2"/><circle cx="856.0" cy="685.9" r="3.2"/><circle cx="854.2" cy="690.8" r="3.2"/><circle cx="852.3" cy="695.8" r="3.2"/><circle cx="850.5" cy="700.8" r="3.2"/><circle cx="848.7" cy="705.8" r="3.2"/><circle cx="846.8" cy="710.7" r="3.2"/><circle cx="845.0" cy="715.7" r="3.2"/><circle cx="844.4" cy="720.7" r="3.2"/><circle cx="843.8" cy="725.7" r="3.2"/><circle cx="843.2" cy="730.6" r="3.2"/><circle cx="842.7" cy="735.6" r="3.2"/><circle cx="842.1" cy="740.6" r="3.2"/><circle cx="841.5" cy="745.6" r="3.2"/><circle cx="840.9" cy="750.5" r="3.2"/><circle cx="840.3" cy="755.5" r="3.2"/><circle cx="839.8" cy="760.5" r="3.2"/><circle cx="839.2" cy="765.5" r="3.2"/><circle cx="838.6" cy="770.4" r="3.2"/><circle cx="838.0" cy="775.4" r="3.2"/><circle cx="837.9" cy="780.4" r="3.2"/><circle cx="837.8" cy="785.4" r="3.2"/><circle cx="837.6" cy="790.3" r="3.2"/><circle cx="837.5" cy="795.3" r="3.2"/><circle cx="837.4" cy="800.3" r="3.2"/><circle cx="837.2" cy="805.2" r="3.2"/><circle cx="837.1" cy="810.2" r="3.2"/><circle cx="837.0" cy="815.2" r="3.2"/><circle cx="723.0" cy="19.2" r="3.2"/><circle cx="722.9" cy="24.2" r="3.2"/><circle cx="722.7" cy="29.1" r="3.2"/><circle cx="722.6" cy="34.1" r="3.2"/><circle cx="722.4" cy="39.1" r="3.2"/><circle cx="722.3" cy="44.1" r="3.2"/><circle cx="722.2" cy="49.0" r="3.2"/><circle cx="722.0" cy="54.0" r="3.2"/><circle cx="720.0" cy="59.0" r="3.2"/><circle cx="718.2" cy="64.0" r="3.2"/><circle cx="719.5" cy="69.0" r="3.2"/><circle cx="723.8" cy="73.9" r="3.2"/><circle cx="730.0" cy="78.9" r="3.2"/><circle cx="736.1" cy="83.9" r="3.2"/><circle cx="742.2" cy="88.9" r="3.2"/><circle cx="748.3" cy="93.8" r="3.2"/><circle cx="752.5" cy="98.8" r="3.2"/><circle cx="753.8" cy="103.8" r="3.2"/><circle cx="755.0" cy="108.8" r="3.2"/><circle cx="756.2" cy="113.7" r="3.2"/><circle cx="758.0" cy="118.7" r="3.2"/><circle cx="759.9" cy="123.7" r="3.2"/><circle cx="761.8" cy="128.7" r="3.2"/><circle cx="763.6" cy="133.6" r="3.2"/><circle cx="765.1" cy="138.6" r="3.2"/><circle cx="766.5" cy="143.6" r="3.2"/><circle cx="767.8" cy="148.5" r="3.2"/><circle cx="769.2" cy="153.5" r="3.2"/><circle cx="770.8" cy="158.5" r="3.2"/><circle cx="772.6" cy="163.5" r="3.2"/><circle cx="774.5" cy="168.4" r="3.2"/><circle cx="776.4" cy="173.4" r="3.2"/><circle cx="778.3" cy="178.4" r="3.2"/><circle cx="780.4" cy="183.4" r="3.2"/><circle cx="782.5" cy="188.3" r="3.2"/><circle cx="784.6" cy="193.3" r="3.2"/><circle cx="786.2" cy="198.3" r="3.2"/><circle cx="787.7" cy="203.3" r="3.2"/><circle cx="788.0" cy="208.2" r="3.2"/><circle cx="788.0" cy="213.2" r="3.2"/><circle cx="788.0" cy="218.2" r="3.2"/><circle cx="788.0" cy="223.2" r="3.2"/><circle cx="788.0" cy="228.1" r="3.2"/><circle cx="788.0" cy="233.1" r="3.2"/><circle cx="788.0" cy="238.1" r="3.2"/><circle cx="788.0" cy="243.1" r="3.2"/><circle cx="788.0" cy="248.0" r="3.2"/><circle cx="789.3" cy="253.0" r="3.2"/><circle cx="791.4" cy="258.0" r="3.2"/><circle cx="793.6" cy="263.0" r="3.2"/><circle cx="795.7" cy="267.9" r="3.2"/><circle cx="797.9" cy="272.9" r="3.2"/><circle cx="800.0" cy="277.9" r="3.2"/><circle cx="801.5" cy="282.9" r="3.2"/><circle cx="803.0" cy="287.8" r="3.2"/><circle cx="804.5" cy="292.8" r="3.2"/><circle cx="806.0" cy="297.8" r="3.2"/><circle cx="807.5" cy="302.8" r="3.2"/><circle cx="809.0" cy="307.8" r="3.2"/><circle cx="810.5" cy="312.7" r="3.2"/><circle cx="812.0" cy="317.7" r="3.2"/><circle cx="817.6" cy="322.7" r="3.2"/><circle cx="823.2" cy="327.6" r="3.2"/><circle cx="828.9" cy="332.6" r="3.2"/><circle cx="831.2" cy="337.6" r="3.2"/><circle cx="832.7" cy="342.6" r="3.2"/><circle cx="834.2" cy="347.6" r="3.2"/><circle cx="835.7" cy="352.5" r="3.2"/><circle cx="835.5" cy="357.5" r="3.2"/><circle cx="834.9" cy="362.5" r="3.2"/><circle cx="832.4" cy="367.4" r="3.2"/><circle cx="829.5" cy="372.4" r="3.2"/><circle cx="826.5" cy="377.4" r="3.2"/><circle cx="823.6" cy="382.4" r="3.2"/><circle cx="820.6" cy="387.3" r="3.2"/><circle cx="819.5" cy="392.3" r="3.2"/><circle cx="818.4" cy="397.3" r="3.2"/><circle cx="817.3" cy="402.3" r="3.2"/><circle cx="817.1" cy="407.2" r="3.2"/><circle cx="817.0" cy="412.2" r="3.2"/><circle cx="817.0" cy="417.2" r="3.2"/><circle cx="821.1" cy="422.2" r="3.2"/><circle cx="825.3" cy="427.1" r="3.2"/><circle cx="827.6" cy="432.1" r="3.2"/><circle cx="830.0" cy="437.1" r="3.2"/><circle cx="829.3" cy="442.1" r="3.2"/><circle cx="828.7" cy="447.1" r="3.2"/><circle cx="828.0" cy="452.0" r="3.2"/><circle cx="827.3" cy="457.0" r="3.2"/><circle cx="826.7" cy="462.0" r="3.2"/><circle cx="826.0" cy="466.9" r="3.2"/><circle cx="826.0" cy="471.9" r="3.2"/><circle cx="826.0" cy="476.9" r="3.2"/><circle cx="826.0" cy="481.9" r="3.2"/><circle cx="826.0" cy="486.8" r="3.2"/><circle cx="826.0" cy="491.8" r="3.2"/><circle cx="826.0" cy="496.8" r="3.2"/><circle cx="826.0" cy="501.8" r="3.2"/><circle cx="826.0" cy="506.8" r="3.2"/><circle cx="826.0" cy="511.7" r="3.2"/><circle cx="826.0" cy="516.7" r="3.2"/><circle cx="827.1" cy="521.7" r="3.2"/><circle cx="828.2" cy="526.6" r="3.2"/><circle cx="829.3" cy="531.6" r="3.2"/><circle cx="828.2" cy="536.6" r="3.2"/><circle cx="826.7" cy="541.6" r="3.2"/><circle cx="825.1" cy="546.6" r="3.2"/><circle cx="823.6" cy="551.5" r="3.2"/><circle cx="822.0" cy="556.5" r="3.2"/><circle cx="821.6" cy="561.5" r="3.2"/><circle cx="821.2" cy="566.5" r="3.2"/><circle cx="820.8" cy="571.4" r="3.2"/><circle cx="820.5" cy="576.4" r="3.2"/><circle cx="820.1" cy="581.4" r="3.2"/><circle cx="819.7" cy="586.4" r="3.2"/><circle cx="819.4" cy="591.3" r="3.2"/><circle cx="819.0" cy="596.3" r="3.2"/><circle cx="820.4" cy="601.3" r="3.2"/><circle cx="821.9" cy="606.2" r="3.2"/><circle cx="823.3" cy="611.2" r="3.2"/><circle cx="824.7" cy="616.2" r="3.2"/><circle cx="825.0" cy="621.2" r="3.2"/><circle cx="825.2" cy="626.2" r="3.2"/><circle cx="825.5" cy="631.1" r="3.2"/><circle cx="825.8" cy="636.1" r="3.2"/><circle cx="826.0" cy="641.1" r="3.2"/><circle cx="826.3" cy="646.1" r="3.2"/><circle cx="826.6" cy="651.0" r="3.2"/><circle cx="826.8" cy="656.0" r="3.2"/><circle cx="827.1" cy="661.0" r="3.2"/><circle cx="827.4" cy="666.0" r="3.2"/><circle cx="827.6" cy="670.9" r="3.2"/><circle cx="827.9" cy="675.9" r="3.2"/><circle cx="828.1" cy="680.9" r="3.2"/><circle cx="828.4" cy="685.9" r="3.2"/><circle cx="828.7" cy="690.8" r="3.2"/><circle cx="828.9" cy="695.8" r="3.2"/><circle cx="829.2" cy="700.8" r="3.2"/><circle cx="829.5" cy="705.8" r="3.2"/><circle cx="829.7" cy="710.7" r="3.2"/><circle cx="830.0" cy="715.7" r="3.2"/><circle cx="830.1" cy="720.7" r="3.2"/><circle cx="830.2" cy="725.7" r="3.2"/><circle cx="830.3" cy="730.6" r="3.2"/><circle cx="830.4" cy="735.6" r="3.2"/><circle cx="830.5" cy="740.6" r="3.2"/><circle cx="830.5" cy="745.6" r="3.2"/><circle cx="830.6" cy="750.5" r="3.2"/><circle cx="830.7" cy="755.5" r="3.2"/><circle cx="830.8" cy="760.5" r="3.2"/><circle cx="830.9" cy="765.5" r="3.2"/><circle cx="831.0" cy="770.4" r="3.2"/><circle cx="831.1" cy="775.4" r="3.2"/><circle cx="831.2" cy="780.4" r="3.2"/><circle cx="831.3" cy="785.4" r="3.2"/><circle cx="831.3" cy="790.3" r="3.2"/><circle cx="831.4" cy="795.3" r="3.2"/><circle cx="831.5" cy="800.3" r="3.2"/><circle cx="831.6" cy="805.2" r="3.2"/><circle cx="831.7" cy="810.2" r="3.2"/><circle cx="831.8" cy="815.2" r="3.2"/><circle cx="726.0" cy="19.2" r="3.2"/><circle cx="726.0" cy="24.2" r="3.2"/><circle cx="726.0" cy="29.1" r="3.2"/><circle cx="726.0" cy="34.1" r="3.2"/><circle cx="726.0" cy="39.1" r="3.2"/><circle cx="726.0" cy="44.1" r="3.2"/><circle cx="726.0" cy="49.0" r="3.2"/><circle cx="733.1" cy="54.0" r="3.2"/><circle cx="745.0" cy="59.0" r="3.2"/><circle cx="749.4" cy="64.0" r="3.2"/><circle cx="753.2" cy="69.0" r="3.2"/><circle cx="756.4" cy="73.9" r="3.2"/><circle cx="758.4" cy="78.9" r="3.2"/><circle cx="760.2" cy="83.9" r="3.2"/><circle cx="762.0" cy="88.9" r="3.2"/><circle cx="763.5" cy="93.8" r="3.2"/><circle cx="765.0" cy="98.8" r="3.2"/><circle cx="766.5" cy="103.8" r="3.2"/><circle cx="768.0" cy="108.8" r="3.2"/><circle cx="769.7" cy="113.7" r="3.2"/><circle cx="771.3" cy="118.7" r="3.2"/><circle cx="773.0" cy="123.7" r="3.2"/><circle cx="774.7" cy="128.7" r="3.2"/><circle cx="776.3" cy="133.6" r="3.2"/><circle cx="778.0" cy="138.6" r="3.2"/><circle cx="779.8" cy="143.6" r="3.2"/><circle cx="781.5" cy="148.5" r="3.2"/><circle cx="783.2" cy="153.5" r="3.2"/><circle cx="785.0" cy="158.5" r="3.2"/><circle cx="786.8" cy="163.5" r="3.2"/><circle cx="788.5" cy="168.4" r="3.2"/><circle cx="790.2" cy="173.4" r="3.2"/><circle cx="792.0" cy="178.4" r="3.2"/><circle cx="794.0" cy="183.4" r="3.2"/><circle cx="796.0" cy="188.3" r="3.2"/><circle cx="798.0" cy="193.3" r="3.2"/><circle cx="800.0" cy="198.3" r="3.2"/><circle cx="802.0" cy="203.3" r="3.2"/><circle cx="804.0" cy="208.2" r="3.2"/><circle cx="806.0" cy="213.2" r="3.2"/><circle cx="808.0" cy="218.2" r="3.2"/><circle cx="807.8" cy="223.2" r="3.2"/><circle cx="807.7" cy="228.1" r="3.2"/><circle cx="807.5" cy="233.1" r="3.2"/><circle cx="808.8" cy="238.1" r="3.2"/><circle cx="810.4" cy="243.1" r="3.2"/><circle cx="812.0" cy="248.0" r="3.2"/><circle cx="813.6" cy="253.0" r="3.2"/><circle cx="815.2" cy="258.0" r="3.2"/><circle cx="816.8" cy="263.0" r="3.2"/><circle cx="818.4" cy="267.9" r="3.2"/><circle cx="820.0" cy="272.9" r="3.2"/><circle cx="821.1" cy="277.9" r="3.2"/><circle cx="821.5" cy="282.9" r="3.2"/><circle cx="821.9" cy="287.8" r="3.2"/><circle cx="822.2" cy="292.8" r="3.2"/><circle cx="822.6" cy="297.8" r="3.2"/><circle cx="822.9" cy="302.8" r="3.2"/><circle cx="823.3" cy="307.8" r="3.2"/><circle cx="823.6" cy="312.7" r="3.2"/><circle cx="824.0" cy="317.7" r="3.2"/><circle cx="825.2" cy="322.7" r="3.2"/><circle cx="826.5" cy="327.6" r="3.2"/><circle cx="827.8" cy="332.6" r="3.2"/><circle cx="829.0" cy="337.6" r="3.2"/><circle cx="830.2" cy="342.6" r="3.2"/><circle cx="831.5" cy="347.6" r="3.2"/><circle cx="832.8" cy="352.5" r="3.2"/><circle cx="834.0" cy="357.5" r="3.2"/><circle cx="834.1" cy="362.5" r="3.2"/><circle cx="834.1" cy="367.4" r="3.2"/><circle cx="834.2" cy="372.4" r="3.2"/><circle cx="834.2" cy="377.4" r="3.2"/><circle cx="834.3" cy="382.4" r="3.2"/><circle cx="834.4" cy="387.3" r="3.2"/><circle cx="834.4" cy="392.3" r="3.2"/><circle cx="834.5" cy="397.3" r="3.2"/><circle cx="834.5" cy="402.3" r="3.2"/><circle cx="834.6" cy="407.2" r="3.2"/><circle cx="834.7" cy="412.2" r="3.2"/><circle cx="834.7" cy="417.2" r="3.2"/><circle cx="834.8" cy="422.2" r="3.2"/><circle cx="835.7" cy="427.1" r="3.2"/><circle cx="836.8" cy="432.1" r="3.2"/><circle cx="837.8" cy="437.1" r="3.2"/><circle cx="838.9" cy="442.1" r="3.2"/><circle cx="839.7" cy="447.1" r="3.2"/><circle cx="840.1" cy="452.0" r="3.2"/><circle cx="840.6" cy="457.0" r="3.2"/><circle cx="849.7" cy="462.0" r="3.2"/><circle cx="853.6" cy="466.9" r="3.2"/><circle cx="857.5" cy="471.9" r="3.2"/><circle cx="858.5" cy="476.9" r="3.2"/><circle cx="858.8" cy="481.9" r="3.2"/><circle cx="859.1" cy="486.8" r="3.2"/><circle cx="859.4" cy="491.8" r="3.2"/><circle cx="859.8" cy="496.8" r="3.2"/><circle cx="860.1" cy="501.8" r="3.2"/><circle cx="860.4" cy="506.8" r="3.2"/><circle cx="858.6" cy="511.7" r="3.2"/><circle cx="848.3" cy="516.7" r="3.2"/><circle cx="839.2" cy="521.7" r="3.2"/><circle cx="835.3" cy="526.6" r="3.2"/><circle cx="830.5" cy="531.6" r="3.2"/><circle cx="830.9" cy="536.6" r="3.2"/><circle cx="832.6" cy="541.6" r="3.2"/><circle cx="834.3" cy="546.6" r="3.2"/><circle cx="835.0" cy="551.5" r="3.2"/><circle cx="835.1" cy="556.5" r="3.2"/><circle cx="835.2" cy="561.5" r="3.2"/><circle cx="835.3" cy="566.5" r="3.2"/><circle cx="835.8" cy="571.4" r="3.2"/><circle cx="836.7" cy="576.4" r="3.2"/><circle cx="837.5" cy="581.4" r="3.2"/><circle cx="837.2" cy="586.4" r="3.2"/><circle cx="836.5" cy="591.3" r="3.2"/><circle cx="835.8" cy="596.3" r="3.2"/><circle cx="835.3" cy="601.3" r="3.2"/><circle cx="835.3" cy="606.2" r="3.2"/><circle cx="835.3" cy="611.2" r="3.2"/><circle cx="835.3" cy="616.2" r="3.2"/><circle cx="837.4" cy="621.2" r="3.2"/><circle cx="843.6" cy="626.2" r="3.2"/><circle cx="843.6" cy="631.1" r="3.2"/><circle cx="838.9" cy="636.1" r="3.2"/><circle cx="837.9" cy="641.1" r="3.2"/><circle cx="837.0" cy="646.1" r="3.2"/><circle cx="836.0" cy="651.0" r="3.2"/><circle cx="835.0" cy="656.0" r="3.2"/><circle cx="834.6" cy="661.0" r="3.2"/><circle cx="834.2" cy="666.0" r="3.2"/><circle cx="833.9" cy="670.9" r="3.2"/><circle cx="833.5" cy="675.9" r="3.2"/><circle cx="833.1" cy="680.9" r="3.2"/><circle cx="832.8" cy="685.9" r="3.2"/><circle cx="832.4" cy="690.8" r="3.2"/><circle cx="832.0" cy="695.8" r="3.2"/><circle cx="831.9" cy="700.8" r="3.2"/><circle cx="831.8" cy="705.8" r="3.2"/><circle cx="831.7" cy="710.7" r="3.2"/><circle cx="831.5" cy="715.7" r="3.2"/><circle cx="831.4" cy="720.7" r="3.2"/><circle cx="831.3" cy="725.7" r="3.2"/><circle cx="831.2" cy="730.6" r="3.2"/><circle cx="831.1" cy="735.6" r="3.2"/><circle cx="826.4" cy="740.6" r="3.2"/><circle cx="821.7" cy="745.6" r="3.2"/><circle cx="831.1" cy="750.5" r="3.2"/><circle cx="831.2" cy="755.5" r="3.2"/><circle cx="831.4" cy="760.5" r="3.2"/><circle cx="831.5" cy="765.5" r="3.2"/><circle cx="831.7" cy="770.4" r="3.2"/><circle cx="831.8" cy="775.4" r="3.2"/><circle cx="832.0" cy="780.4" r="3.2"/><circle cx="832.1" cy="785.4" r="3.2"/><circle cx="832.3" cy="790.3" r="3.2"/><circle cx="832.4" cy="795.3" r="3.2"/><circle cx="832.6" cy="800.3" r="3.2"/><circle cx="832.7" cy="805.2" r="3.2"/><circle cx="832.9" cy="810.2" r="3.2"/><circle cx="833.0" cy="815.2" r="3.2"/><circle cx="727.0" cy="19.2" r="3.2"/><circle cx="727.0" cy="24.2" r="3.2"/><circle cx="727.0" cy="29.1" r="3.2"/><circle cx="727.0" cy="34.1" r="3.2"/><circle cx="727.0" cy="39.1" r="3.2"/><circle cx="727.0" cy="44.1" r="3.2"/><circle cx="727.0" cy="49.0" r="3.2"/><circle cx="724.5" cy="54.0" r="3.2"/><circle cx="720.3" cy="59.0" r="3.2"/><circle cx="717.1" cy="64.0" r="3.2"/><circle cx="717.8" cy="69.0" r="3.2"/><circle cx="720.6" cy="73.9" r="3.2"/><circle cx="725.0" cy="78.9" r="3.2"/><circle cx="728.8" cy="83.9" r="3.2"/><circle cx="732.5" cy="88.9" r="3.2"/><circle cx="736.2" cy="93.8" r="3.2"/><circle cx="740.0" cy="98.8" r="3.2"/><circle cx="743.0" cy="103.8" r="3.2"/><circle cx="746.0" cy="108.8" r="3.2"/><circle cx="749.0" cy="113.7" r="3.2"/><circle cx="752.0" cy="118.7" r="3.2"/><circle cx="754.5" cy="123.7" r="3.2"/><circle cx="757.0" cy="128.7" r="3.2"/><circle cx="759.5" cy="133.6" r="3.2"/><circle cx="762.0" cy="138.6" r="3.2"/><circle cx="764.3" cy="143.6" r="3.2"/><circle cx="766.7" cy="148.5" r="3.2"/><circle cx="769.0" cy="153.5" r="3.2"/><circle cx="771.3" cy="158.5" r="3.2"/><circle cx="773.7" cy="163.5" r="3.2"/><circle cx="776.0" cy="168.4" r="3.2"/><circle cx="778.3" cy="173.4" r="3.2"/><circle cx="780.7" cy="178.4" r="3.2"/><circle cx="783.0" cy="183.4" r="3.2"/><circle cx="785.3" cy="188.3" r="3.2"/><circle cx="787.7" cy="193.3" r="3.2"/><circle cx="790.0" cy="198.3" r="3.2"/><circle cx="792.5" cy="203.3" r="3.2"/><circle cx="795.0" cy="208.2" r="3.2"/><circle cx="797.5" cy="213.2" r="3.2"/><circle cx="800.0" cy="218.2" r="3.2"/><circle cx="802.5" cy="223.2" r="3.2"/><circle cx="805.0" cy="228.1" r="3.2"/><circle cx="807.5" cy="233.1" r="3.2"/><circle cx="810.0" cy="238.1" r="3.2"/><circle cx="812.2" cy="243.1" r="3.2"/><circle cx="814.5" cy="248.0" r="3.2"/><circle cx="816.8" cy="253.0" r="3.2"/><circle cx="819.0" cy="258.0" r="3.2"/><circle cx="821.2" cy="263.0" r="3.2"/><circle cx="823.5" cy="267.9" r="3.2"/><circle cx="825.8" cy="272.9" r="3.2"/><circle cx="828.0" cy="277.9" r="3.2"/><circle cx="829.2" cy="282.9" r="3.2"/><circle cx="830.5" cy="287.8" r="3.2"/><circle cx="831.8" cy="292.8" r="3.2"/><circle cx="833.0" cy="297.8" r="3.2"/><circle cx="834.2" cy="302.8" r="3.2"/><circle cx="835.5" cy="307.8" r="3.2"/><circle cx="836.8" cy="312.7" r="3.2"/><circle cx="838.0" cy="317.7" r="3.2"/><circle cx="839.0" cy="322.7" r="3.2"/><circle cx="840.0" cy="327.6" r="3.2"/><circle cx="841.0" cy="332.6" r="3.2"/><circle cx="842.0" cy="337.6" r="3.2"/><circle cx="843.0" cy="342.6" r="3.2"/><circle cx="844.0" cy="347.6" r="3.2"/><circle cx="845.0" cy="352.5" r="3.2"/><circle cx="846.0" cy="357.5" r="3.2"/><circle cx="846.5" cy="362.5" r="3.2"/><circle cx="847.0" cy="367.4" r="3.2"/><circle cx="847.5" cy="372.4" r="3.2"/><circle cx="848.0" cy="377.4" r="3.2"/><circle cx="848.5" cy="382.4" r="3.2"/><circle cx="849.0" cy="387.3" r="3.2"/><circle cx="849.5" cy="392.3" r="3.2"/><circle cx="850.0" cy="397.3" r="3.2"/><circle cx="850.5" cy="402.3" r="3.2"/><circle cx="851.0" cy="407.2" r="3.2"/><circle cx="851.5" cy="412.2" r="3.2"/><circle cx="852.0" cy="417.2" r="3.2"/><circle cx="852.5" cy="422.2" r="3.2"/><circle cx="853.0" cy="427.1" r="3.2"/><circle cx="853.5" cy="432.1" r="3.2"/><circle cx="854.0" cy="437.1" r="3.2"/><circle cx="854.5" cy="442.1" r="3.2"/><circle cx="855.0" cy="447.1" r="3.2"/><circle cx="855.5" cy="452.0" r="3.2"/><circle cx="856.0" cy="457.0" r="3.2"/><circle cx="856.5" cy="462.0" r="3.2"/><circle cx="857.0" cy="466.9" r="3.2"/><circle cx="857.5" cy="471.9" r="3.2"/><circle cx="858.0" cy="476.9" r="3.2"/><circle cx="856.9" cy="481.9" r="3.2"/><circle cx="855.8" cy="486.8" r="3.2"/><circle cx="854.7" cy="491.8" r="3.2"/><circle cx="853.6" cy="496.8" r="3.2"/><circle cx="852.4" cy="501.8" r="3.2"/><circle cx="851.3" cy="506.8" r="3.2"/><circle cx="850.2" cy="511.7" r="3.2"/><circle cx="849.1" cy="516.7" r="3.2"/><circle cx="848.0" cy="521.7" r="3.2"/><circle cx="846.9" cy="526.6" r="3.2"/><circle cx="845.7" cy="531.6" r="3.2"/><circle cx="844.2" cy="536.6" r="3.2"/><circle cx="842.7" cy="541.6" r="3.2"/><circle cx="844.8" cy="546.6" r="3.2"/><circle cx="843.0" cy="551.5" r="3.2"/><circle cx="838.0" cy="556.5" r="3.2"/><circle cx="837.0" cy="561.5" r="3.2"/><circle cx="836.0" cy="566.5" r="3.2"/><circle cx="835.0" cy="571.4" r="3.2"/><circle cx="834.0" cy="576.4" r="3.2"/><circle cx="833.0" cy="581.4" r="3.2"/><circle cx="832.0" cy="586.4" r="3.2"/><circle cx="831.0" cy="591.3" r="3.2"/><circle cx="830.0" cy="596.3" r="3.2"/><circle cx="831.5" cy="601.3" r="3.2"/><circle cx="833.0" cy="606.2" r="3.2"/><circle cx="834.5" cy="611.2" r="3.2"/><circle cx="836.0" cy="616.2" r="3.2"/><circle cx="836.2" cy="621.2" r="3.2"/><circle cx="836.3" cy="626.2" r="3.2"/><circle cx="836.5" cy="631.1" r="3.2"/><circle cx="836.7" cy="636.1" r="3.2"/><circle cx="836.8" cy="641.1" r="3.2"/><circle cx="837.0" cy="646.1" r="3.2"/><circle cx="837.2" cy="651.0" r="3.2"/><circle cx="837.3" cy="656.0" r="3.2"/><circle cx="837.5" cy="661.0" r="3.2"/><circle cx="837.7" cy="666.0" r="3.2"/><circle cx="837.8" cy="670.9" r="3.2"/><circle cx="838.0" cy="675.9" r="3.2"/><circle cx="838.2" cy="680.9" r="3.2"/><circle cx="838.3" cy="685.9" r="3.2"/><circle cx="838.5" cy="690.8" r="3.2"/><circle cx="838.7" cy="695.8" r="3.2"/><circle cx="838.8" cy="700.8" r="3.2"/><circle cx="839.0" cy="705.8" r="3.2"/><circle cx="839.2" cy="710.7" r="3.2"/><circle cx="839.3" cy="715.7" r="3.2"/><circle cx="839.5" cy="720.7" r="3.2"/><circle cx="839.7" cy="725.7" r="3.2"/><circle cx="839.8" cy="730.6" r="3.2"/><circle cx="840.0" cy="735.6" r="3.2"/><circle cx="843.0" cy="740.6" r="3.2"/><circle cx="845.9" cy="745.6" r="3.2"/><circle cx="848.9" cy="750.5" r="3.2"/><circle cx="851.8" cy="755.5" r="3.2"/><circle cx="849.5" cy="760.5" r="3.2"/><circle cx="845.3" cy="765.5" r="3.2"/><circle cx="843.7" cy="770.4" r="3.2"/><circle cx="842.0" cy="775.4" r="3.2"/><circle cx="841.5" cy="780.4" r="3.2"/><circle cx="841.0" cy="785.4" r="3.2"/><circle cx="840.5" cy="790.3" r="3.2"/><circle cx="840.0" cy="795.3" r="3.2"/><circle cx="839.5" cy="800.3" r="3.2"/><circle cx="839.0" cy="805.2" r="3.2"/><circle cx="838.5" cy="810.2" r="3.2"/><circle cx="838.0" cy="815.2" r="3.2"/><circle cx="728.0" cy="19.2" r="3.2"/><circle cx="728.0" cy="24.2" r="3.2"/><circle cx="728.0" cy="29.1" r="3.2"/><circle cx="728.0" cy="34.1" r="3.2"/><circle cx="728.0" cy="39.1" r="3.2"/><circle cx="728.0" cy="44.1" r="3.2"/><circle cx="728.0" cy="49.0" r="3.2"/><circle cx="729.2" cy="54.0" r="3.2"/><circle cx="735.5" cy="59.0" r="3.2"/><circle cx="740.1" cy="64.0" r="3.2"/><circle cx="743.6" cy="69.0" r="3.2"/><circle cx="746.5" cy="73.9" r="3.2"/><circle cx="749.0" cy="78.9" r="3.2"/><circle cx="751.3" cy="83.9" r="3.2"/><circle cx="753.6" cy="88.9" r="3.2"/><circle cx="755.8" cy="93.8" r="3.2"/><circle cx="758.0" cy="98.8" r="3.2"/><circle cx="761.0" cy="103.8" r="3.2"/><circle cx="764.0" cy="108.8" r="3.2"/><circle cx="767.0" cy="113.7" r="3.2"/><circle cx="770.0" cy="118.7" r="3.2"/><circle cx="772.5" cy="123.7" r="3.2"/><circle cx="775.0" cy="128.7" r="3.2"/><circle cx="777.5" cy="133.6" r="3.2"/><circle cx="780.0" cy="138.6" r="3.2"/><circle cx="782.7" cy="143.6" r="3.2"/><circle cx="785.3" cy="148.5" r="3.2"/><circle cx="788.0" cy="153.5" r="3.2"/><circle cx="790.7" cy="158.5" r="3.2"/><circle cx="793.3" cy="163.5" r="3.2"/><circle cx="796.0" cy="168.4" r="3.2"/><circle cx="799.2" cy="173.4" r="3.2"/><circle cx="802.3" cy="178.4" r="3.2"/><circle cx="805.5" cy="183.4" r="3.2"/><circle cx="808.7" cy="188.3" r="3.2"/><circle cx="811.8" cy="193.3" r="3.2"/><circle cx="815.0" cy="198.3" r="3.2"/><circle cx="817.9" cy="203.3" r="3.2"/><circle cx="820.8" cy="208.2" r="3.2"/><circle cx="823.6" cy="213.2" r="3.2"/><circle cx="826.5" cy="218.2" r="3.2"/><circle cx="829.4" cy="223.2" r="3.2"/><circle cx="832.2" cy="228.1" r="3.2"/><circle cx="835.1" cy="233.1" r="3.2"/><circle cx="838.0" cy="238.1" r="3.2"/><circle cx="839.2" cy="243.1" r="3.2"/><circle cx="840.5" cy="248.0" r="3.2"/><circle cx="841.8" cy="253.0" r="3.2"/><circle cx="843.0" cy="258.0" r="3.2"/><circle cx="844.2" cy="263.0" r="3.2"/><circle cx="845.5" cy="267.9" r="3.2"/><circle cx="846.8" cy="272.9" r="3.2"/><circle cx="848.0" cy="277.9" r="3.2"/><circle cx="849.0" cy="282.9" r="3.2"/><circle cx="850.0" cy="287.8" r="3.2"/><circle cx="851.0" cy="292.8" r="3.2"/><circle cx="852.0" cy="297.8" r="3.2"/><circle cx="853.0" cy="302.8" r="3.2"/><circle cx="854.0" cy="307.8" r="3.2"/><circle cx="855.0" cy="312.7" r="3.2"/><circle cx="856.0" cy="317.7" r="3.2"/><circle cx="856.4" cy="322.7" r="3.2"/><circle cx="856.8" cy="327.6" r="3.2"/><circle cx="857.2" cy="332.6" r="3.2"/><circle cx="857.6" cy="337.6" r="3.2"/><circle cx="858.0" cy="342.6" r="3.2"/><circle cx="858.4" cy="347.6" r="3.2"/><circle cx="858.8" cy="352.5" r="3.2"/><circle cx="859.2" cy="357.5" r="3.2"/><circle cx="859.6" cy="362.5" r="3.2"/><circle cx="860.0" cy="367.4" r="3.2"/><circle cx="859.8" cy="372.4" r="3.2"/><circle cx="859.6" cy="377.4" r="3.2"/><circle cx="859.4" cy="382.4" r="3.2"/><circle cx="859.2" cy="387.3" r="3.2"/><circle cx="859.0" cy="392.3" r="3.2"/><circle cx="858.8" cy="397.3" r="3.2"/><circle cx="858.6" cy="402.3" r="3.2"/><circle cx="858.4" cy="407.2" r="3.2"/><circle cx="858.2" cy="412.2" r="3.2"/><circle cx="858.0" cy="417.2" r="3.2"/><circle cx="858.6" cy="422.2" r="3.2"/><circle cx="859.2" cy="427.1" r="3.2"/><circle cx="859.8" cy="432.1" r="3.2"/><circle cx="860.3" cy="437.1" r="3.2"/><circle cx="860.9" cy="442.1" r="3.2"/><circle cx="861.5" cy="447.1" r="3.2"/><circle cx="862.1" cy="452.0" r="3.2"/><circle cx="862.7" cy="457.0" r="3.2"/><circle cx="863.2" cy="462.0" r="3.2"/><circle cx="863.8" cy="466.9" r="3.2"/><circle cx="864.4" cy="471.9" r="3.2"/><circle cx="865.0" cy="476.9" r="3.2"/><circle cx="865.4" cy="481.9" r="3.2"/><circle cx="865.8" cy="486.8" r="3.2"/><circle cx="866.2" cy="491.8" r="3.2"/><circle cx="866.7" cy="496.8" r="3.2"/><circle cx="867.1" cy="501.8" r="3.2"/><circle cx="867.5" cy="506.8" r="3.2"/><circle cx="867.9" cy="511.7" r="3.2"/><circle cx="868.3" cy="516.7" r="3.2"/><circle cx="868.8" cy="521.7" r="3.2"/><circle cx="869.2" cy="526.6" r="3.2"/><circle cx="869.6" cy="531.6" r="3.2"/><circle cx="870.0" cy="536.6" r="3.2"/><circle cx="869.8" cy="541.6" r="3.2"/><circle cx="869.7" cy="546.6" r="3.2"/><circle cx="869.5" cy="551.5" r="3.2"/><circle cx="869.3" cy="556.5" r="3.2"/><circle cx="869.2" cy="561.5" r="3.2"/><circle cx="869.0" cy="566.5" r="3.2"/><circle cx="868.8" cy="571.4" r="3.2"/><circle cx="868.7" cy="576.4" r="3.2"/><circle cx="868.5" cy="581.4" r="3.2"/><circle cx="868.3" cy="586.4" r="3.2"/><circle cx="868.2" cy="591.3" r="3.2"/><circle cx="868.0" cy="596.3" r="3.2"/><circle cx="867.8" cy="601.3" r="3.2"/><circle cx="867.5" cy="606.2" r="3.2"/><circle cx="867.2" cy="611.2" r="3.2"/><circle cx="867.0" cy="616.2" r="3.2"/><circle cx="866.8" cy="621.2" r="3.2"/><circle cx="866.5" cy="626.2" r="3.2"/><circle cx="866.2" cy="631.1" r="3.2"/><circle cx="866.0" cy="636.1" r="3.2"/><circle cx="864.5" cy="641.1" r="3.2"/><circle cx="863.0" cy="646.1" r="3.2"/><circle cx="861.5" cy="651.0" r="3.2"/><circle cx="860.0" cy="656.0" r="3.2"/><circle cx="862.9" cy="661.0" r="3.2"/><circle cx="865.8" cy="666.0" r="3.2"/><circle cx="867.2" cy="670.9" r="3.2"/><circle cx="867.5" cy="675.9" r="3.2"/><circle cx="867.8" cy="680.9" r="3.2"/><circle cx="868.1" cy="685.9" r="3.2"/><circle cx="868.4" cy="690.8" r="3.2"/><circle cx="868.8" cy="695.8" r="3.2"/><circle cx="869.1" cy="700.8" r="3.2"/><circle cx="869.4" cy="705.8" r="3.2"/><circle cx="869.7" cy="710.7" r="3.2"/><circle cx="870.0" cy="715.7" r="3.2"/><circle cx="870.4" cy="720.7" r="3.2"/><circle cx="870.7" cy="725.7" r="3.2"/><circle cx="871.0" cy="730.6" r="3.2"/><circle cx="871.4" cy="735.6" r="3.2"/><circle cx="871.8" cy="740.6" r="3.2"/><circle cx="872.1" cy="745.6" r="3.2"/><circle cx="872.5" cy="750.5" r="3.2"/><circle cx="872.8" cy="755.5" r="3.2"/><circle cx="873.1" cy="760.5" r="3.2"/><circle cx="873.5" cy="765.5" r="3.2"/><circle cx="873.9" cy="770.4" r="3.2"/><circle cx="874.2" cy="775.4" r="3.2"/><circle cx="874.5" cy="780.4" r="3.2"/><circle cx="874.9" cy="785.4" r="3.2"/><circle cx="875.2" cy="790.3" r="3.2"/><circle cx="875.6" cy="795.3" r="3.2"/><circle cx="876.0" cy="800.3" r="3.2"/><circle cx="876.3" cy="805.2" r="3.2"/><circle cx="876.6" cy="810.2" r="3.2"/><circle cx="877.0" cy="815.2" r="3.2"/></g>
<polyline points="716.8,21.2 716.8,31.1 716.8,41.1 717.5,51.0 727.1,61.0 740.0,70.9 752.3,80.9 760.0,90.8 763.2,100.8 768.5,110.7 773.7,120.7 777.5,130.6 781.2,140.6 785.7,150.5 789.4,160.5 794.0,170.4 796.2,180.4 799.0,190.3 808.2,200.3 815.7,210.2 818.0,220.2 822.5,230.1 826.2,240.1 829.2,250.0 832.2,260.0 835.2,269.9 837.5,279.9 839.7,289.8 842.0,299.8 843.5,309.7 848.0,319.7 851.2,329.6 853.0,339.6 852.4,349.5 847.7,359.5 845.4,369.4 846.5,379.4 845.4,389.3 845.4,399.3 846.0,409.2 848.9,419.2 854.8,429.1 863.0,439.1 864.2,449.0 867.7,459.0 870.1,468.9 871.3,478.9 871.3,488.8 867.7,498.8 868.9,508.7 864.5,518.7 863.0,528.6 860.1,538.6 857.7,548.5 856.5,558.5 855.4,568.4 851.8,578.4 848.3,588.3 850.7,598.3 851.6,608.2 852.4,618.2 853.0,628.1 851.2,638.1 848.9,648.0 847.1,658.0 844.2,667.9 839.5,677.9 838.3,687.8 838.3,697.8 839.2,707.7 840.1,717.7 840.1,727.6 840.1,737.6 834.2,747.5 835.3,757.5 834.8,767.4 835.3,777.4 834.8,787.3 836.5,797.3 837.1,807.2" fill="none" stroke="#0000ff" stroke-width="2.4" stroke-linejoin="round"/>
<g fill="#0000ff"><circle cx="716.8" cy="21.2" r="5.8"/><circle cx="716.8" cy="31.1" r="5.8"/><circle cx="716.8" cy="41.1" r="5.8"/><circle cx="717.5" cy="51.0" r="5.8"/><circle cx="727.1" cy="61.0" r="5.8"/><circle cx="740.0" cy="70.9" r="5.8"/><circle cx="752.3" cy="80.9" r="5.8"/><circle cx="760.0" cy="90.8" r="5.8"/><circle cx="763.2" cy="100.8" r="5.8"/><circle cx="768.5" cy="110.7" r="5.8"/><circle cx="773.7" cy="120.7" r="5.8"/><circle cx="777.5" cy="130.6" r="5.8"/><circle cx="781.2" cy="140.6" r="5.8"/><circle cx="785.7" cy="150.5" r="5.8"/><circle cx="789.4" cy="160.5" r="5.8"/><circle cx="794.0" cy="170.4" r="5.8"/><circle cx="796.2" cy="180.4" r="5.8"/><circle cx="799.0" cy="190.3" r="5.8"/><circle cx="808.2" cy="200.3" r="5.8"/><circle cx="815.7" cy="210.2" r="5.8"/><circle cx="818.0" cy="220.2" r="5.8"/><circle cx="822.5" cy="230.1" r="5.8"/><circle cx="826.2" cy="240.1" r="5.8"/><circle cx="829.2" cy="250.0" r="5.8"/><circle cx="832.2" cy="260.0" r="5.8"/><circle cx="835.2" cy="269.9" r="5.8"/><circle cx="837.5" cy="279.9" r="5.8"/><circle cx="839.7" cy="289.8" r="5.8"/><circle cx="842.0" cy="299.8" r="5.8"/><circle cx="843.5" cy="309.7" r="5.8"/><circle cx="848.0" cy="319.7" r="5.8"/><circle cx="851.2" cy="329.6" r="5.8"/><circle cx="853.0" cy="339.6" r="5.8"/><circle cx="852.4" cy="349.5" r="5.8"/><circle cx="847.7" cy="359.5" r="5.8"/><circle cx="845.4" cy="369.4" r="5.8"/><circle cx="846.5" cy="379.4" r="5.8"/><circle cx="845.4" cy="389.3" r="5.8"/><circle cx="845.4" cy="399.3" r="5.8"/><circle cx="846.0" cy="409.2" r="5.8"/><circle cx="848.9" cy="419.2" r="5.8"/><circle cx="854.8" cy="429.1" r="5.8"/><circle cx="863.0" cy="439.1" r="5.8"/><circle cx="864.2" cy="449.0" r="5.8"/><circle cx="867.7" cy="459.0" r="5.8"/><circle cx="870.1" cy="468.9" r="5.8"/><circle cx="871.3" cy="478.9" r="5.8"/><circle cx="871.3" cy="488.8" r="5.8"/><circle cx="867.7" cy="498.8" r="5.8"/><circle cx="868.9" cy="508.7" r="5.8"/><circle cx="864.5" cy="518.7" r="5.8"/><circle cx="863.0" cy="528.6" r="5.8"/><circle cx="860.1" cy="538.6" r="5.8"/><circle cx="857.7" cy="548.5" r="5.8"/><circle cx="856.5" cy="558.5" r="5.8"/><circle cx="855.4" cy="568.4" r="5.8"/><circle cx="851.8" cy="578.4" r="5.8"/><circle cx="848.3" cy="588.3" r="5.8"/><circle cx="850.7" cy="598.3" r="5.8"/><circle cx="851.6" cy="608.2" r="5.8"/><circle cx="852.4" cy="618.2" r="5.8"/><circle cx="853.0" cy="628.1" r="5.8"/><circle cx="851.2" cy="638.1" r="5.8"/><circle cx="848.9" cy="648.0" r="5.8"/><circle cx="847.1" cy="658.0" r="5.8"/><circle cx="844.2" cy="667.9" r="5.8"/><circle cx="839.5" cy="677.9" r="5.8"/><circle cx="838.3" cy="687.8" r="5.8"/><circle cx="838.3" cy="697.8" r="5.8"/><circle cx="839.2" cy="707.7" r="5.8"/><circle cx="840.1" cy="717.7" r="5.8"/><circle cx="840.1" cy="727.6" r="5.8"/><circle cx="840.1" cy="737.6" r="5.8"/><circle cx="834.2" cy="747.5" r="5.8"/><circle cx="835.3" cy="757.5" r="5.8"/><circle cx="834.8" cy="767.4" r="5.8"/><circle cx="835.3" cy="777.4" r="5.8"/><circle cx="834.8" cy="787.3" r="5.8"/><circle cx="836.5" cy="797.3" r="5.8"/><circle cx="837.1" cy="807.2" r="5.8"/></g>
<polygon points="710.7,19.2 710.7,21.2 710.7,23.2 710.7,25.2 710.7,27.2 710.7,29.1 710.7,31.1 710.7,33.1 710.7,35.1 710.7,37.1 710.7,39.1 710.7,41.1 710.7,43.1 710.7,45.1 710.7,47.1 710.7,49.0 710.7,51.0 710.8,53.0 710.8,55.0 710.9,57.0 710.9,59.0 710.4,61.0 710.0,63.0 709.5,65.0 709.1,67.0 708.6,69.0 708.0,70.9 707.4,72.9 706.8,74.9 706.2,76.9 705.6,78.9 703.8,80.9 702.0,82.9 700.2,84.9 698.4,86.9 696.6,88.9 695.0,90.8 693.4,92.8 691.8,94.8 690.2,96.8 688.6,98.8 687.5,100.8 686.4,102.8 685.3,104.8 684.2,106.8 683.1,108.8 683.1,110.7 683.1,112.7 683.1,114.7 683.1,116.7 683.1,118.7 684.8,120.7 686.4,122.7 688.1,124.7 689.7,126.7 691.4,128.7 693.0,130.6 694.6,132.6 696.3,134.6 698.0,136.6 699.6,138.6 701.6,140.6 703.5,142.6 705.5,144.6 707.4,146.6 709.4,148.5 711.3,150.5 713.2,152.5 715.2,154.5 717.1,156.5 719.1,158.5 721.2,160.5 723.3,162.5 725.4,164.5 727.5,166.5 729.6,168.4 731.7,170.4 733.8,172.4 735.9,174.4 738.0,176.4 740.1,178.4 742.1,180.4 744.2,182.4 746.2,184.4 748.2,186.4 750.2,188.3 752.3,190.3 754.3,192.3 756.3,194.3 758.4,196.3 760.4,198.3 762.2,200.3 764.0,202.3 765.8,204.3 767.6,206.3 769.4,208.2 771.1,210.2 772.9,212.2 774.7,214.2 776.5,216.2 778.3,218.2 779.0,220.2 779.7,222.2 780.4,224.2 781.1,226.2 781.8,228.1 782.5,230.1 783.1,232.1 783.8,234.1 784.5,236.1 785.2,238.1 785.9,240.1 786.6,242.1 787.3,244.1 788.0,246.1 788.7,248.0 789.4,250.0 790.1,252.0 790.8,254.0 791.4,256.0 792.1,258.0 792.8,260.0 793.5,262.0 794.2,264.0 794.9,266.0 795.6,267.9 797.5,269.9 799.3,271.9 801.2,273.9 803.0,275.9 804.9,277.9 806.8,279.9 808.6,281.9 810.5,283.9 812.3,285.9 814.2,287.8 816.1,289.8 817.9,291.8 819.8,293.8 821.6,295.8 823.5,297.8 825.4,299.8 827.2,301.8 829.1,303.8 830.9,305.8 832.8,307.8 834.7,309.7 836.5,311.7 838.4,313.7 840.2,315.7 842.1,317.7 842.4,319.7 842.8,321.7 843.1,323.7 843.4,325.7 843.7,327.6 844.1,329.6 844.4,331.6 844.7,333.6 845.0,335.6 845.4,337.6 845.7,339.6 846.0,341.6 846.4,343.6 846.7,345.6 847.0,347.6 847.3,349.5 847.7,351.5 848.0,353.5 848.3,355.5 848.6,357.5 849.0,359.5 849.3,361.5 849.6,363.5 850.0,365.5 850.3,367.4 850.6,369.4 850.9,371.4 851.3,373.4 851.6,375.4 851.9,377.4 852.3,379.4 852.6,381.4 852.9,383.4 853.2,385.4 853.6,387.3 853.9,389.3 854.2,391.3 854.5,393.3 854.9,395.3 855.2,397.3 855.5,399.3 855.9,401.3 856.2,403.3 856.5,405.3 856.8,407.2 857.2,409.2 857.5,411.2 857.8,413.2 858.1,415.2 858.5,417.2 858.7,419.2 859.0,421.2 859.2,423.2 859.5,425.2 859.7,427.1 860.0,429.1 860.2,431.1 860.5,433.1 860.8,435.1 861.0,437.1 861.3,439.1 861.5,441.1 861.8,443.1 862.0,445.1 862.3,447.1 862.5,449.0 862.8,451.0 863.0,453.0 863.3,455.0 863.5,457.0 863.8,459.0 864.1,461.0 864.3,463.0 864.6,465.0 864.8,466.9 865.1,468.9 865.3,470.9 865.6,472.9 865.8,474.9 866.1,476.9 866.3,478.9 866.6,480.9 866.8,482.9 867.1,484.9 867.3,486.8 867.6,488.8 867.9,490.8 868.1,492.8 868.4,494.8 868.6,496.8 868.9,498.8 869.1,500.8 869.4,502.8 869.6,504.8 869.9,506.8 870.1,508.7 870.4,510.7 870.6,512.7 870.9,514.7 871.1,516.7 871.2,518.7 871.2,520.7 871.2,522.7 871.2,524.7 871.2,526.6 871.2,528.6 871.2,530.6 871.2,532.6 871.2,534.6 871.2,536.6 871.2,538.6 871.2,540.6 871.2,542.6 871.2,544.6 871.2,546.6 871.2,548.5 871.2,550.5 871.2,552.5 871.2,554.5 871.2,556.5 871.2,558.5 871.2,560.5 871.2,562.5 871.2,564.5 871.2,566.5 871.2,568.4 871.2,570.4 871.2,572.4 871.2,574.4 871.2,576.4 871.3,578.4 871.3,580.4 871.3,582.4 871.4,584.4 871.4,586.4 871.4,588.3 871.5,590.3 871.5,592.3 871.5,594.3 871.5,596.3 871.6,598.3 871.6,600.3 871.6,602.3 871.7,604.3 871.7,606.2 871.7,608.2 871.8,610.2 871.8,612.2 871.8,614.2 871.9,616.2 871.9,618.2 871.9,620.2 872.0,622.2 872.0,624.2 872.1,626.2 872.1,628.1 872.1,630.1 872.2,632.1 872.2,634.1 872.2,636.1 872.3,638.1 872.3,640.1 872.4,642.1 872.4,644.1 872.4,646.1 872.5,648.0 872.5,650.0 872.5,652.0 872.6,654.0 872.6,656.0 872.7,658.0 872.7,660.0 872.7,662.0 872.8,664.0 872.8,666.0 872.9,667.9 872.9,669.9 872.9,671.9 873.0,673.9 873.0,675.9 873.0,677.9 873.1,679.9 873.1,681.9 873.2,683.9 873.2,685.9 873.2,687.8 873.3,689.8 873.3,691.8 873.3,693.8 873.4,695.8 873.4,697.8 873.5,699.8 873.5,701.8 873.5,703.8 873.6,705.8 873.6,707.7 873.6,709.7 873.7,711.7 873.7,713.7 873.8,715.7 873.8,717.7 873.8,719.7 873.9,721.7 873.9,723.7 873.9,725.7 874.0,727.6 874.0,729.6 874.0,731.6 874.1,733.6 874.1,735.6 874.2,737.6 874.2,739.6 874.2,741.6 874.3,743.6 874.3,745.6 874.3,747.5 874.4,749.5 874.4,751.5 874.4,753.5 874.5,755.5 874.5,757.5 874.5,759.5 874.6,761.5 874.6,763.5 874.7,765.5 874.7,767.4 874.7,769.4 874.8,771.4 874.8,773.4 874.8,775.4 874.9,777.4 874.9,779.4 874.9,781.4 875.0,783.4 875.0,785.4 875.0,787.3 875.1,789.3 875.1,791.3 875.2,793.3 875.2,795.3 875.2,797.3 875.3,799.3 875.3,801.3 875.3,803.3 875.4,805.2 875.4,807.2 875.4,809.2 875.5,811.2 875.5,813.2 875.5,815.2 881.0,815.2 881.0,813.2 881.0,811.2 880.9,809.2 880.9,807.2 880.8,805.2 880.8,803.3 880.7,801.3 880.7,799.3 880.7,797.3 880.6,795.3 880.6,793.3 880.5,791.3 880.5,789.3 880.4,787.3 880.4,785.4 880.3,783.4 880.3,781.4 880.3,779.4 880.2,777.4 880.2,775.4 880.1,773.4 880.1,771.4 880.0,769.4 880.0,767.4 879.9,765.5 879.9,763.5 879.9,761.5 879.8,759.5 879.8,757.5 879.7,755.5 879.7,753.5 879.6,751.5 879.6,749.5 879.5,747.5 879.5,745.6 879.5,743.6 879.4,741.6 879.4,739.6 879.3,737.6 879.3,735.6 879.2,733.6 879.2,731.6 879.2,729.6 879.1,727.6 879.1,725.7 879.0,723.7 879.0,721.7 878.9,719.7 878.9,717.7 878.8,715.7 878.8,713.7 878.7,711.7 878.7,709.7 878.7,707.7 878.6,705.8 878.6,703.8 878.5,701.8 878.5,699.8 878.4,697.8 878.4,695.8 878.3,693.8 878.3,691.8 878.2,689.8 878.2,687.8 878.1,685.9 878.1,683.9 878.1,681.9 878.0,679.9 878.0,677.9 877.9,675.9 877.9,673.9 877.8,671.9 877.8,669.9 877.7,667.9 877.7,666.0 877.6,664.0 877.6,662.0 877.5,660.0 877.5,658.0 877.5,656.0 877.4,654.0 877.4,652.0 877.3,650.0 877.3,648.0 877.2,646.1 877.2,644.1 877.1,642.1 877.1,640.1 877.0,638.1 877.0,636.1 876.9,634.1 876.9,632.1 876.9,630.1 876.8,628.1 876.8,626.2 876.7,624.2 876.7,622.2 876.6,620.2 876.6,618.2 876.5,616.2 876.5,614.2 876.5,612.2 876.4,610.2 876.4,608.2 876.3,606.2 876.3,604.3 876.3,602.3 876.2,600.3 876.2,598.3 876.1,596.3 876.1,594.3 876.1,592.3 876.0,590.3 876.0,588.3 875.9,586.4 875.9,584.4 875.9,582.4 875.8,580.4 875.8,578.4 875.7,576.4 875.7,574.4 875.6,572.4 875.5,570.4 875.5,568.4 875.4,566.5 875.3,564.5 875.2,562.5 875.2,560.5 875.1,558.5 875.0,556.5 875.0,554.5 874.9,552.5 874.8,550.5 874.8,548.5 874.7,546.6 874.6,544.6 874.6,542.6 874.5,540.6 874.4,538.6 874.3,536.6 874.3,534.6 874.2,532.6 874.1,530.6 874.1,528.6 874.0,526.6 873.9,524.7 873.9,522.7 873.8,520.7 873.7,518.7 873.6,516.7 873.4,514.7 873.1,512.7 872.9,510.7 872.6,508.7 872.4,506.8 872.1,504.8 871.9,502.8 871.6,500.8 871.4,498.8 871.1,496.8 870.9,494.8 870.6,492.8 870.4,490.8 870.1,488.8 869.9,486.8 869.6,484.9 869.4,482.9 869.1,480.9 868.9,478.9 868.6,476.9 868.4,474.9 868.1,472.9 867.9,470.9 867.6,468.9 867.4,466.9 867.1,465.0 866.9,463.0 866.6,461.0 866.4,459.0 866.1,457.0 865.9,455.0 865.6,453.0 865.4,451.0 865.1,449.0 864.9,447.1 864.6,445.1 864.4,443.1 864.1,441.1 863.9,439.1 863.6,437.1 863.4,435.1 863.1,433.1 862.9,431.1 862.6,429.1 862.4,427.1 862.1,425.2 861.9,423.2 861.6,421.2 861.4,419.2 861.1,417.2 860.8,415.2 860.5,413.2 860.2,411.2 859.8,409.2 859.5,407.2 859.2,405.3 858.9,403.3 858.5,401.3 858.2,399.3 857.9,397.3 857.6,395.3 857.2,393.3 856.9,391.3 856.6,389.3 856.3,387.3 855.9,385.4 855.6,383.4 855.3,381.4 855.0,379.4 854.6,377.4 854.3,375.4 854.0,373.4 853.7,371.4 853.3,369.4 853.0,367.4 852.7,365.5 852.4,363.5 852.0,361.5 851.7,359.5 851.4,357.5 851.1,355.5 850.7,353.5 850.4,351.5 850.1,349.5 849.8,347.6 849.4,345.6 849.1,343.6 848.8,341.6 848.5,339.6 848.1,337.6 847.8,335.6 847.5,333.6 847.2,331.6 846.8,329.6 846.5,327.6 846.2,325.7 845.9,323.7 845.5,321.7 845.2,319.7 844.9,317.7 843.0,315.7 841.2,313.7 839.3,311.7 837.5,309.7 835.6,307.8 833.7,305.8 831.9,303.8 830.0,301.8 828.2,299.8 826.3,297.8 824.4,295.8 822.6,293.8 820.7,291.8 818.9,289.8 817.0,287.8 815.1,285.9 813.3,283.9 811.4,281.9 809.6,279.9 807.7,277.9 805.8,275.9 804.0,273.9 802.1,271.9 800.3,269.9 798.4,267.9 797.7,266.0 797.0,264.0 796.3,262.0 795.6,260.0 794.9,258.0 794.2,256.0 793.6,254.0 792.9,252.0 792.2,250.0 791.5,248.0 790.8,246.1 790.1,244.1 789.4,242.1 788.7,240.1 788.0,238.1 787.3,236.1 786.6,234.1 785.9,232.1 785.3,230.1 784.6,228.1 783.9,226.2 783.2,224.2 782.5,222.2 781.8,220.2 781.1,218.2 779.3,216.2 777.5,214.2 775.7,212.2 773.9,210.2 772.1,208.2 770.4,206.3 768.6,204.3 766.8,202.3 765.0,200.3 763.2,198.3 761.2,196.3 759.1,194.3 757.1,192.3 755.1,190.3 753.0,188.3 751.0,186.4 749.0,184.4 747.0,182.4 744.9,180.4 742.9,178.4 740.8,176.4 738.7,174.4 736.6,172.4 734.5,170.4 732.4,168.4 730.3,166.5 728.2,164.5 726.1,162.5 724.0,160.5 721.9,158.5 719.9,156.5 718.0,154.5 716.0,152.5 714.1,150.5 712.1,148.5 710.2,146.6 708.2,144.6 706.3,142.6 704.4,140.6 702.4,138.6 700.8,136.6 699.1,134.6 697.4,132.6 695.8,130.6 694.1,128.7 692.5,126.7 690.9,124.7 689.2,122.7 687.5,120.7 685.9,118.7 685.9,116.7 685.9,114.7 685.9,112.7 685.9,110.7 685.9,108.8 687.0,106.8 688.1,104.8 689.2,102.8 690.3,100.8 691.4,98.8 693.0,96.8 694.6,94.8 696.2,92.8 697.8,90.8 699.4,88.9 701.2,86.9 703.0,84.9 704.8,82.9 706.6,80.9 708.4,78.9 709.0,76.9 709.6,74.9 710.2,72.9 710.8,70.9 711.4,69.0 711.9,67.0 712.3,65.0 712.8,63.0 713.2,61.0 713.7,59.0 713.7,57.0 713.6,55.0 713.6,53.0 713.5,51.0 713.5,49.0 713.5,47.1 713.5,45.1 713.5,43.1 713.5,41.1 713.5,39.1 713.5,37.1 713.5,35.1 713.5,33.1 713.5,31.1 713.5,29.1 713.5,27.2 713.5,25.2 713.5,23.2 713.5,21.2 713.5,19.2" fill="#ff0000" stroke="#ff0000" stroke-width="4" stroke-linejoin="round"/>
<g fill="#ff0000"><circle cx="712.1" cy="19.2" r="5.8"/><circle cx="712.1" cy="23.2" r="5.8"/><circle cx="712.1" cy="27.2" r="5.8"/><circle cx="712.1" cy="31.1" r="5.8"/><circle cx="712.1" cy="35.1" r="5.8"/><circle cx="712.1" cy="39.1" r="5.8"/><circle cx="712.1" cy="43.1" r="5.8"/><circle cx="712.1" cy="49.0" r="5.8"/><circle cx="712.3" cy="59.0" r="5.8"/><circle cx="710.0" cy="69.0" r="5.8"/><circle cx="707.0" cy="78.9" r="5.8"/><circle cx="698.0" cy="88.9" r="5.8"/><circle cx="690.0" cy="98.8" r="5.8"/><circle cx="684.5" cy="108.8" r="5.8"/><circle cx="684.5" cy="118.7" r="5.8"/><circle cx="701.0" cy="138.6" r="5.8"/><circle cx="720.5" cy="158.5" r="5.8"/><circle cx="741.5" cy="178.4" r="5.8"/><circle cx="761.8" cy="198.3" r="5.8"/><circle cx="779.7" cy="218.2" r="5.8"/><circle cx="797.0" cy="267.9" r="5.8"/><circle cx="843.5" cy="317.7" r="5.8"/><circle cx="859.8" cy="417.2" r="5.8"/><circle cx="872.4" cy="516.7" r="5.8"/><circle cx="874.2" cy="616.2" r="5.8"/><circle cx="876.3" cy="715.7" r="5.8"/><circle cx="878.3" cy="815.2" r="5.8"/></g>
<polyline points="694.0,19.2 694.0,23.2 694.2,27.2 694.5,31.1 696.0,35.1 699.0,39.1 702.0,43.1 705.0,49.0 706.5,59.0 707.1,69.0 707.7,78.9 710.1,88.9 713.5,98.8 719.2,108.8 728.2,118.7 751.2,138.6 769.2,158.5 783.4,178.4 796.2,198.3 806.0,218.2 826.2,267.9 834.5,317.7 845.4,417.2 851.2,516.7 853.0,616.2 855.4,715.7 858.3,815.2" fill="none" stroke="#008000" stroke-width="2.4" stroke-linejoin="round"/>
<g fill="#008000"><circle cx="694.0" cy="19.2" r="5.8"/><circle cx="694.0" cy="23.2" r="5.8"/><circle cx="694.2" cy="27.2" r="5.8"/><circle cx="694.5" cy="31.1" r="5.8"/><circle cx="696.0" cy="35.1" r="5.8"/><circle cx="699.0" cy="39.1" r="5.8"/><circle cx="702.0" cy="43.1" r="5.8"/><circle cx="705.0" cy="49.0" r="5.8"/><circle cx="706.5" cy="59.0" r="5.8"/><circle cx="707.1" cy="69.0" r="5.8"/><circle cx="707.7" cy="78.9" r="5.8"/><circle cx="710.1" cy="88.9" r="5.8"/><circle cx="713.5" cy="98.8" r="5.8"/><circle cx="719.2" cy="108.8" r="5.8"/><circle cx="728.2" cy="118.7" r="5.8"/><circle cx="751.2" cy="138.6" r="5.8"/><circle cx="769.2" cy="158.5" r="5.8"/><circle cx="783.4" cy="178.4" r="5.8"/><circle cx="796.2" cy="198.3" r="5.8"/><circle cx="806.0" cy="218.2" r="5.8"/><circle cx="826.2" cy="267.9" r="5.8"/><circle cx="834.5" cy="317.7" r="5.8"/><circle cx="845.4" cy="417.2" r="5.8"/><circle cx="851.2" cy="516.7" r="5.8"/><circle cx="853.0" cy="616.2" r="5.8"/><circle cx="855.4" cy="715.7" r="5.8"/><circle cx="858.3" cy="815.2" r="5.8"/></g>
<polyline points="701.5,20.2 701.5,22.3 701.5,24.5 701.5,26.8 701.5,29.3 701.5,32.0 701.5,35.0 701.5,38.2 697.0,41.9 690.0,46.0 686.5,50.7 682.0,56.0 677.5,62.2 673.6,69.4 664.2,77.8 653.6,87.7 645.5,99.5 639.4,113.5 640.1,130.2 652.1,150.2 680.2,174.1 718.3,202.9 759.4,237.6 796.2,279.2 814.7,329.3 819.4,389.6 825.3,461.9 825.3,548.6 829.5,652.3 842.4,775.8 853.0,922.5" fill="none" stroke="#ff00ff" stroke-width="2.4" stroke-linejoin="round"/>
<g fill="#ff00ff"><circle cx="701.5" cy="20.2" r="5.8"/><circle cx="701.5" cy="22.3" r="5.8"/><circle cx="701.5" cy="24.5" r="5.8"/><circle cx="701.5" cy="26.8" r="5.8"/><circle cx="701.5" cy="29.3" r="5.8"/><circle cx="701.5" cy="32.0" r="5.8"/><circle cx="701.5" cy="35.0" r="5.8"/><circle cx="701.5" cy="38.2" r="5.8"/><circle cx="697.0" cy="41.9" r="5.8"/><circle cx="690.0" cy="46.0" r="5.8"/><circle cx="686.5" cy="50.7" r="5.8"/><circle cx="682.0" cy="56.0" r="5.8"/><circle cx="677.5" cy="62.2" r="5.8"/><circle cx="673.6" cy="69.4" r="5.8"/><circle cx="664.2" cy="77.8" r="5.8"/><circle cx="653.6" cy="87.7" r="5.8"/><circle cx="645.5" cy="99.5" r="5.8"/><circle cx="639.4" cy="113.5" r="5.8"/><circle cx="640.1" cy="130.2" r="5.8"/><circle cx="652.1" cy="150.2" r="5.8"/><circle cx="680.2" cy="174.1" r="5.8"/><circle cx="718.3" cy="202.9" r="5.8"/><circle cx="759.4" cy="237.6" r="5.8"/><circle cx="796.2" cy="279.2" r="5.8"/><circle cx="814.7" cy="329.3" r="5.8"/><circle cx="819.4" cy="389.6" r="5.8"/><circle cx="825.3" cy="461.9" r="5.8"/><circle cx="825.3" cy="548.6" r="5.8"/><circle cx="829.5" cy="652.3" r="5.8"/><circle cx="842.4" cy="775.8" r="5.8"/><circle cx="853.0" cy="922.5" r="5.8"/></g>
</g>
<g clip-path="url(#cp3)">
<g fill="#00ffff"><circle cx="1095.0" cy="19.2" r="3.2"/><circle cx="1096.4" cy="24.2" r="3.2"/><circle cx="1097.9" cy="29.1" r="3.2"/><circle cx="1099.2" cy="34.1" r="3.2"/><circle cx="1100.5" cy="39.1" r="3.2"/><circle cx="1101.8" cy="44.1" r="3.2"/><circle cx="1103.0" cy="49.0" r="3.2"/><circle cx="1104.4" cy="54.0" r="3.2"/><circle cx="1105.8" cy="59.0" r="3.2"/><circle cx="1107.2" cy="64.0" r="3.2"/><circle cx="1110.3" cy="69.0" r="3.2"/><circle cx="1116.7" cy="73.9" r="3.2"/><circle cx="1125.0" cy="78.9" r="3.2"/><circle cx="1132.5" cy="83.9" r="3.2"/><circle cx="1140.0" cy="88.9" r="3.2"/><circle cx="1150.0" cy="93.8" r="3.2"/><circle cx="1160.0" cy="98.8" r="3.2"/><circle cx="1167.5" cy="103.8" r="3.2"/><circle cx="1175.0" cy="108.8" r="3.2"/><circle cx="1180.0" cy="113.7" r="3.2"/><circle cx="1185.0" cy="118.7" r="3.2"/><circle cx="1187.5" cy="123.7" r="3.2"/><circle cx="1190.0" cy="128.7" r="3.2"/><circle cx="1192.5" cy="133.6" r="3.2"/><circle cx="1195.0" cy="138.6" r="3.2"/><circle cx="1196.4" cy="143.6" r="3.2"/><circle cx="1197.8" cy="148.5" r="3.2"/><circle cx="1199.1" cy="153.5" r="3.2"/><circle cx="1200.5" cy="158.5" r="3.2"/><circle cx="1201.9" cy="163.5" r="3.2"/><circle cx="1203.2" cy="168.4" r="3.2"/><circle cx="1204.6" cy="173.4" r="3.2"/><circle cx="1206.0" cy="178.4" r="3.2"/><circle cx="1207.0" cy="183.4" r="3.2"/><circle cx="1208.0" cy="188.3" r="3.2"/><circle cx="1209.0" cy="193.3" r="3.2"/><circle cx="1210.0" cy="198.3" r="3.2"/><circle cx="1211.0" cy="203.3" r="3.2"/><circle cx="1212.0" cy="208.2" r="3.2"/><circle cx="1213.0" cy="213.2" r="3.2"/><circle cx="1214.0" cy="218.2" r="3.2"/><circle cx="1214.8" cy="223.2" r="3.2"/><circle cx="1215.6" cy="228.1" r="3.2"/><circle cx="1216.4" cy="233.1" r="3.2"/><circle cx="1217.2" cy="238.1" r="3.2"/><circle cx="1218.0" cy="243.1" r="3.2"/><circle cx="1218.8" cy="248.0" r="3.2"/><circle cx="1219.6" cy="253.0" r="3.2"/><circle cx="1220.4" cy="258.0" r="3.2"/><circle cx="1221.2" cy="263.0" r="3.2"/><circle cx="1222.0" cy="267.9" r="3.2"/><circle cx="1222.8" cy="272.9" r="3.2"/><circle cx="1223.6" cy="277.9" r="3.2"/><circle cx="1224.4" cy="282.9" r="3.2"/><circle cx="1225.2" cy="287.8" r="3.2"/><circle cx="1226.0" cy="292.8" r="3.2"/><circle cx="1226.8" cy="297.8" r="3.2"/><circle cx="1227.6" cy="302.8" r="3.2"/><circle cx="1228.4" cy="307.8" r="3.2"/><circle cx="1229.2" cy="312.7" r="3.2"/><circle cx="1230.0" cy="317.7" r="3.2"/><circle cx="1230.7" cy="322.7" r="3.2"/><circle cx="1231.3" cy="327.6" r="3.2"/><circle cx="1232.0" cy="332.6" r="3.2"/><circle cx="1232.6" cy="337.6" r="3.2"/><circle cx="1233.2" cy="342.6" r="3.2"/><circle cx="1233.9" cy="347.6" r="3.2"/><circle cx="1234.5" cy="352.5" r="3.2"/><circle cx="1235.2" cy="357.5" r="3.2"/><circle cx="1235.8" cy="362.5" r="3.2"/><circle cx="1236.5" cy="367.4" r="3.2"/><circle cx="1237.2" cy="372.4" r="3.2"/><circle cx="1237.8" cy="377.4" r="3.2"/><circle cx="1238.5" cy="382.4" r="3.2"/><circle cx="1239.1" cy="387.3" r="3.2"/><circle cx="1239.8" cy="392.3" r="3.2"/><circle cx="1240.4" cy="397.3" r="3.2"/><circle cx="1241.0" cy="402.3" r="3.2"/><circle cx="1241.7" cy="407.2" r="3.2"/><circle cx="1242.3" cy="412.2" r="3.2"/><circle cx="1243.0" cy="417.2" r="3.2"/><circle cx="1243.7" cy="422.2" r="3.2"/><circle cx="1244.3" cy="427.1" r="3.2"/><circle cx="1245.0" cy="432.1" r="3.2"/><circle cx="1245.6" cy="437.1" r="3.2"/><circle cx="1246.2" cy="442.1" r="3.2"/><circle cx="1246.9" cy="447.1" r="3.2"/><circle cx="1247.5" cy="452.0" r="3.2"/><circle cx="1248.2" cy="457.0" r="3.2"/><circle cx="1248.8" cy="462.0" r="3.2"/><circle cx="1249.5" cy="466.9" r="3.2"/><circle cx="1250.2" cy="471.9" r="3.2"/><circle cx="1250.8" cy="476.9" r="3.2"/><circle cx="1251.5" cy="481.9" r="3.2"/><circle cx="1252.1" cy="486.8" r="3.2"/><circle cx="1252.8" cy="491.8" r="3.2"/><circle cx="1253.4" cy="496.8" r="3.2"/><circle cx="1254.0" cy="501.8" r="3.2"/><circle cx="1254.7" cy="506.8" r="3.2"/><circle cx="1255.3" cy="511.7" r="3.2"/><circle cx="1256.0" cy="516.7" r="3.2"/><circle cx="1256.7" cy="521.7" r="3.2"/><circle cx="1257.3" cy="526.6" r="3.2"/><circle cx="1258.0" cy="531.6" r="3.2"/><circle cx="1258.6" cy="536.6" r="3.2"/><circle cx="1259.2" cy="541.6" r="3.2"/><circle cx="1259.9" cy="546.6" r="3.2"/><circle cx="1260.5" cy="551.5" r="3.2"/><circle cx="1261.2" cy="556.5" r="3.2"/><circle cx="1261.8" cy="561.5" r="3.2"/><circle cx="1262.5" cy="566.5" r="3.2"/><circle cx="1263.2" cy="571.4" r="3.2"/><circle cx="1263.8" cy="576.4" r="3.2"/><circle cx="1264.5" cy="581.4" r="3.2"/><circle cx="1265.1" cy="586.4" r="3.2"/><circle cx="1265.8" cy="591.3" r="3.2"/><circle cx="1266.4" cy="596.3" r="3.2"/><circle cx="1267.0" cy="601.3" r="3.2"/><circle cx="1267.7" cy="606.2" r="3.2"/><circle cx="1268.3" cy="611.2" r="3.2"/><circle cx="1269.0" cy="616.2" r="3.2"/><circle cx="1269.6" cy="621.2" r="3.2"/><circle cx="1270.2" cy="626.2" r="3.2"/><circle cx="1270.9" cy="631.1" r="3.2"/><circle cx="1271.5" cy="636.1" r="3.2"/><circle cx="1272.1" cy="641.1" r="3.2"/><circle cx="1272.8" cy="646.1" r="3.2"/><circle cx="1273.4" cy="651.0" r="3.2"/><circle cx="1274.0" cy="656.0" r="3.2"/><circle cx="1274.6" cy="661.0" r="3.2"/><circle cx="1275.2" cy="666.0" r="3.2"/><circle cx="1275.9" cy="670.9" r="3.2"/><circle cx="1276.5" cy="675.9" r="3.2"/><circle cx="1277.1" cy="680.9" r="3.2"/><circle cx="1277.8" cy="685.9" r="3.2"/><circle cx="1278.4" cy="690.8" r="3.2"/><circle cx="1279.0" cy="695.8" r="3.2"/><circle cx="1279.6" cy="700.8" r="3.2"/><circle cx="1280.2" cy="705.8" r="3.2"/><circle cx="1280.9" cy="710.7" r="3.2"/><circle cx="1281.5" cy="715.7" r="3.2"/><circle cx="1282.1" cy="720.7" r="3.2"/><circle cx="1282.8" cy="725.7" r="3.2"/><circle cx="1283.4" cy="730.6" r="3.2"/><circle cx="1284.0" cy="735.6" r="3.2"/><circle cx="1284.6" cy="740.6" r="3.2"/><circle cx="1285.2" cy="745.6" r="3.2"/><circle cx="1285.9" cy="750.5" r="3.2"/><circle cx="1286.5" cy="755.5" r="3.2"/><circle cx="1287.1" cy="760.5" r="3.2"/><circle cx="1287.8" cy="765.5" r="3.2"/><circle cx="1288.4" cy="770.4" r="3.2"/><circle cx="1289.0" cy="775.4" r="3.2"/><circle cx="1289.6" cy="780.4" r="3.2"/><circle cx="1290.2" cy="785.4" r="3.2"/><circle cx="1290.9" cy="790.3" r="3.2"/><circle cx="1291.5" cy="795.3" r="3.2"/><circle cx="1292.1" cy="800.3" r="3.2"/><circle cx="1292.8" cy="805.2" r="3.2"/><circle cx="1293.4" cy="810.2" r="3.2"/><circle cx="1294.0" cy="815.2" r="3.2"/><circle cx="1096.0" cy="19.2" r="3.2"/><circle cx="1097.5" cy="24.2" r="3.2"/><circle cx="1099.0" cy="29.1" r="3.2"/><circle cx="1100.5" cy="34.1" r="3.2"/><circle cx="1102.0" cy="39.1" r="3.2"/><circle cx="1107.6" cy="44.1" r="3.2"/><circle cx="1113.2" cy="49.0" r="3.2"/><circle cx="1118.9" cy="54.0" r="3.2"/><circle cx="1146.7" cy="59.0" r="3.2"/><circle cx="1168.2" cy="64.0" r="3.2"/><circle cx="1175.7" cy="69.0" r="3.2"/><circle cx="1178.9" cy="73.9" r="3.2"/><circle cx="1180.4" cy="78.9" r="3.2"/><circle cx="1182.2" cy="83.9" r="3.2"/><circle cx="1184.3" cy="88.9" r="3.2"/><circle cx="1186.6" cy="93.8" r="3.2"/><circle cx="1189.6" cy="98.8" r="3.2"/><circle cx="1192.2" cy="103.8" r="3.2"/><circle cx="1193.2" cy="108.8" r="3.2"/><circle cx="1194.1" cy="113.7" r="3.2"/><circle cx="1195.1" cy="118.7" r="3.2"/><circle cx="1196.1" cy="123.7" r="3.2"/><circle cx="1197.1" cy="128.7" r="3.2"/><circle cx="1198.0" cy="133.6" r="3.2"/><circle cx="1199.0" cy="138.6" r="3.2"/><circle cx="1200.4" cy="143.6" r="3.2"/><circle cx="1201.8" cy="148.5" r="3.2"/><circle cx="1203.1" cy="153.5" r="3.2"/><circle cx="1204.5" cy="158.5" r="3.2"/><circle cx="1205.9" cy="163.5" r="3.2"/><circle cx="1207.2" cy="168.4" r="3.2"/><circle cx="1208.6" cy="173.4" r="3.2"/><circle cx="1210.0" cy="178.4" r="3.2"/><circle cx="1211.0" cy="183.4" r="3.2"/><circle cx="1212.0" cy="188.3" r="3.2"/><circle cx="1213.0" cy="193.3" r="3.2"/><circle cx="1214.0" cy="198.3" r="3.2"/><circle cx="1215.0" cy="203.3" r="3.2"/><circle cx="1216.0" cy="208.2" r="3.2"/><circle cx="1217.0" cy="213.2" r="3.2"/><circle cx="1218.0" cy="218.2" r="3.2"/><circle cx="1218.8" cy="223.2" r="3.2"/><circle cx="1219.6" cy="228.1" r="3.2"/><circle cx="1220.4" cy="233.1" r="3.2"/><circle cx="1221.2" cy="238.1" r="3.2"/><circle cx="1222.0" cy="243.1" r="3.2"/><circle cx="1222.8" cy="248.0" r="3.2"/><circle cx="1223.6" cy="253.0" r="3.2"/><circle cx="1224.4" cy="258.0" r="3.2"/><circle cx="1225.2" cy="263.0" r="3.2"/><circle cx="1226.0" cy="267.9" r="3.2"/><circle cx="1226.8" cy="272.9" r="3.2"/><circle cx="1227.6" cy="277.9" r="3.2"/><circle cx="1228.4" cy="282.9" r="3.2"/><circle cx="1229.2" cy="287.8" r="3.2"/><circle cx="1230.0" cy="292.8" r="3.2"/><circle cx="1230.8" cy="297.8" r="3.2"/><circle cx="1231.6" cy="302.8" r="3.2"/><circle cx="1232.4" cy="307.8" r="3.2"/><circle cx="1233.2" cy="312.7" r="3.2"/><circle cx="1234.0" cy="317.7" r="3.2"/><circle cx="1234.6" cy="322.7" r="3.2"/><circle cx="1235.2" cy="327.6" r="3.2"/><circle cx="1235.8" cy="332.6" r="3.2"/><circle cx="1236.4" cy="337.6" r="3.2"/><circle cx="1237.0" cy="342.6" r="3.2"/><circle cx="1237.6" cy="347.6" r="3.2"/><circle cx="1238.2" cy="352.5" r="3.2"/><circle cx="1238.8" cy="357.5" r="3.2"/><circle cx="1239.4" cy="362.5" r="3.2"/><circle cx="1240.0" cy="367.4" r="3.2"/><circle cx="1240.6" cy="372.4" r="3.2"/><circle cx="1241.2" cy="377.4" r="3.2"/><circle cx="1241.8" cy="382.4" r="3.2"/><circle cx="1242.4" cy="387.3" r="3.2"/><circle cx="1243.0" cy="392.3" r="3.2"/><circle cx="1243.6" cy="397.3" r="3.2"/><circle cx="1244.2" cy="402.3" r="3.2"/><circle cx="1244.8" cy="407.2" r="3.2"/><circle cx="1245.4" cy="412.2" r="3.2"/><circle cx="1246.0" cy="417.2" r="3.2"/><circle cx="1246.7" cy="422.2" r="3.2"/><circle cx="1247.3" cy="427.1" r="3.2"/><circle cx="1248.0" cy="432.1" r="3.2"/><circle cx="1248.6" cy="437.1" r="3.2"/><circle cx="1249.2" cy="442.1" r="3.2"/><circle cx="1249.9" cy="447.1" r="3.2"/><circle cx="1250.5" cy="452.0" r="3.2"/><circle cx="1251.2" cy="457.0" r="3.2"/><circle cx="1251.8" cy="462.0" r="3.2"/><circle cx="1252.5" cy="466.9" r="3.2"/><circle cx="1253.2" cy="471.9" r="3.2"/><circle cx="1253.8" cy="476.9" r="3.2"/><circle cx="1254.5" cy="481.9" r="3.2"/><circle cx="1255.1" cy="486.8" r="3.2"/><circle cx="1255.8" cy="491.8" r="3.2"/><circle cx="1256.4" cy="496.8" r="3.2"/><circle cx="1257.0" cy="501.8" r="3.2"/><circle cx="1257.7" cy="506.8" r="3.2"/><circle cx="1258.3" cy="511.7" r="3.2"/><circle cx="1259.0" cy="516.7" r="3.2"/><circle cx="1259.7" cy="521.7" r="3.2"/><circle cx="1260.3" cy="526.6" r="3.2"/><circle cx="1261.0" cy="531.6" r="3.2"/><circle cx="1261.6" cy="536.6" r="3.2"/><circle cx="1262.2" cy="541.6" r="3.2"/><circle cx="1262.9" cy="546.6" r="3.2"/><circle cx="1263.5" cy="551.5" r="3.2"/><circle cx="1264.2" cy="556.5" r="3.2"/><circle cx="1264.8" cy="561.5" r="3.2"/><circle cx="1265.5" cy="566.5" r="3.2"/><circle cx="1266.2" cy="571.4" r="3.2"/><circle cx="1266.8" cy="576.4" r="3.2"/><circle cx="1267.5" cy="581.4" r="3.2"/><circle cx="1268.1" cy="586.4" r="3.2"/><circle cx="1268.8" cy="591.3" r="3.2"/><circle cx="1269.4" cy="596.3" r="3.2"/><circle cx="1270.0" cy="601.3" r="3.2"/><circle cx="1270.7" cy="606.2" r="3.2"/><circle cx="1271.3" cy="611.2" r="3.2"/><circle cx="1272.0" cy="616.2" r="3.2"/><circle cx="1272.6" cy="621.2" r="3.2"/><circle cx="1273.2" cy="626.2" r="3.2"/><circle cx="1273.9" cy="631.1" r="3.2"/><circle cx="1274.5" cy="636.1" r="3.2"/><circle cx="1275.1" cy="641.1" r="3.2"/><circle cx="1275.8" cy="646.1" r="3.2"/><circle cx="1276.4" cy="651.0" r="3.2"/><circle cx="1277.0" cy="656.0" r="3.2"/><circle cx="1277.6" cy="661.0" r="3.2"/><circle cx="1278.2" cy="666.0" r="3.2"/><circle cx="1278.9" cy="670.9" r="3.2"/><circle cx="1279.5" cy="675.9" r="3.2"/><circle cx="1280.1" cy="680.9" r="3.2"/><circle cx="1280.8" cy="685.9" r="3.2"/><circle cx="1281.4" cy="690.8" r="3.2"/><circle cx="1282.0" cy="695.8" r="3.2"/><circle cx="1282.6" cy="700.8" r="3.2"/><circle cx="1283.2" cy="705.8" r="3.2"/><circle cx="1283.9" cy="710.7" r="3.2"/><circle cx="1284.5" cy="715.7" r="3.2"/><circle cx="1285.1" cy="720.7" r="3.2"/><circle cx="1285.8" cy="725.7" r="3.2"/><circle cx="1286.4" cy="730.6" r="3.2"/><circle cx="1287.0" cy="735.6" r="3.2"/><circle cx="1287.6" cy="740.6" r="3.2"/><circle cx="1288.2" cy="745.6" r="3.2"/><circle cx="1288.9" cy="750.5" r="3.2"/><circle cx="1289.5" cy="755.5" r="3.2"/><circle cx="1290.1" cy="760.5" r="3.2"/><circle cx="1290.8" cy="765.5" r="3.2"/><circle cx="1291.4" cy="770.4" r="3.2"/><circle cx="1292.0" cy="775.4" r="3.2"/><circle cx="1292.6" cy="780.4" r="3.2"/><circle cx="1293.2" cy="785.4" r="3.2"/><circle cx="1293.9" cy="790.3" r="3.2"/><circle cx="1294.5" cy="795.3" r="3.2"/><circle cx="1295.1" cy="800.3" r="3.2"/><circle cx="1295.8" cy="805.2" r="3.2"/><circle cx="1296.4" cy="810.2" r="3.2"/><circle cx="1297.0" cy="815.2" r="3.2"/><circle cx="1094.0" cy="19.2" r="3.2"/><circle cx="1095.5" cy="24.2" r="3.2"/><circle cx="1097.0" cy="29.1" r="3.2"/><circle cx="1098.5" cy="34.1" r="3.2"/><circle cx="1100.0" cy="39.1" r="3.2"/><circle cx="1107.5" cy="44.1" r="3.2"/><circle cx="1115.0" cy="49.0" r="3.2"/><circle cx="1122.5" cy="54.0" r="3.2"/><circle cx="1130.0" cy="59.0" r="3.2"/><circle cx="1146.8" cy="64.0" r="3.2"/><circle cx="1156.0" cy="69.0" r="3.2"/><circle cx="1161.0" cy="73.9" r="3.2"/><circle cx="1165.2" cy="78.9" r="3.2"/><circle cx="1169.2" cy="83.9" r="3.2"/><circle cx="1172.9" cy="88.9" r="3.2"/><circle cx="1176.4" cy="93.8" r="3.2"/><circle cx="1180.0" cy="98.8" r="3.2"/><circle cx="1182.5" cy="103.8" r="3.2"/><circle cx="1185.0" cy="108.8" r="3.2"/><circle cx="1187.5" cy="113.7" r="3.2"/><circle cx="1190.0" cy="118.7" r="3.2"/><circle cx="1191.6" cy="123.7" r="3.2"/><circle cx="1193.2" cy="128.7" r="3.2"/><circle cx="1194.9" cy="133.6" r="3.2"/><circle cx="1196.5" cy="138.6" r="3.2"/><circle cx="1198.1" cy="143.6" r="3.2"/><circle cx="1199.8" cy="148.5" r="3.2"/><circle cx="1201.4" cy="153.5" r="3.2"/><circle cx="1203.0" cy="158.5" r="3.2"/><circle cx="1204.1" cy="163.5" r="3.2"/><circle cx="1205.2" cy="168.4" r="3.2"/><circle cx="1206.2" cy="173.4" r="3.2"/><circle cx="1207.3" cy="178.4" r="3.2"/><circle cx="1208.4" cy="183.4" r="3.2"/><circle cx="1209.5" cy="188.3" r="3.2"/><circle cx="1210.6" cy="193.3" r="3.2"/><circle cx="1211.7" cy="198.3" r="3.2"/><circle cx="1212.8" cy="203.3" r="3.2"/><circle cx="1213.8" cy="208.2" r="3.2"/><circle cx="1214.9" cy="213.2" r="3.2"/><circle cx="1216.0" cy="218.2" r="3.2"/><circle cx="1216.8" cy="223.2" r="3.2"/><circle cx="1217.6" cy="228.1" r="3.2"/><circle cx="1218.4" cy="233.1" r="3.2"/><circle cx="1219.2" cy="238.1" r="3.2"/><circle cx="1220.0" cy="243.1" r="3.2"/><circle cx="1220.8" cy="248.0" r="3.2"/><circle cx="1221.6" cy="253.0" r="3.2"/><circle cx="1222.4" cy="258.0" r="3.2"/><circle cx="1223.2" cy="263.0" r="3.2"/><circle cx="1224.0" cy="267.9" r="3.2"/><circle cx="1224.8" cy="272.9" r="3.2"/><circle cx="1225.6" cy="277.9" r="3.2"/><circle cx="1226.4" cy="282.9" r="3.2"/><circle cx="1227.2" cy="287.8" r="3.2"/><circle cx="1228.0" cy="292.8" r="3.2"/><circle cx="1228.8" cy="297.8" r="3.2"/><circle cx="1229.6" cy="302.8" r="3.2"/><circle cx="1230.4" cy="307.8" r="3.2"/><circle cx="1231.2" cy="312.7" r="3.2"/><circle cx="1232.0" cy="317.7" r="3.2"/><circle cx="1232.6" cy="322.7" r="3.2"/><circle cx="1233.2" cy="327.6" r="3.2"/><circle cx="1233.8" cy="332.6" r="3.2"/><circle cx="1234.4" cy="337.6" r="3.2"/><circle cx="1235.0" cy="342.6" r="3.2"/><circle cx="1235.6" cy="347.6" r="3.2"/><circle cx="1236.2" cy="352.5" r="3.2"/><circle cx="1236.8" cy="357.5" r="3.2"/><circle cx="1237.4" cy="362.5" r="3.2"/><circle cx="1238.0" cy="367.4" r="3.2"/><circle cx="1238.6" cy="372.4" r="3.2"/><circle cx="1239.2" cy="377.4" r="3.2"/><circle cx="1239.8" cy="382.4" r="3.2"/><circle cx="1240.4" cy="387.3" r="3.2"/><circle cx="1241.0" cy="392.3" r="3.2"/><circle cx="1241.6" cy="397.3" r="3.2"/><circle cx="1242.2" cy="402.3" r="3.2"/><circle cx="1242.8" cy="407.2" r="3.2"/><circle cx="1243.4" cy="412.2" r="3.2"/><circle cx="1244.0" cy="417.2" r="3.2"/><circle cx="1244.7" cy="422.2" r="3.2"/><circle cx="1245.3" cy="427.1" r="3.2"/><circle cx="1246.0" cy="432.1" r="3.2"/><circle cx="1246.7" cy="437.1" r="3.2"/><circle cx="1247.4" cy="442.1" r="3.2"/><circle cx="1248.0" cy="447.1" r="3.2"/><circle cx="1248.7" cy="452.0" r="3.2"/><circle cx="1249.4" cy="457.0" r="3.2"/><circle cx="1250.1" cy="462.0" r="3.2"/><circle cx="1250.8" cy="466.9" r="3.2"/><circle cx="1251.4" cy="471.9" r="3.2"/><circle cx="1252.1" cy="476.9" r="3.2"/><circle cx="1252.8" cy="481.9" r="3.2"/><circle cx="1253.5" cy="486.8" r="3.2"/><circle cx="1254.1" cy="491.8" r="3.2"/><circle cx="1254.8" cy="496.8" r="3.2"/><circle cx="1255.5" cy="501.8" r="3.2"/><circle cx="1256.2" cy="506.8" r="3.2"/><circle cx="1256.8" cy="511.7" r="3.2"/><circle cx="1257.5" cy="516.7" r="3.2"/><circle cx="1258.2" cy="521.7" r="3.2"/><circle cx="1258.8" cy="526.6" r="3.2"/><circle cx="1259.5" cy="531.6" r="3.2"/><circle cx="1260.2" cy="536.6" r="3.2"/><circle cx="1260.9" cy="541.6" r="3.2"/><circle cx="1261.5" cy="546.6" r="3.2"/><circle cx="1262.2" cy="551.5" r="3.2"/><circle cx="1262.9" cy="556.5" r="3.2"/><circle cx="1263.6" cy="561.5" r="3.2"/><circle cx="1264.2" cy="566.5" r="3.2"/><circle cx="1264.9" cy="571.4" r="3.2"/><circle cx="1265.6" cy="576.4" r="3.2"/><circle cx="1266.3" cy="581.4" r="3.2"/><circle cx="1267.0" cy="586.4" r="3.2"/><circle cx="1267.6" cy="591.3" r="3.2"/><circle cx="1268.3" cy="596.3" r="3.2"/><circle cx="1269.0" cy="601.3" r="3.2"/><circle cx="1269.7" cy="606.2" r="3.2"/><circle cx="1270.3" cy="611.2" r="3.2"/><circle cx="1271.0" cy="616.2" r="3.2"/><circle cx="1271.6" cy="621.2" r="3.2"/><circle cx="1272.2" cy="626.2" r="3.2"/><circle cx="1272.8" cy="631.1" r="3.2"/><circle cx="1273.4" cy="636.1" r="3.2"/><circle cx="1274.0" cy="641.1" r="3.2"/><circle cx="1274.6" cy="646.1" r="3.2"/><circle cx="1275.2" cy="651.0" r="3.2"/><circle cx="1275.8" cy="656.0" r="3.2"/><circle cx="1276.4" cy="661.0" r="3.2"/><circle cx="1277.0" cy="666.0" r="3.2"/><circle cx="1277.6" cy="670.9" r="3.2"/><circle cx="1278.2" cy="675.9" r="3.2"/><circle cx="1278.8" cy="680.9" r="3.2"/><circle cx="1279.4" cy="685.9" r="3.2"/><circle cx="1280.0" cy="690.8" r="3.2"/><circle cx="1280.6" cy="695.8" r="3.2"/><circle cx="1281.2" cy="700.8" r="3.2"/><circle cx="1281.8" cy="705.8" r="3.2"/><circle cx="1282.4" cy="710.7" r="3.2"/><circle cx="1283.0" cy="715.7" r="3.2"/><circle cx="1283.6" cy="720.7" r="3.2"/><circle cx="1284.2" cy="725.7" r="3.2"/><circle cx="1284.8" cy="730.6" r="3.2"/><circle cx="1285.4" cy="735.6" r="3.2"/><circle cx="1286.0" cy="740.6" r="3.2"/><circle cx="1286.6" cy="745.6" r="3.2"/><circle cx="1287.2" cy="750.5" r="3.2"/><circle cx="1287.8" cy="755.5" r="3.2"/><circle cx="1288.4" cy="760.5" r="3.2"/><circle cx="1289.0" cy="765.5" r="3.2"/><circle cx="1289.6" cy="770.4" r="3.2"/><circle cx="1290.2" cy="775.4" r="3.2"/><circle cx="1290.8" cy="780.4" r="3.2"/><circle cx="1291.4" cy="785.4" r="3.2"/><circle cx="1292.0" cy="790.3" r="3.2"/><circle cx="1292.6" cy="795.3" r="3.2"/><circle cx="1293.2" cy="800.3" r="3.2"/><circle cx="1293.8" cy="805.2" r="3.2"/><circle cx="1294.4" cy="810.2" r="3.2"/><circle cx="1295.0" cy="815.2" r="3.2"/><circle cx="1097.0" cy="19.2" r="3.2"/><circle cx="1098.9" cy="24.2" r="3.2"/><circle cx="1100.8" cy="29.1" r="3.2"/><circle cx="1102.6" cy="34.1" r="3.2"/><circle cx="1104.5" cy="39.1" r="3.2"/><circle cx="1108.1" cy="44.1" r="3.2"/><circle cx="1118.4" cy="49.0" r="3.2"/><circle cx="1128.8" cy="54.0" r="3.2"/><circle cx="1138.0" cy="59.0" r="3.2"/><circle cx="1145.5" cy="64.0" r="3.2"/><circle cx="1152.5" cy="69.0" r="3.2"/><circle cx="1158.8" cy="73.9" r="3.2"/><circle cx="1165.0" cy="78.9" r="3.2"/><circle cx="1170.4" cy="83.9" r="3.2"/><circle cx="1175.8" cy="88.9" r="3.2"/><circle cx="1179.3" cy="93.8" r="3.2"/><circle cx="1181.6" cy="98.8" r="3.2"/><circle cx="1183.8" cy="103.8" r="3.2"/><circle cx="1186.0" cy="108.8" r="3.2"/><circle cx="1187.7" cy="113.7" r="3.2"/><circle cx="1189.3" cy="118.7" r="3.2"/><circle cx="1191.0" cy="123.7" r="3.2"/><circle cx="1192.7" cy="128.7" r="3.2"/><circle cx="1194.3" cy="133.6" r="3.2"/><circle cx="1196.0" cy="138.6" r="3.2"/><circle cx="1197.2" cy="143.6" r="3.2"/><circle cx="1198.4" cy="148.5" r="3.2"/><circle cx="1199.6" cy="153.5" r="3.2"/><circle cx="1200.8" cy="158.5" r="3.2"/><circle cx="1201.9" cy="163.5" r="3.2"/><circle cx="1203.1" cy="168.4" r="3.2"/><circle cx="1204.3" cy="173.4" r="3.2"/><circle cx="1205.5" cy="178.4" r="3.2"/><circle cx="1206.7" cy="183.4" r="3.2"/><circle cx="1207.9" cy="188.3" r="3.2"/><circle cx="1209.1" cy="193.3" r="3.2"/><circle cx="1210.2" cy="198.3" r="3.2"/><circle cx="1211.4" cy="203.3" r="3.2"/><circle cx="1212.6" cy="208.2" r="3.2"/><circle cx="1213.8" cy="213.2" r="3.2"/><circle cx="1215.0" cy="218.2" r="3.2"/><circle cx="1215.7" cy="223.2" r="3.2"/><circle cx="1216.4" cy="228.1" r="3.2"/><circle cx="1217.1" cy="233.1" r="3.2"/><circle cx="1217.8" cy="238.1" r="3.2"/><circle cx="1218.5" cy="243.1" r="3.2"/><circle cx="1219.2" cy="248.0" r="3.2"/><circle cx="1219.9" cy="253.0" r="3.2"/><circle cx="1220.6" cy="258.0" r="3.2"/><circle cx="1221.3" cy="263.0" r="3.2"/><circle cx="1222.0" cy="267.9" r="3.2"/><circle cx="1222.7" cy="272.9" r="3.2"/><circle cx="1223.4" cy="277.9" r="3.2"/><circle cx="1224.1" cy="282.9" r="3.2"/><circle cx="1224.8" cy="287.8" r="3.2"/><circle cx="1225.5" cy="292.8" r="3.2"/><circle cx="1226.2" cy="297.8" r="3.2"/><circle cx="1226.9" cy="302.8" r="3.2"/><circle cx="1227.6" cy="307.8" r="3.2"/><circle cx="1228.3" cy="312.7" r="3.2"/><circle cx="1229.0" cy="317.7" r="3.2"/><circle cx="1229.7" cy="322.7" r="3.2"/><circle cx="1230.4" cy="327.6" r="3.2"/><circle cx="1231.1" cy="332.6" r="3.2"/><circle cx="1231.8" cy="337.6" r="3.2"/><circle cx="1232.5" cy="342.6" r="3.2"/><circle cx="1233.2" cy="347.6" r="3.2"/><circle cx="1233.9" cy="352.5" r="3.2"/><circle cx="1234.6" cy="357.5" r="3.2"/><circle cx="1235.3" cy="362.5" r="3.2"/><circle cx="1236.0" cy="367.4" r="3.2"/><circle cx="1236.7" cy="372.4" r="3.2"/><circle cx="1237.4" cy="377.4" r="3.2"/><circle cx="1238.1" cy="382.4" r="3.2"/><circle cx="1238.8" cy="387.3" r="3.2"/><circle cx="1239.5" cy="392.3" r="3.2"/><circle cx="1240.2" cy="397.3" r="3.2"/><circle cx="1240.9" cy="402.3" r="3.2"/><circle cx="1241.6" cy="407.2" r="3.2"/><circle cx="1242.3" cy="412.2" r="3.2"/><circle cx="1243.0" cy="417.2" r="3.2"/><circle cx="1243.7" cy="422.2" r="3.2"/><circle cx="1244.3" cy="427.1" r="3.2"/><circle cx="1245.0" cy="432.1" r="3.2"/><circle cx="1245.6" cy="437.1" r="3.2"/><circle cx="1246.2" cy="442.1" r="3.2"/><circle cx="1246.9" cy="447.1" r="3.2"/><circle cx="1247.5" cy="452.0" r="3.2"/><circle cx="1248.2" cy="457.0" r="3.2"/><circle cx="1248.8" cy="462.0" r="3.2"/><circle cx="1249.5" cy="466.9" r="3.2"/><circle cx="1250.2" cy="471.9" r="3.2"/><circle cx="1250.8" cy="476.9" r="3.2"/><circle cx="1251.5" cy="481.9" r="3.2"/><circle cx="1252.1" cy="486.8" r="3.2"/><circle cx="1252.8" cy="491.8" r="3.2"/><circle cx="1253.4" cy="496.8" r="3.2"/><circle cx="1254.0" cy="501.8" r="3.2"/><circle cx="1254.7" cy="506.8" r="3.2"/><circle cx="1255.3" cy="511.7" r="3.2"/><circle cx="1256.0" cy="516.7" r="3.2"/><circle cx="1256.7" cy="521.7" r="3.2"/><circle cx="1257.3" cy="526.6" r="3.2"/><circle cx="1258.0" cy="531.6" r="3.2"/><circle cx="1258.6" cy="536.6" r="3.2"/><circle cx="1259.2" cy="541.6" r="3.2"/><circle cx="1259.9" cy="546.6" r="3.2"/><circle cx="1260.5" cy="551.5" r="3.2"/><circle cx="1261.2" cy="556.5" r="3.2"/><circle cx="1261.8" cy="561.5" r="3.2"/><circle cx="1262.5" cy="566.5" r="3.2"/><circle cx="1263.2" cy="571.4" r="3.2"/><circle cx="1263.8" cy="576.4" r="3.2"/><circle cx="1264.5" cy="581.4" r="3.2"/><circle cx="1265.1" cy="586.4" r="3.2"/><circle cx="1265.8" cy="591.3" r="3.2"/><circle cx="1266.4" cy="596.3" r="3.2"/><circle cx="1267.0" cy="601.3" r="3.2"/><circle cx="1267.7" cy="606.2" r="3.2"/><circle cx="1268.3" cy="611.2" r="3.2"/><circle cx="1269.0" cy="616.2" r="3.2"/><circle cx="1269.7" cy="621.2" r="3.2"/><circle cx="1270.3" cy="626.2" r="3.2"/><circle cx="1271.0" cy="631.1" r="3.2"/><circle cx="1271.6" cy="636.1" r="3.2"/><circle cx="1272.2" cy="641.1" r="3.2"/><circle cx="1272.9" cy="646.1" r="3.2"/><circle cx="1273.5" cy="651.0" r="3.2"/><circle cx="1274.2" cy="656.0" r="3.2"/><circle cx="1274.8" cy="661.0" r="3.2"/><circle cx="1275.5" cy="666.0" r="3.2"/><circle cx="1276.2" cy="670.9" r="3.2"/><circle cx="1276.8" cy="675.9" r="3.2"/><circle cx="1277.5" cy="680.9" r="3.2"/><circle cx="1278.1" cy="685.9" r="3.2"/><circle cx="1278.8" cy="690.8" r="3.2"/><circle cx="1279.4" cy="695.8" r="3.2"/><circle cx="1280.0" cy="700.8" r="3.2"/><circle cx="1280.7" cy="705.8" r="3.2"/><circle cx="1281.3" cy="710.7" r="3.2"/><circle cx="1282.0" cy="715.7" r="3.2"/><circle cx="1282.7" cy="720.7" r="3.2"/><circle cx="1283.3" cy="725.7" r="3.2"/><circle cx="1284.0" cy="730.6" r="3.2"/><circle cx="1284.6" cy="735.6" r="3.2"/><circle cx="1285.2" cy="740.6" r="3.2"/><circle cx="1285.9" cy="745.6" r="3.2"/><circle cx="1286.5" cy="750.5" r="3.2"/><circle cx="1287.2" cy="755.5" r="3.2"/><circle cx="1287.8" cy="760.5" r="3.2"/><circle cx="1288.5" cy="765.5" r="3.2"/><circle cx="1289.2" cy="770.4" r="3.2"/><circle cx="1289.8" cy="775.4" r="3.2"/><circle cx="1290.5" cy="780.4" r="3.2"/><circle cx="1291.1" cy="785.4" r="3.2"/><circle cx="1291.8" cy="790.3" r="3.2"/><circle cx="1292.4" cy="795.3" r="3.2"/><circle cx="1293.0" cy="800.3" r="3.2"/><circle cx="1293.7" cy="805.2" r="3.2"/><circle cx="1294.3" cy="810.2" r="3.2"/><circle cx="1295.0" cy="815.2" r="3.2"/></g>
<polygon points="1095.0,19.2 1095.3,21.2 1095.7,23.2 1096.0,25.2 1096.4,27.2 1096.7,29.1 1097.3,31.1 1097.9,33.1 1098.5,35.1 1099.4,37.1 1100.2,39.1 1101.0,41.1 1101.9,43.1 1102.7,45.1 1103.5,47.1 1104.4,49.0 1105.3,51.0 1106.1,53.0 1107.0,55.0 1107.8,57.0 1108.7,59.0 1109.6,61.0 1110.6,63.0 1111.6,65.0 1112.6,67.0 1113.6,69.0 1114.4,70.9 1115.2,72.9 1116.0,74.9 1116.8,76.9 1117.6,78.9 1118.3,80.9 1119.1,82.9 1119.9,84.9 1121.8,86.9 1123.8,88.9 1125.7,90.8 1127.7,92.8 1129.6,94.8 1131.6,96.8 1133.8,98.8 1135.9,100.8 1138.1,102.8 1140.3,104.8 1142.4,106.8 1144.6,108.8 1147.1,110.7 1149.6,112.7 1151.5,114.7 1153.3,116.7 1155.1,118.7 1156.2,120.7 1157.4,122.7 1158.5,124.7 1159.6,126.7 1160.7,128.7 1161.9,130.6 1163.0,132.6 1164.1,134.6 1165.2,136.6 1166.4,138.6 1167.5,140.6 1168.7,142.6 1169.9,144.6 1171.1,146.6 1172.3,148.5 1173.4,150.5 1174.6,152.5 1175.8,154.5 1177.0,156.5 1178.2,158.5 1179.2,160.5 1180.3,162.5 1181.3,164.5 1182.4,166.5 1183.4,168.4 1184.5,170.4 1185.5,172.4 1186.6,174.4 1187.6,176.4 1188.7,178.4 1189.6,180.4 1190.5,182.4 1191.4,184.4 1192.3,186.4 1193.2,188.3 1194.1,190.3 1195.0,192.3 1195.9,194.3 1196.8,196.3 1197.7,198.3 1198.3,200.3 1198.9,202.3 1199.5,204.3 1200.1,206.3 1200.7,208.2 1201.3,210.2 1201.9,212.2 1202.5,214.2 1203.1,216.2 1203.8,218.2 1204.1,220.2 1204.5,222.2 1204.8,224.2 1205.2,226.2 1205.5,228.1 1205.9,230.1 1206.2,232.1 1206.6,234.1 1206.9,236.1 1207.3,238.1 1207.6,240.1 1208.0,242.1 1208.3,244.1 1208.7,246.1 1209.0,248.0 1209.4,250.0 1209.7,252.0 1210.1,254.0 1210.4,256.0 1210.8,258.0 1211.1,260.0 1211.5,262.0 1211.8,264.0 1212.2,266.0 1212.5,267.9 1213.2,269.9 1213.9,271.9 1214.6,273.9 1215.3,275.9 1216.0,277.9 1216.7,279.9 1217.4,281.9 1218.1,283.9 1218.8,285.9 1219.4,287.8 1220.1,289.8 1220.8,291.8 1221.5,293.8 1222.2,295.8 1222.9,297.8 1223.6,299.8 1224.2,301.8 1224.9,303.8 1225.5,305.8 1226.2,307.8 1226.9,309.7 1227.5,311.7 1228.2,313.7 1228.8,315.7 1229.5,317.7 1229.8,319.7 1230.1,321.7 1230.4,323.7 1230.7,325.7 1231.0,327.6 1231.3,329.6 1231.6,331.6 1231.9,333.6 1232.2,335.6 1232.5,337.6 1232.8,339.6 1233.1,341.6 1233.4,343.6 1233.7,345.6 1234.0,347.6 1234.3,349.5 1234.6,351.5 1234.9,353.5 1235.2,355.5 1235.5,357.5 1235.8,359.5 1236.1,361.5 1236.4,363.5 1236.7,365.5 1237.0,367.4 1237.3,369.4 1237.6,371.4 1237.9,373.4 1238.2,375.4 1238.5,377.4 1238.8,379.4 1239.1,381.4 1239.4,383.4 1239.7,385.4 1240.0,387.3 1240.3,389.3 1240.6,391.3 1240.9,393.3 1241.2,395.3 1241.5,397.3 1241.8,399.3 1242.1,401.3 1242.4,403.3 1242.7,405.3 1243.0,407.2 1243.3,409.2 1243.6,411.2 1243.9,413.2 1244.2,415.2 1244.5,417.2 1244.8,419.2 1245.2,421.2 1245.5,423.2 1245.8,425.2 1246.2,427.1 1246.5,429.1 1246.8,431.1 1247.1,433.1 1247.5,435.1 1247.8,437.1 1248.1,439.1 1248.5,441.1 1248.8,443.1 1249.1,445.1 1249.5,447.1 1249.8,449.0 1250.1,451.0 1250.4,453.0 1250.8,455.0 1251.1,457.0 1251.4,459.0 1251.8,461.0 1252.1,463.0 1252.4,465.0 1252.8,466.9 1253.1,468.9 1253.4,470.9 1253.7,472.9 1254.1,474.9 1254.4,476.9 1254.7,478.9 1255.1,480.9 1255.4,482.9 1255.7,484.9 1256.0,486.8 1256.4,488.8 1256.7,490.8 1257.0,492.8 1257.4,494.8 1257.7,496.8 1258.0,498.8 1258.4,500.8 1258.7,502.8 1259.0,504.8 1259.3,506.8 1259.7,508.7 1260.0,510.7 1260.3,512.7 1260.7,514.7 1261.0,516.7 1261.3,518.7 1261.6,520.7 1261.8,522.7 1262.1,524.7 1262.4,526.6 1262.7,528.6 1263.0,530.6 1263.2,532.6 1263.5,534.6 1263.8,536.6 1264.1,538.6 1264.4,540.6 1264.6,542.6 1264.9,544.6 1265.2,546.6 1265.5,548.5 1265.8,550.5 1266.0,552.5 1266.3,554.5 1266.6,556.5 1266.9,558.5 1267.2,560.5 1267.4,562.5 1267.7,564.5 1268.0,566.5 1268.3,568.4 1268.6,570.4 1268.8,572.4 1269.1,574.4 1269.4,576.4 1269.7,578.4 1270.0,580.4 1270.2,582.4 1270.5,584.4 1270.8,586.4 1271.1,588.3 1271.4,590.3 1271.6,592.3 1271.9,594.3 1272.2,596.3 1272.5,598.3 1272.8,600.3 1273.0,602.3 1273.3,604.3 1273.6,606.2 1273.9,608.2 1274.2,610.2 1274.4,612.2 1274.7,614.2 1275.0,616.2 1275.3,618.2 1275.5,620.2 1275.8,622.2 1276.1,624.2 1276.3,626.2 1276.6,628.1 1276.9,630.1 1277.2,632.1 1277.4,634.1 1277.7,636.1 1278.0,638.1 1278.2,640.1 1278.5,642.1 1278.8,644.1 1279.0,646.1 1279.3,648.0 1279.6,650.0 1279.9,652.0 1280.1,654.0 1280.4,656.0 1280.7,658.0 1280.9,660.0 1281.2,662.0 1281.5,664.0 1281.8,666.0 1282.0,667.9 1282.3,669.9 1282.6,671.9 1282.8,673.9 1283.1,675.9 1283.4,677.9 1283.6,679.9 1283.9,681.9 1284.2,683.9 1284.5,685.9 1284.7,687.8 1285.0,689.8 1285.3,691.8 1285.5,693.8 1285.8,695.8 1286.1,697.8 1286.3,699.8 1286.6,701.8 1286.9,703.8 1287.2,705.8 1287.4,707.7 1287.7,709.7 1288.0,711.7 1288.2,713.7 1288.5,715.7 1288.8,717.7 1289.1,719.7 1289.3,721.7 1289.6,723.7 1289.9,725.7 1290.2,727.6 1290.5,729.6 1290.7,731.6 1291.0,733.6 1291.3,735.6 1291.6,737.6 1291.9,739.6 1292.1,741.6 1292.4,743.6 1292.7,745.6 1293.0,747.5 1293.3,749.5 1293.5,751.5 1293.8,753.5 1294.1,755.5 1294.4,757.5 1294.7,759.5 1294.9,761.5 1295.2,763.5 1295.5,765.5 1295.8,767.4 1296.1,769.4 1296.3,771.4 1296.6,773.4 1296.9,775.4 1297.2,777.4 1297.5,779.4 1297.7,781.4 1298.0,783.4 1298.3,785.4 1298.6,787.3 1298.9,789.3 1299.1,791.3 1299.4,793.3 1299.7,795.3 1300.0,797.3 1300.3,799.3 1300.5,801.3 1300.8,803.3 1301.1,805.2 1301.4,807.2 1301.7,809.2 1301.9,811.2 1302.2,813.2 1302.5,815.2 1302.5,815.2 1302.2,813.2 1301.9,811.2 1301.7,809.2 1301.4,807.2 1301.1,805.2 1300.8,803.3 1300.5,801.3 1300.3,799.3 1300.0,797.3 1299.7,795.3 1299.4,793.3 1299.1,791.3 1298.9,789.3 1298.6,787.3 1298.3,785.4 1298.0,783.4 1297.7,781.4 1297.5,779.4 1297.2,777.4 1296.9,775.4 1296.6,773.4 1296.3,771.4 1296.1,769.4 1295.8,767.4 1295.5,765.5 1295.2,763.5 1294.9,761.5 1294.7,759.5 1294.4,757.5 1294.1,755.5 1293.8,753.5 1293.5,751.5 1293.3,749.5 1293.0,747.5 1292.7,745.6 1292.4,743.6 1292.1,741.6 1291.9,739.6 1291.6,737.6 1291.3,735.6 1291.0,733.6 1290.7,731.6 1290.5,729.6 1290.2,727.6 1289.9,725.7 1289.6,723.7 1289.3,721.7 1289.1,719.7 1288.8,717.7 1288.5,715.7 1288.2,713.7 1288.0,711.7 1287.7,709.7 1287.4,707.7 1287.2,705.8 1286.9,703.8 1286.6,701.8 1286.3,699.8 1286.1,697.8 1285.8,695.8 1285.5,693.8 1285.3,691.8 1285.0,689.8 1284.7,687.8 1284.5,685.9 1284.2,683.9 1283.9,681.9 1283.6,679.9 1283.4,677.9 1283.1,675.9 1282.8,673.9 1282.6,671.9 1282.3,669.9 1282.0,667.9 1281.8,666.0 1281.5,664.0 1281.2,662.0 1280.9,660.0 1280.7,658.0 1280.4,656.0 1280.1,654.0 1279.9,652.0 1279.6,650.0 1279.3,648.0 1279.0,646.1 1278.8,644.1 1278.5,642.1 1278.2,640.1 1278.0,638.1 1277.7,636.1 1277.4,634.1 1277.2,632.1 1276.9,630.1 1276.6,628.1 1276.3,626.2 1276.1,624.2 1275.8,622.2 1275.5,620.2 1275.3,618.2 1275.0,616.2 1274.7,614.2 1274.4,612.2 1274.2,610.2 1273.9,608.2 1273.6,606.2 1273.3,604.3 1273.0,602.3 1272.8,600.3 1272.5,598.3 1272.2,596.3 1271.9,594.3 1271.6,592.3 1271.4,590.3 1271.1,588.3 1270.8,586.4 1270.5,584.4 1270.2,582.4 1270.0,580.4 1269.7,578.4 1269.4,576.4 1269.1,574.4 1268.8,572.4 1268.6,570.4 1268.3,568.4 1268.0,566.5 1267.7,564.5 1267.4,562.5 1267.2,560.5 1266.9,558.5 1266.6,556.5 1266.3,554.5 1266.0,552.5 1265.8,550.5 1265.5,548.5 1265.2,546.6 1264.9,544.6 1264.6,542.6 1264.4,540.6 1264.1,538.6 1263.8,536.6 1263.5,534.6 1263.2,532.6 1263.0,530.6 1262.7,528.6 1262.4,526.6 1262.1,524.7 1261.8,522.7 1261.6,520.7 1261.3,518.7 1261.0,516.7 1260.7,514.7 1260.3,512.7 1260.0,510.7 1259.7,508.7 1259.3,506.8 1259.0,504.8 1258.7,502.8 1258.4,500.8 1258.0,498.8 1257.7,496.8 1257.4,494.8 1257.0,492.8 1256.7,490.8 1256.4,488.8 1256.0,486.8 1255.7,484.9 1255.4,482.9 1255.1,480.9 1254.7,478.9 1254.4,476.9 1254.1,474.9 1253.7,472.9 1253.4,470.9 1253.1,468.9 1252.8,466.9 1252.4,465.0 1252.1,463.0 1251.8,461.0 1251.4,459.0 1251.1,457.0 1250.8,455.0 1250.4,453.0 1250.1,451.0 1249.8,449.0 1249.5,447.1 1249.1,445.1 1248.8,443.1 1248.5,441.1 1248.1,439.1 1247.8,437.1 1247.5,435.1 1247.1,433.1 1246.8,431.1 1246.5,429.1 1246.2,427.1 1245.8,425.2 1245.5,423.2 1245.2,421.2 1244.8,419.2 1244.5,417.2 1244.2,415.2 1243.9,413.2 1243.6,411.2 1243.3,409.2 1243.0,407.2 1242.7,405.3 1242.4,403.3 1242.1,401.3 1241.8,399.3 1241.5,397.3 1241.2,395.3 1240.9,393.3 1240.6,391.3 1240.3,389.3 1240.0,387.3 1239.7,385.4 1239.4,383.4 1239.1,381.4 1238.8,379.4 1238.5,377.4 1238.2,375.4 1237.9,373.4 1237.6,371.4 1237.3,369.4 1237.0,367.4 1236.7,365.5 1236.4,363.5 1236.1,361.5 1235.8,359.5 1235.5,357.5 1235.2,355.5 1234.9,353.5 1234.6,351.5 1234.3,349.5 1234.0,347.6 1233.7,345.6 1233.4,343.6 1233.1,341.6 1232.8,339.6 1232.5,337.6 1232.2,335.6 1231.9,333.6 1231.6,331.6 1231.3,329.6 1231.0,327.6 1230.7,325.7 1230.4,323.7 1230.1,321.7 1229.8,319.7 1229.5,317.7 1228.8,315.7 1228.2,313.7 1227.5,311.7 1226.9,309.7 1226.2,307.8 1225.5,305.8 1224.9,303.8 1224.2,301.8 1223.6,299.8 1222.9,297.8 1222.3,295.8 1221.6,293.8 1221.0,291.8 1220.4,289.8 1219.8,287.8 1219.1,285.9 1218.5,283.9 1217.9,281.9 1217.2,279.9 1216.6,277.9 1216.0,275.9 1215.4,273.9 1214.7,271.9 1214.1,269.9 1213.5,267.9 1213.2,266.0 1212.9,264.0 1212.6,262.0 1212.3,260.0 1212.0,258.0 1211.7,256.0 1211.4,254.0 1211.2,252.0 1210.9,250.0 1210.6,248.0 1210.3,246.1 1210.0,244.1 1209.7,242.1 1209.4,240.1 1209.1,238.1 1208.8,236.1 1208.6,234.1 1208.3,232.1 1208.0,230.1 1207.7,228.1 1207.4,226.2 1207.1,224.2 1206.8,222.2 1206.5,220.2 1206.2,218.2 1205.7,216.2 1205.1,214.2 1204.5,212.2 1203.9,210.2 1203.3,208.2 1202.7,206.3 1202.1,204.3 1201.5,202.3 1200.9,200.3 1200.3,198.3 1199.4,196.3 1198.5,194.3 1197.6,192.3 1196.7,190.3 1195.8,188.3 1194.9,186.4 1194.0,184.4 1193.1,182.4 1192.2,180.4 1191.3,178.4 1190.3,176.4 1189.2,174.4 1188.2,172.4 1187.1,170.4 1186.1,168.4 1185.0,166.5 1184.0,164.5 1182.9,162.5 1181.9,160.5 1180.8,158.5 1179.6,156.5 1178.5,154.5 1177.3,152.5 1176.1,150.5 1174.9,148.5 1173.8,146.6 1172.6,144.6 1171.4,142.6 1170.2,140.6 1169.0,138.6 1167.9,136.6 1166.8,134.6 1165.7,132.6 1164.6,130.6 1163.5,128.7 1162.3,126.7 1161.2,124.7 1160.1,122.7 1159.0,120.7 1157.9,118.7 1156.0,116.7 1154.2,114.7 1152.4,112.7 1149.9,110.7 1147.4,108.8 1145.2,106.8 1143.1,104.8 1140.9,102.8 1138.7,100.8 1136.6,98.8 1134.4,96.8 1132.5,94.8 1130.5,92.8 1128.6,90.8 1126.6,88.9 1124.7,86.9 1122.7,84.9 1122.0,82.9 1121.2,80.9 1120.4,78.9 1119.6,76.9 1118.8,74.9 1118.0,72.9 1117.2,70.9 1116.4,69.0 1115.4,67.0 1114.4,65.0 1113.4,63.0 1112.4,61.0 1111.6,59.0 1110.7,57.0 1109.9,55.0 1109.0,53.0 1108.2,51.0 1107.3,49.0 1106.5,47.1 1105.6,45.1 1104.8,43.1 1104.0,41.1 1103.1,39.1 1102.3,37.1 1101.5,35.1 1100.9,33.1 1100.3,31.1 1099.7,29.1 1099.4,27.2 1099.0,25.2 1098.7,23.2 1098.3,21.2 1098.0,19.2" fill="#ff0000" stroke="#ff0000" stroke-width="4" stroke-linejoin="round"/>
<g fill="#ff0000"><circle cx="1096.5" cy="19.2" r="5.8"/><circle cx="1097.2" cy="23.2" r="5.8"/><circle cx="1097.9" cy="27.2" r="5.8"/><circle cx="1098.8" cy="31.1" r="5.8"/><circle cx="1100.0" cy="35.1" r="5.8"/><circle cx="1101.7" cy="39.1" r="5.8"/><circle cx="1103.3" cy="43.1" r="5.8"/><circle cx="1105.9" cy="49.0" r="5.8"/><circle cx="1110.1" cy="59.0" r="5.8"/><circle cx="1115.0" cy="69.0" r="5.8"/><circle cx="1119.0" cy="78.9" r="5.8"/><circle cx="1125.2" cy="88.9" r="5.8"/><circle cx="1135.2" cy="98.8" r="5.8"/><circle cx="1146.0" cy="108.8" r="5.8"/><circle cx="1156.5" cy="118.7" r="5.8"/><circle cx="1167.7" cy="138.6" r="5.8"/><circle cx="1179.5" cy="158.5" r="5.8"/><circle cx="1190.0" cy="178.4" r="5.8"/><circle cx="1199.0" cy="198.3" r="5.8"/><circle cx="1205.0" cy="218.2" r="5.8"/><circle cx="1213.0" cy="267.9" r="5.8"/><circle cx="1229.5" cy="317.7" r="5.8"/><circle cx="1244.5" cy="417.2" r="5.8"/><circle cx="1261.0" cy="516.7" r="5.8"/><circle cx="1275.0" cy="616.2" r="5.8"/><circle cx="1288.5" cy="715.7" r="5.8"/><circle cx="1302.5" cy="815.2" r="5.8"/></g>
<polyline points="1093.0,21.2 1098.0,31.1 1108.0,41.1 1120.0,51.0 1135.0,61.0 1151.0,70.9 1167.1,80.9 1178.9,90.8 1184.2,100.8 1187.2,110.7 1191.5,120.7 1194.8,130.6 1197.7,140.6 1200.7,150.5 1203.6,160.5 1205.4,170.4 1207.7,180.4 1209.5,190.3 1211.8,200.3 1213.6,210.2 1216.0,220.2 1217.6,230.1 1219.2,240.1 1221.0,250.0 1222.8,260.0 1224.6,269.9 1226.3,279.9 1227.7,289.8 1229.1,299.8 1230.5,309.7 1231.8,319.7 1233.1,329.6 1234.3,339.6 1235.6,349.5 1237.1,359.5 1238.5,369.4 1239.6,379.4 1240.7,389.3 1241.7,399.3 1242.8,409.2 1244.2,419.2 1245.5,429.1 1246.9,439.1 1248.2,449.0 1249.6,459.0 1251.0,468.9 1252.3,478.9 1253.7,488.8 1255.0,498.8 1256.4,508.7 1257.8,518.7 1259.2,528.6 1260.6,538.6 1262.0,548.5 1263.4,558.5 1264.8,568.4 1266.2,578.4 1267.6,588.3 1269.0,598.3 1270.4,608.2 1271.7,618.2 1272.7,628.1 1273.8,638.1 1274.8,648.0 1276.1,658.0 1277.4,667.9 1278.8,677.9 1280.1,687.8 1281.4,697.8 1282.8,707.7 1284.2,717.7 1285.6,727.6 1287.1,737.6 1288.5,747.5 1289.9,757.5 1291.4,767.4 1292.9,777.4 1294.5,787.3 1296.0,797.3 1297.5,807.2" fill="none" stroke="#0000ff" stroke-width="2.4" stroke-linejoin="round"/>
<g fill="#0000ff"><circle cx="1093.0" cy="21.2" r="5.8"/><circle cx="1098.0" cy="31.1" r="5.8"/><circle cx="1108.0" cy="41.1" r="5.8"/><circle cx="1120.0" cy="51.0" r="5.8"/><circle cx="1135.0" cy="61.0" r="5.8"/><circle cx="1151.0" cy="70.9" r="5.8"/><circle cx="1167.1" cy="80.9" r="5.8"/><circle cx="1178.9" cy="90.8" r="5.8"/><circle cx="1184.2" cy="100.8" r="5.8"/><circle cx="1187.2" cy="110.7" r="5.8"/><circle cx="1191.5" cy="120.7" r="5.8"/><circle cx="1194.8" cy="130.6" r="5.8"/><circle cx="1197.7" cy="140.6" r="5.8"/><circle cx="1200.7" cy="150.5" r="5.8"/><circle cx="1203.6" cy="160.5" r="5.8"/><circle cx="1205.4" cy="170.4" r="5.8"/><circle cx="1207.7" cy="180.4" r="5.8"/><circle cx="1209.5" cy="190.3" r="5.8"/><circle cx="1211.8" cy="200.3" r="5.8"/><circle cx="1213.6" cy="210.2" r="5.8"/><circle cx="1216.0" cy="220.2" r="5.8"/><circle cx="1217.6" cy="230.1" r="5.8"/><circle cx="1219.2" cy="240.1" r="5.8"/><circle cx="1221.0" cy="250.0" r="5.8"/><circle cx="1222.8" cy="260.0" r="5.8"/><circle cx="1224.6" cy="269.9" r="5.8"/><circle cx="1226.3" cy="279.9" r="5.8"/><circle cx="1227.7" cy="289.8" r="5.8"/><circle cx="1229.1" cy="299.8" r="5.8"/><circle cx="1230.5" cy="309.7" r="5.8"/><circle cx="1231.8" cy="319.7" r="5.8"/><circle cx="1233.1" cy="329.6" r="5.8"/><circle cx="1234.3" cy="339.6" r="5.8"/><circle cx="1235.6" cy="349.5" r="5.8"/><circle cx="1237.1" cy="359.5" r="5.8"/><circle cx="1238.5" cy="369.4" r="5.8"/><circle cx="1239.6" cy="379.4" r="5.8"/><circle cx="1240.7" cy="389.3" r="5.8"/><circle cx="1241.7" cy="399.3" r="5.8"/><circle cx="1242.8" cy="409.2" r="5.8"/><circle cx="1244.2" cy="419.2" r="5.8"/><circle cx="1245.5" cy="429.1" r="5.8"/><circle cx="1246.9" cy="439.1" r="5.8"/><circle cx="1248.2" cy="449.0" r="5.8"/><circle cx="1249.6" cy="459.0" r="5.8"/><circle cx="1251.0" cy="468.9" r="5.8"/><circle cx="1252.3" cy="478.9" r="5.8"/><circle cx="1253.7" cy="488.8" r="5.8"/><circle cx="1255.0" cy="498.8" r="5.8"/><circle cx="1256.4" cy="508.7" r="5.8"/><circle cx="1257.8" cy="518.7" r="5.8"/><circle cx="1259.2" cy="528.6" r="5.8"/><circle cx="1260.6" cy="538.6" r="5.8"/><circle cx="1262.0" cy="548.5" r="5.8"/><circle cx="1263.4" cy="558.5" r="5.8"/><circle cx="1264.8" cy="568.4" r="5.8"/><circle cx="1266.2" cy="578.4" r="5.8"/><circle cx="1267.6" cy="588.3" r="5.8"/><circle cx="1269.0" cy="598.3" r="5.8"/><circle cx="1270.4" cy="608.2" r="5.8"/><circle cx="1271.7" cy="618.2" r="5.8"/><circle cx="1272.7" cy="628.1" r="5.8"/><circle cx="1273.8" cy="638.1" r="5.8"/><circle cx="1274.8" cy="648.0" r="5.8"/><circle cx="1276.1" cy="658.0" r="5.8"/><circle cx="1277.4" cy="667.9" r="5.8"/><circle cx="1278.8" cy="677.9" r="5.8"/><circle cx="1280.1" cy="687.8" r="5.8"/><circle cx="1281.4" cy="697.8" r="5.8"/><circle cx="1282.8" cy="707.7" r="5.8"/><circle cx="1284.2" cy="717.7" r="5.8"/><circle cx="1285.6" cy="727.6" r="5.8"/><circle cx="1287.1" cy="737.6" r="5.8"/><circle cx="1288.5" cy="747.5" r="5.8"/><circle cx="1289.9" cy="757.5" r="5.8"/><circle cx="1291.4" cy="767.4" r="5.8"/><circle cx="1292.9" cy="777.4" r="5.8"/><circle cx="1294.5" cy="787.3" r="5.8"/><circle cx="1296.0" cy="797.3" r="5.8"/><circle cx="1297.5" cy="807.2" r="5.8"/></g>
<polyline points="1093.0,19.2 1094.5,23.2 1096.0,27.2 1099.0,31.1 1102.0,35.1 1106.0,39.1 1110.0,43.1 1115.0,49.0 1124.0,59.0 1138.3,69.0 1151.2,78.9 1162.4,88.9 1169.5,98.8 1175.4,108.8 1179.5,118.7 1187.7,138.6 1193.6,158.5 1200.7,178.4 1206.5,198.3 1210.5,218.2 1220.3,267.9 1228.2,317.7 1242.6,417.2 1258.8,516.7 1272.6,616.2 1286.4,715.7 1298.3,815.2" fill="none" stroke="#008000" stroke-width="2.4" stroke-linejoin="round"/>
<g fill="#008000"><circle cx="1093.0" cy="19.2" r="5.8"/><circle cx="1094.5" cy="23.2" r="5.8"/><circle cx="1096.0" cy="27.2" r="5.8"/><circle cx="1099.0" cy="31.1" r="5.8"/><circle cx="1102.0" cy="35.1" r="5.8"/><circle cx="1106.0" cy="39.1" r="5.8"/><circle cx="1110.0" cy="43.1" r="5.8"/><circle cx="1115.0" cy="49.0" r="5.8"/><circle cx="1124.0" cy="59.0" r="5.8"/><circle cx="1138.3" cy="69.0" r="5.8"/><circle cx="1151.2" cy="78.9" r="5.8"/><circle cx="1162.4" cy="88.9" r="5.8"/><circle cx="1169.5" cy="98.8" r="5.8"/><circle cx="1175.4" cy="108.8" r="5.8"/><circle cx="1179.5" cy="118.7" r="5.8"/><circle cx="1187.7" cy="138.6" r="5.8"/><circle cx="1193.6" cy="158.5" r="5.8"/><circle cx="1200.7" cy="178.4" r="5.8"/><circle cx="1206.5" cy="198.3" r="5.8"/><circle cx="1210.5" cy="218.2" r="5.8"/><circle cx="1220.3" cy="267.9" r="5.8"/><circle cx="1228.2" cy="317.7" r="5.8"/><circle cx="1242.6" cy="417.2" r="5.8"/><circle cx="1258.8" cy="516.7" r="5.8"/><circle cx="1272.6" cy="616.2" r="5.8"/><circle cx="1286.4" cy="715.7" r="5.8"/><circle cx="1298.3" cy="815.2" r="5.8"/></g>
<polyline points="1106.0,20.2 1107.0,22.3 1108.0,24.5 1110.0,26.8 1113.0,29.3 1116.0,32.0 1119.0,35.0 1122.0,38.2 1125.0,41.9 1127.0,46.0 1128.5,50.7 1129.5,56.0 1131.0,62.2 1133.0,69.4 1134.5,77.8 1136.5,87.7 1141.2,99.5 1149.5,113.5 1158.3,130.2 1169.4,150.2 1181.2,174.1 1193.6,202.9 1205.7,237.6 1217.0,279.2 1229.3,329.3 1239.4,389.6 1250.2,461.9 1262.6,548.6 1277.0,652.3 1296.1,775.8 1318.8,922.5" fill="none" stroke="#ff00ff" stroke-width="2.4" stroke-linejoin="round"/>
<g fill="#ff00ff"><circle cx="1106.0" cy="20.2" r="5.8"/><circle cx="1107.0" cy="22.3" r="5.8"/><circle cx="1108.0" cy="24.5" r="5.8"/><circle cx="1110.0" cy="26.8" r="5.8"/><circle cx="1113.0" cy="29.3" r="5.8"/><circle cx="1116.0" cy="32.0" r="5.8"/><circle cx="1119.0" cy="35.0" r="5.8"/><circle cx="1122.0" cy="38.2" r="5.8"/><circle cx="1125.0" cy="41.9" r="5.8"/><circle cx="1127.0" cy="46.0" r="5.8"/><circle cx="1128.5" cy="50.7" r="5.8"/><circle cx="1129.5" cy="56.0" r="5.8"/><circle cx="1131.0" cy="62.2" r="5.8"/><circle cx="1133.0" cy="69.4" r="5.8"/><circle cx="1134.5" cy="77.8" r="5.8"/><circle cx="1136.5" cy="87.7" r="5.8"/><circle cx="1141.2" cy="99.5" r="5.8"/><circle cx="1149.5" cy="113.5" r="5.8"/><circle cx="1158.3" cy="130.2" r="5.8"/><circle cx="1169.4" cy="150.2" r="5.8"/><circle cx="1181.2" cy="174.1" r="5.8"/><circle cx="1193.6" cy="202.9" r="5.8"/><circle cx="1205.7" cy="237.6" r="5.8"/><circle cx="1217.0" cy="279.2" r="5.8"/><circle cx="1229.3" cy="329.3" r="5.8"/><circle cx="1239.4" cy="389.6" r="5.8"/><circle cx="1250.2" cy="461.9" r="5.8"/><circle cx="1262.6" cy="548.6" r="5.8"/><circle cx="1277.0" cy="652.3" r="5.8"/><circle cx="1296.1" cy="775.8" r="5.8"/><circle cx="1318.8" cy="922.5" r="5.8"/></g>
</g>
<rect x="88.4" y="19.2" width="400.00" height="795.00" fill="none" stroke="#000" stroke-width="1.15"/>
<line x1="128.50" y1="814.2" x2="128.50" y2="820.2" stroke="#000" stroke-width="1.1"/>
<text x="115.32" y="841.80" font-size="17.70" font-weight="normal" font-style="normal" textLength="26.32" lengthAdjust="spacingAndGlyphs" fill="#000">5.0</text>
<line x1="193.60" y1="814.2" x2="193.60" y2="820.2" stroke="#000" stroke-width="1.1"/>
<text x="180.45" y="841.80" font-size="17.70" font-weight="normal" font-style="normal" textLength="26.12" lengthAdjust="spacingAndGlyphs" fill="#000">7.5</text>
<line x1="258.30" y1="814.2" x2="258.30" y2="820.2" stroke="#000" stroke-width="1.1"/>
<text x="239.26" y="841.80" font-size="17.70" font-weight="normal" font-style="normal" textLength="37.39" lengthAdjust="spacingAndGlyphs" fill="#000">10.0</text>
<line x1="323.60" y1="814.2" x2="323.60" y2="820.2" stroke="#000" stroke-width="1.1"/>
<text x="304.74" y="841.80" font-size="17.70" font-weight="normal" font-style="normal" textLength="37.07" lengthAdjust="spacingAndGlyphs" fill="#000">12.5</text>
<line x1="388.40" y1="814.2" x2="388.40" y2="820.2" stroke="#000" stroke-width="1.1"/>
<text x="369.36" y="841.80" font-size="17.70" font-weight="normal" font-style="normal" textLength="37.39" lengthAdjust="spacingAndGlyphs" fill="#000">15.0</text>
<line x1="453.40" y1="814.2" x2="453.40" y2="820.2" stroke="#000" stroke-width="1.1"/>
<text x="434.54" y="841.80" font-size="17.70" font-weight="normal" font-style="normal" textLength="37.07" lengthAdjust="spacingAndGlyphs" fill="#000">17.5</text>
<line x1="82.4" y1="19.20" x2="88.4" y2="19.20" stroke="#000" stroke-width="1.1"/>
<text x="64.90" y="26.60" font-size="17.70" font-weight="normal" font-style="normal" textLength="10.10" lengthAdjust="spacingAndGlyphs" fill="#000">0</text>
<line x1="82.4" y1="68.40" x2="88.4" y2="68.40" stroke="#000" stroke-width="1.1"/>
<text x="54.22" y="75.80" font-size="17.70" font-weight="normal" font-style="normal" textLength="20.88" lengthAdjust="spacingAndGlyphs" fill="#000">25</text>
<line x1="82.4" y1="118.45" x2="88.4" y2="118.45" stroke="#000" stroke-width="1.1"/>
<text x="54.15" y="125.85" font-size="17.70" font-weight="normal" font-style="normal" textLength="20.90" lengthAdjust="spacingAndGlyphs" fill="#000">50</text>
<line x1="82.4" y1="168.30" x2="88.4" y2="168.30" stroke="#000" stroke-width="1.1"/>
<text x="54.40" y="175.70" font-size="17.70" font-weight="normal" font-style="normal" textLength="20.69" lengthAdjust="spacingAndGlyphs" fill="#000">75</text>
<line x1="82.4" y1="217.35" x2="88.4" y2="217.35" stroke="#000" stroke-width="1.1"/>
<text x="43.12" y="224.75" font-size="17.70" font-weight="normal" font-style="normal" textLength="31.92" lengthAdjust="spacingAndGlyphs" fill="#000">100</text>
<line x1="82.4" y1="267.45" x2="88.4" y2="267.45" stroke="#000" stroke-width="1.1"/>
<text x="43.48" y="274.85" font-size="17.70" font-weight="normal" font-style="normal" textLength="31.60" lengthAdjust="spacingAndGlyphs" fill="#000">125</text>
<line x1="82.4" y1="317.40" x2="88.4" y2="317.40" stroke="#000" stroke-width="1.1"/>
<text x="43.12" y="324.80" font-size="17.70" font-weight="normal" font-style="normal" textLength="31.92" lengthAdjust="spacingAndGlyphs" fill="#000">150</text>
<line x1="82.4" y1="367.40" x2="88.4" y2="367.40" stroke="#000" stroke-width="1.1"/>
<text x="43.48" y="374.80" font-size="17.70" font-weight="normal" font-style="normal" textLength="31.60" lengthAdjust="spacingAndGlyphs" fill="#000">175</text>
<line x1="82.4" y1="416.50" x2="88.4" y2="416.50" stroke="#000" stroke-width="1.1"/>
<text x="42.95" y="423.90" font-size="17.70" font-weight="normal" font-style="normal" textLength="32.09" lengthAdjust="spacingAndGlyphs" fill="#000">200</text>
<line x1="82.4" y1="466.50" x2="88.4" y2="466.50" stroke="#000" stroke-width="1.1"/>
<text x="43.30" y="473.90" font-size="17.70" font-weight="normal" font-style="normal" textLength="31.78" lengthAdjust="spacingAndGlyphs" fill="#000">225</text>
<line x1="82.4" y1="516.50" x2="88.4" y2="516.50" stroke="#000" stroke-width="1.1"/>
<text x="42.95" y="523.90" font-size="17.70" font-weight="normal" font-style="normal" textLength="32.09" lengthAdjust="spacingAndGlyphs" fill="#000">250</text>
<line x1="82.4" y1="566.40" x2="88.4" y2="566.40" stroke="#000" stroke-width="1.1"/>
<text x="43.30" y="573.80" font-size="17.70" font-weight="normal" font-style="normal" textLength="31.78" lengthAdjust="spacingAndGlyphs" fill="#000">275</text>
<line x1="82.4" y1="615.40" x2="88.4" y2="615.40" stroke="#000" stroke-width="1.1"/>
<text x="43.24" y="622.80" font-size="17.70" font-weight="normal" font-style="normal" textLength="31.80" lengthAdjust="spacingAndGlyphs" fill="#000">300</text>
<line x1="82.4" y1="665.40" x2="88.4" y2="665.40" stroke="#000" stroke-width="1.1"/>
<text x="43.59" y="672.80" font-size="17.70" font-weight="normal" font-style="normal" textLength="31.49" lengthAdjust="spacingAndGlyphs" fill="#000">325</text>
<line x1="82.4" y1="715.40" x2="88.4" y2="715.40" stroke="#000" stroke-width="1.1"/>
<text x="43.24" y="722.80" font-size="17.70" font-weight="normal" font-style="normal" textLength="31.80" lengthAdjust="spacingAndGlyphs" fill="#000">350</text>
<line x1="82.4" y1="765.40" x2="88.4" y2="765.40" stroke="#000" stroke-width="1.1"/>
<text x="43.59" y="772.80" font-size="17.70" font-weight="normal" font-style="normal" textLength="31.49" lengthAdjust="spacingAndGlyphs" fill="#000">375</text>
<rect x="580.5" y="19.2" width="400.60" height="795.00" fill="none" stroke="#000" stroke-width="1.15"/>
<line x1="626.45" y1="814.2" x2="626.45" y2="820.2" stroke="#000" stroke-width="1.1"/>
<text x="602.53" y="841.80" font-size="17.70" font-weight="normal" font-style="normal" textLength="47.89" lengthAdjust="spacingAndGlyphs" fill="#000">33.25</text>
<line x1="686.40" y1="814.2" x2="686.40" y2="820.2" stroke="#000" stroke-width="1.1"/>
<text x="662.31" y="841.80" font-size="17.70" font-weight="normal" font-style="normal" textLength="48.19" lengthAdjust="spacingAndGlyphs" fill="#000">33.50</text>
<line x1="745.60" y1="814.2" x2="745.60" y2="820.2" stroke="#000" stroke-width="1.1"/>
<text x="721.68" y="841.80" font-size="17.70" font-weight="normal" font-style="normal" textLength="47.89" lengthAdjust="spacingAndGlyphs" fill="#000">33.75</text>
<line x1="804.45" y1="814.2" x2="804.45" y2="820.2" stroke="#000" stroke-width="1.1"/>
<text x="780.36" y="841.80" font-size="17.70" font-weight="normal" font-style="normal" textLength="48.19" lengthAdjust="spacingAndGlyphs" fill="#000">34.00</text>
<line x1="863.40" y1="814.2" x2="863.40" y2="820.2" stroke="#000" stroke-width="1.1"/>
<text x="839.48" y="841.80" font-size="17.70" font-weight="normal" font-style="normal" textLength="47.89" lengthAdjust="spacingAndGlyphs" fill="#000">34.25</text>
<line x1="922.60" y1="814.2" x2="922.60" y2="820.2" stroke="#000" stroke-width="1.1"/>
<text x="898.51" y="841.80" font-size="17.70" font-weight="normal" font-style="normal" textLength="48.19" lengthAdjust="spacingAndGlyphs" fill="#000">34.50</text>
<line x1="574.5" y1="19.20" x2="580.5" y2="19.20" stroke="#000" stroke-width="1.1"/>
<line x1="574.5" y1="68.40" x2="580.5" y2="68.40" stroke="#000" stroke-width="1.1"/>
<line x1="574.5" y1="118.45" x2="580.5" y2="118.45" stroke="#000" stroke-width="1.1"/>
<line x1="574.5" y1="168.30" x2="580.5" y2="168.30" stroke="#000" stroke-width="1.1"/>
<line x1="574.5" y1="217.35" x2="580.5" y2="217.35" stroke="#000" stroke-width="1.1"/>
<line x1="574.5" y1="267.45" x2="580.5" y2="267.45" stroke="#000" stroke-width="1.1"/>
<line x1="574.5" y1="317.40" x2="580.5" y2="317.40" stroke="#000" stroke-width="1.1"/>
<line x1="574.5" y1="367.40" x2="580.5" y2="367.40" stroke="#000" stroke-width="1.1"/>
<line x1="574.5" y1="416.50" x2="580.5" y2="416.50" stroke="#000" stroke-width="1.1"/>
<line x1="574.5" y1="466.50" x2="580.5" y2="466.50" stroke="#000" stroke-width="1.1"/>
<line x1="574.5" y1="516.50" x2="580.5" y2="516.50" stroke="#000" stroke-width="1.1"/>
<line x1="574.5" y1="566.40" x2="580.5" y2="566.40" stroke="#000" stroke-width="1.1"/>
<line x1="574.5" y1="615.40" x2="580.5" y2="615.40" stroke="#000" stroke-width="1.1"/>
<line x1="574.5" y1="665.40" x2="580.5" y2="665.40" stroke="#000" stroke-width="1.1"/>
<line x1="574.5" y1="715.40" x2="580.5" y2="715.40" stroke="#000" stroke-width="1.1"/>
<line x1="574.5" y1="765.40" x2="580.5" y2="765.40" stroke="#000" stroke-width="1.1"/>
<rect x="1073.4" y="19.2" width="401.00" height="795.00" fill="none" stroke="#000" stroke-width="1.15"/>
<line x1="1088.50" y1="814.2" x2="1088.50" y2="820.2" stroke="#000" stroke-width="1.1"/>
<text transform="translate(1075.93 870.25) rotate(-45)" x="0" y="0" font-size="17.70" textLength="42.88" lengthAdjust="spacingAndGlyphs">1024</text>
<line x1="1178.60" y1="814.2" x2="1178.60" y2="820.2" stroke="#000" stroke-width="1.1"/>
<text transform="translate(1166.07 870.16) rotate(-45)" x="0" y="0" font-size="17.70" textLength="43.05" lengthAdjust="spacingAndGlyphs">1026</text>
<line x1="1268.60" y1="814.2" x2="1268.60" y2="820.2" stroke="#000" stroke-width="1.1"/>
<text transform="translate(1256.11 870.10) rotate(-45)" x="0" y="0" font-size="17.70" textLength="42.96" lengthAdjust="spacingAndGlyphs">1028</text>
<line x1="1359.20" y1="814.2" x2="1359.20" y2="820.2" stroke="#000" stroke-width="1.1"/>
<text transform="translate(1346.69 870.13) rotate(-45)" x="0" y="0" font-size="17.70" textLength="42.90" lengthAdjust="spacingAndGlyphs">1030</text>
<line x1="1449.30" y1="814.2" x2="1449.30" y2="820.2" stroke="#000" stroke-width="1.1"/>
<text transform="translate(1437.00 869.73) rotate(-45)" x="0" y="0" font-size="17.70" textLength="42.57" lengthAdjust="spacingAndGlyphs">1032</text>
<line x1="1067.4" y1="19.20" x2="1073.4" y2="19.20" stroke="#000" stroke-width="1.1"/>
<line x1="1067.4" y1="68.40" x2="1073.4" y2="68.40" stroke="#000" stroke-width="1.1"/>
<line x1="1067.4" y1="118.45" x2="1073.4" y2="118.45" stroke="#000" stroke-width="1.1"/>
<line x1="1067.4" y1="168.30" x2="1073.4" y2="168.30" stroke="#000" stroke-width="1.1"/>
<line x1="1067.4" y1="217.35" x2="1073.4" y2="217.35" stroke="#000" stroke-width="1.1"/>
<line x1="1067.4" y1="267.45" x2="1073.4" y2="267.45" stroke="#000" stroke-width="1.1"/>
<line x1="1067.4" y1="317.40" x2="1073.4" y2="317.40" stroke="#000" stroke-width="1.1"/>
<line x1="1067.4" y1="367.40" x2="1073.4" y2="367.40" stroke="#000" stroke-width="1.1"/>
<line x1="1067.4" y1="416.50" x2="1073.4" y2="416.50" stroke="#000" stroke-width="1.1"/>
<line x1="1067.4" y1="466.50" x2="1073.4" y2="466.50" stroke="#000" stroke-width="1.1"/>
<line x1="1067.4" y1="516.50" x2="1073.4" y2="516.50" stroke="#000" stroke-width="1.1"/>
<line x1="1067.4" y1="566.40" x2="1073.4" y2="566.40" stroke="#000" stroke-width="1.1"/>
<line x1="1067.4" y1="615.40" x2="1073.4" y2="615.40" stroke="#000" stroke-width="1.1"/>
<line x1="1067.4" y1="665.40" x2="1073.4" y2="665.40" stroke="#000" stroke-width="1.1"/>
<line x1="1067.4" y1="715.40" x2="1073.4" y2="715.40" stroke="#000" stroke-width="1.1"/>
<line x1="1067.4" y1="765.40" x2="1073.4" y2="765.40" stroke="#000" stroke-width="1.1"/>
<text x="734.11" y="869.40" font-size="23.60" font-weight="bold" font-style="normal" textLength="93.26" lengthAdjust="spacingAndGlyphs" fill="#000">Salinity</text>
<text x="1166.04" y="895.20" font-size="23.60" font-weight="bold" font-style="normal" textLength="214.12" lengthAdjust="spacingAndGlyphs" fill="#000">Density (kg m-3)</text>
<text x="179.23" y="871.50" font-size="23.60" font-weight="bold" font-style="normal" textLength="178.71" lengthAdjust="spacingAndGlyphs" fill="#000">Temperature (</text>
<text x="362.15" y="862.60" font-size="16.51" font-weight="normal" font-style="italic" textLength="9.49" lengthAdjust="spacingAndGlyphs" fill="#000">o</text>
<text x="372.69" y="871.50" font-size="23.60" font-weight="normal" font-style="italic" textLength="15.89" lengthAdjust="spacingAndGlyphs" fill="#000">C</text>
<text x="389.84" y="871.50" font-size="23.60" font-weight="bold" font-style="normal" textLength="7.49" lengthAdjust="spacingAndGlyphs" fill="#000">)</text>
<g transform="translate(29.7 0) rotate(-90)"><text x="-483.37" y="0.00" font-size="23.60" font-weight="bold" font-style="normal" textLength="129.49" lengthAdjust="spacingAndGlyphs" fill="#000">Depth (m)</text></g>
<text x="1525.02" y="36.80" font-size="23.60" font-weight="bold" font-style="normal" textLength="379.52" lengthAdjust="spacingAndGlyphs" fill="#000">Comparison Date: 2025-08-28</text>
<text x="1525.03" y="89.80" font-size="23.60" font-weight="bold" font-style="normal" textLength="169.64" lengthAdjust="spacingAndGlyphs" fill="#000">Glider: sp058</text>
<text x="1525.25" y="116.30" font-size="23.60" font-weight="bold" font-style="normal" textLength="128.41" lengthAdjust="spacingAndGlyphs" fill="#000">Profiles: 6</text>
<text x="1525.16" y="143.10" font-size="23.60" font-weight="bold" font-style="normal" textLength="339.01" lengthAdjust="spacingAndGlyphs" fill="#000">First: 2025-08-28 02:36:45</text>
<text x="1525.17" y="169.60" font-size="23.60" font-weight="bold" font-style="normal" textLength="335.15" lengthAdjust="spacingAndGlyphs" fill="#000">Last: 2025-08-28 18:08:30</text>
<text x="1525.22" y="196.30" font-size="23.60" font-weight="bold" font-style="normal" textLength="339.71" lengthAdjust="spacingAndGlyphs" fill="#000">Method: Nearest-Neighbor</text>
<text x="423.56" y="918.00" font-size="17.70" font-weight="normal" font-style="italic" textLength="729.42" lengthAdjust="spacingAndGlyphs" fill="#000" xml:space="preserve">Ocean Heat Content (kJ/cm^2) - Glider: N/A,  RTOFS: N/A,  ESPC: N/A,  CMEMS: N/A,</text>
<defs><clipPath id="cpm"><rect x="1595.5" y="258.4" width="340.8" height="315.9"/></clipPath></defs>
<rect x="1595.5" y="258.4" width="340.8" height="315.9" fill="#97b6e1"/>
<g clip-path="url(#cpm)">
<polygon points="1697.2,258.4 1698.7,263.7 1701.6,270.4 1704.5,276.2 1707.3,283.0 1710.2,288.7 1713.1,294.5 1714.6,300.3 1717.0,304.2 1722.8,308.0 1727.6,312.8 1732.4,317.7 1735.3,322.5 1734.6,326.2 1731.5,328.5 1727.0,329.0 1723.2,328.2 1720.8,325.6 1719.6,322.6 1719.2,326.5 1721.8,329.8 1726.6,332.1 1731.4,336.0 1734.8,338.7 1740.6,343.5 1745.4,340.8 1747.3,344.5 1753.1,349.3 1758.0,353.1 1758.9,358.9 1758.0,364.7 1757.0,368.6 1760.8,372.4 1766.6,375.3 1772.4,380.1 1778.2,384.0 1781.1,387.8 1783.0,392.7 1786.9,391.7 1789.8,388.8 1790.2,384.9 1787.8,382.0 1785.9,377.2 1784.0,374.3 1780.0,374.5 1776.8,373.5 1775.3,370.5 1774.3,366.6 1771.4,361.8 1768.6,356.0 1766.6,351.2 1764.7,345.4 1761.8,340.6 1757.5,336.0 1753.6,330.2 1750.7,324.4 1748.8,318.6 1744.9,315.7 1741.1,311.9 1738.2,307.0 1733.4,303.2 1729.5,298.4 1727.6,290.7 1724.7,282.0 1725.7,274.3 1730.5,277.2 1736.3,276.7 1741.1,280.1 1746.9,283.0 1746.9,288.7 1749.8,295.5 1752.7,302.2 1756.5,309.0 1757.5,314.8 1761.3,316.7 1765.2,322.5 1769.0,326.3 1774.8,328.3 1776.5,331.0 1777.2,334.8 1784.0,339.6 1788.8,343.5 1793.6,348.3 1789.8,353.1 1792.7,358.0 1799.4,360.8 1805.2,365.7 1809.0,370.5 1814.8,375.3 1818.7,379.2 1822.5,384.0 1827.3,389.8 1832.2,394.6 1835.1,399.4 1834.9,405.8 1839.3,409.6 1839.8,414.5 1836.4,419.3 1838.3,422.2 1834.5,424.1 1835.4,428.9 1840.2,435.7 1845.1,439.5 1849.9,440.5 1855.7,444.3 1859.5,449.6 1865.3,451.6 1876.9,454.9 1881.7,458.8 1889.4,463.6 1897.1,466.5 1903.9,469.4 1915.4,472.3 1920.2,475.2 1926.0,478.6 1936.3,480.0 1936.3,423.0 1935.5,420.6 1929.2,404.2 1926.4,397.0 1926.4,371.5 1929.2,360.5 1934.6,353.3 1931.0,346.0 1928.3,335.1 1930.1,327.8 1935.5,324.2 1936.3,323.5 1936.3,258.4" fill="#d2b48c" stroke="none"/>
<polygon points="1929.5,359 1931.5,359.5 1930,368 1928,372 1927.2,366" fill="#4a5560"/>
<polyline points="1751.7,258.4 1744.0,258.9 1738.0,261.5 1733.4,262.2 1728.6,261.7 1724.7,266.6 1721.8,270.4 1725.7,274.3" fill="none" stroke="#97b6e1" stroke-width="1.6" stroke-linejoin="round"/>
<polyline points="1784.5,258.6 1790.0,261.0 1795.0,262.5 1800.0,261.0 1802.5,258.4" fill="none" stroke="#97b6e1" stroke-width="1.6" stroke-linejoin="round"/>
<polyline points="1822.0,272.0 1831.1,280.9 1842.0,291.9 1847.5,302.8 1852.7,307.8 1862.1,312.8 1869.1,303.2 1882.0,302.5 1893.0,310.5 1898.3,321.5 1907.5,332.5 1910.5,343.0 1916.7,348.3 1923.7,351.5 1934.6,354.2" fill="none" stroke="#97b6e1" stroke-width="1.6" stroke-linejoin="round"/>
<polyline points="1918.3,258.6 1925.0,265.0 1930.0,272.0 1935.5,278.7" fill="none" stroke="#97b6e1" stroke-width="1.6" stroke-linejoin="round"/>
<polyline points="1837.3,406.7 1845.1,406.3 1851.8,414.5 1860.5,416.4 1868.2,425.5" fill="none" stroke="#97b6e1" stroke-width="1.6" stroke-linejoin="round"/>
<polyline points="1896.4,402.4 1903.7,407.9 1910.6,407.7 1916.4,404.8 1925.5,400.6" fill="none" stroke="#97b6e1" stroke-width="1.6" stroke-linejoin="round"/>
<polyline points="1794.7,258.4 1794.7,281.5" fill="none" stroke="#000" stroke-width="1.4"/>
<polyline points="1822.5,272.2 1865.1,272.2 1865.1,258.4" fill="none" stroke="#000" stroke-width="1.4"/>
<polyline points="1698.7,264.6 1728.6,261.8 1727.1,265.2 1771.0,281.8 1804.2,281.8 1804.7,275.6 1822.0,275.2 1831.1,280.9 1842.0,291.9 1847.5,302.8 1852.7,307.8 1862.1,312.8 1869.1,303.2 1882.0,302.5 1893.0,310.5 1898.3,321.5 1907.5,332.5 1910.5,343.0 1916.7,348.3 1923.7,351.5 1934.6,354.2" fill="none" stroke="#000" stroke-width="1.6" stroke-dasharray="5.5 3.2" stroke-linejoin="round"/>
<polyline points="1697.2,258.4 1698.7,263.7 1701.6,270.4 1704.5,276.2 1707.3,283.0 1710.2,288.7 1713.1,294.5 1714.6,300.3 1717.0,304.2 1722.8,308.0 1727.6,312.8 1732.4,317.7 1735.3,322.5 1734.6,326.2 1731.5,328.5 1727.0,329.0 1723.2,328.2 1720.8,325.6 1719.6,322.6 1719.2,326.5 1721.8,329.8 1726.6,332.1 1731.4,336.0 1734.8,338.7 1740.6,343.5 1745.4,340.8 1747.3,344.5 1753.1,349.3 1758.0,353.1 1758.9,358.9 1758.0,364.7 1757.0,368.6 1760.8,372.4 1766.6,375.3 1772.4,380.1 1778.2,384.0 1781.1,387.8 1783.0,392.7 1786.9,391.7 1789.8,388.8 1790.2,384.9 1787.8,382.0 1785.9,377.2 1784.0,374.3 1780.0,374.5 1776.8,373.5 1775.3,370.5 1774.3,366.6 1771.4,361.8 1768.6,356.0 1766.6,351.2 1764.7,345.4 1761.8,340.6 1757.5,336.0 1753.6,330.2 1750.7,324.4 1748.8,318.6 1744.9,315.7 1741.1,311.9 1738.2,307.0 1733.4,303.2 1729.5,298.4 1727.6,290.7 1724.7,282.0 1725.7,274.3 1730.5,277.2 1736.3,276.7 1741.1,280.1 1746.9,283.0 1746.9,288.7 1749.8,295.5 1752.7,302.2 1756.5,309.0 1757.5,314.8 1761.3,316.7 1765.2,322.5 1769.0,326.3 1774.8,328.3 1776.5,331.0 1777.2,334.8 1784.0,339.6 1788.8,343.5 1793.6,348.3 1789.8,353.1 1792.7,358.0 1799.4,360.8 1805.2,365.7 1809.0,370.5 1814.8,375.3 1818.7,379.2 1822.5,384.0 1827.3,389.8 1832.2,394.6 1835.1,399.4 1834.9,405.8 1839.3,409.6 1839.8,414.5 1836.4,419.3 1838.3,422.2 1834.5,424.1 1835.4,428.9 1840.2,435.7 1845.1,439.5 1849.9,440.5 1855.7,444.3 1859.5,449.6 1865.3,451.6 1876.9,454.9 1881.7,458.8 1889.4,463.6 1897.1,466.5 1903.9,469.4 1915.4,472.3 1920.2,475.2 1926.0,478.6 1936.3,480.0" fill="none" stroke="#000" stroke-width="2.1" stroke-linejoin="round"/>
<polyline points="1936.3,423.0 1935.5,420.6 1929.2,404.2 1926.4,397.0 1926.4,371.5 1929.2,360.5 1934.6,353.3 1931.0,346.0 1928.3,335.1 1930.1,327.8 1935.5,324.2 1936.3,323.5" fill="none" stroke="#000" stroke-width="2.1" stroke-linejoin="round"/>
<polyline points="1935,323 1932,327 1931.5,333 1933,341 1935,350" fill="none" stroke="#000" stroke-width="2.6"/>
<polyline points="1928.5,406 1931,412 1934,418" fill="none" stroke="#000" stroke-width="2.4"/>

<polygon points="1740,304 1743,305 1746.5,311 1746,315 1743,314 1740,308" fill="#000"/>
<polygon points="1754.8,309.5 1757.6,310 1757.6,316 1754.6,315.5" fill="#d2b48c" stroke="#000" stroke-width="1.3"/>
<ellipse cx="1685.7" cy="313" rx="1.5" ry="2.8" fill="#000"/>
<circle cx="1683.9" cy="260.4" r="1.1" fill="#000"/>
<polygon points="1719.5,320.5 1721.6,321 1722,325 1720.2,324.5" fill="#000"/>
<circle cx="1717.5" cy="322.5" r="1" fill="#000"/>
<line x1="1822.2" y1="406.6" x2="1827.8" y2="412.2" stroke="#000" stroke-width="3.4" stroke-linecap="round"/>
<circle cx="1727.3" cy="449.2" r="1.4" fill="#000"/>
<circle cx="1771.7" cy="437.8" r="1.0" fill="#000"/>
<ellipse cx="1770.8" cy="443.3" rx="1.6" ry="1.3" fill="#000"/>
<circle cx="1773.5" cy="357" r="1" fill="#000"/>
<circle cx="1774.5" cy="361.8" r="1" fill="#000"/>
<circle cx="1778.5" cy="370.8" r="1.2" fill="#000"/>
<circle cx="1784.8" cy="374.5" r="1.1" fill="#000"/>
<circle cx="1831.3" cy="405.2" r="0.9" fill="none" stroke="#555" stroke-width="0.6"/>
<circle cx="1715" cy="366.8" r="0.8" fill="none" stroke="#667" stroke-width="0.6"/>
<circle cx="1792.4" cy="547.1" r="0.8" fill="none" stroke="#667" stroke-width="0.6"/>
<circle cx="1742.4" cy="345" r="0.8" fill="none" stroke="#667" stroke-width="0.6"/>

</g>
<line x1="1595.5" y1="258.4" x2="1697.2" y2="258.4" stroke="#000" stroke-width="1.3"/>
<line x1="1697.2" y1="258.4" x2="1936.3" y2="258.4" stroke="#c8c8c8" stroke-width="0.8"/>
<line x1="1595.5" y1="257.79999999999995" x2="1595.5" y2="574.9" stroke="#000" stroke-width="1.5"/>
<line x1="1595.5" y1="574.3" x2="1936.3" y2="574.3" stroke="#000" stroke-width="1.5"/>
<line x1="1936.3" y1="257.79999999999995" x2="1936.3" y2="574.9" stroke="#000" stroke-width="1.5"/>
<line x1="1595.50" y1="574.3" x2="1595.50" y2="583.0999999999999" stroke="#000" stroke-width="2.9"/>
<line x1="1595.50" y1="258.4" x2="1595.50" y2="249.59999999999997" stroke="#000" stroke-width="2.9"/>
<line x1="1607.25" y1="574.3" x2="1607.25" y2="577.6999999999999" stroke="#000" stroke-width="1.9"/>
<line x1="1607.25" y1="258.4" x2="1607.25" y2="254.99999999999997" stroke="#000" stroke-width="1.9"/>
<line x1="1619.00" y1="574.3" x2="1619.00" y2="577.6999999999999" stroke="#000" stroke-width="1.9"/>
<line x1="1619.00" y1="258.4" x2="1619.00" y2="254.99999999999997" stroke="#000" stroke-width="1.9"/>
<line x1="1630.76" y1="574.3" x2="1630.76" y2="583.0999999999999" stroke="#000" stroke-width="2.9"/>
<line x1="1630.76" y1="258.4" x2="1630.76" y2="249.59999999999997" stroke="#000" stroke-width="2.9"/>
<line x1="1642.51" y1="574.3" x2="1642.51" y2="577.6999999999999" stroke="#000" stroke-width="1.9"/>
<line x1="1642.51" y1="258.4" x2="1642.51" y2="254.99999999999997" stroke="#000" stroke-width="1.9"/>
<line x1="1654.26" y1="574.3" x2="1654.26" y2="577.6999999999999" stroke="#000" stroke-width="1.9"/>
<line x1="1654.26" y1="258.4" x2="1654.26" y2="254.99999999999997" stroke="#000" stroke-width="1.9"/>
<line x1="1666.01" y1="574.3" x2="1666.01" y2="583.0999999999999" stroke="#000" stroke-width="2.9"/>
<line x1="1666.01" y1="258.4" x2="1666.01" y2="249.59999999999997" stroke="#000" stroke-width="2.9"/>
<line x1="1677.76" y1="574.3" x2="1677.76" y2="577.6999999999999" stroke="#000" stroke-width="1.9"/>
<line x1="1677.76" y1="258.4" x2="1677.76" y2="254.99999999999997" stroke="#000" stroke-width="1.9"/>
<line x1="1689.51" y1="574.3" x2="1689.51" y2="577.6999999999999" stroke="#000" stroke-width="1.9"/>
<line x1="1689.51" y1="258.4" x2="1689.51" y2="254.99999999999997" stroke="#000" stroke-width="1.9"/>
<line x1="1701.27" y1="574.3" x2="1701.27" y2="583.0999999999999" stroke="#000" stroke-width="2.9"/>
<line x1="1701.27" y1="258.4" x2="1701.27" y2="249.59999999999997" stroke="#000" stroke-width="2.9"/>
<line x1="1713.02" y1="574.3" x2="1713.02" y2="577.6999999999999" stroke="#000" stroke-width="1.9"/>
<line x1="1713.02" y1="258.4" x2="1713.02" y2="254.99999999999997" stroke="#000" stroke-width="1.9"/>
<line x1="1724.77" y1="574.3" x2="1724.77" y2="577.6999999999999" stroke="#000" stroke-width="1.9"/>
<line x1="1724.77" y1="258.4" x2="1724.77" y2="254.99999999999997" stroke="#000" stroke-width="1.9"/>
<line x1="1736.52" y1="574.3" x2="1736.52" y2="583.0999999999999" stroke="#000" stroke-width="2.9"/>
<line x1="1736.52" y1="258.4" x2="1736.52" y2="249.59999999999997" stroke="#000" stroke-width="2.9"/>
<line x1="1748.27" y1="574.3" x2="1748.27" y2="577.6999999999999" stroke="#000" stroke-width="1.9"/>
<line x1="1748.27" y1="258.4" x2="1748.27" y2="254.99999999999997" stroke="#000" stroke-width="1.9"/>
<line x1="1760.02" y1="574.3" x2="1760.02" y2="577.6999999999999" stroke="#000" stroke-width="1.9"/>
<line x1="1760.02" y1="258.4" x2="1760.02" y2="254.99999999999997" stroke="#000" stroke-width="1.9"/>
<line x1="1771.78" y1="574.3" x2="1771.78" y2="583.0999999999999" stroke="#000" stroke-width="2.9"/>
<line x1="1771.78" y1="258.4" x2="1771.78" y2="249.59999999999997" stroke="#000" stroke-width="2.9"/>
<line x1="1783.53" y1="574.3" x2="1783.53" y2="577.6999999999999" stroke="#000" stroke-width="1.9"/>
<line x1="1783.53" y1="258.4" x2="1783.53" y2="254.99999999999997" stroke="#000" stroke-width="1.9"/>
<line x1="1795.28" y1="574.3" x2="1795.28" y2="577.6999999999999" stroke="#000" stroke-width="1.9"/>
<line x1="1795.28" y1="258.4" x2="1795.28" y2="254.99999999999997" stroke="#000" stroke-width="1.9"/>
<line x1="1807.03" y1="574.3" x2="1807.03" y2="583.0999999999999" stroke="#000" stroke-width="2.9"/>
<line x1="1807.03" y1="258.4" x2="1807.03" y2="249.59999999999997" stroke="#000" stroke-width="2.9"/>
<line x1="1818.78" y1="574.3" x2="1818.78" y2="577.6999999999999" stroke="#000" stroke-width="1.9"/>
<line x1="1818.78" y1="258.4" x2="1818.78" y2="254.99999999999997" stroke="#000" stroke-width="1.9"/>
<line x1="1830.53" y1="574.3" x2="1830.53" y2="577.6999999999999" stroke="#000" stroke-width="1.9"/>
<line x1="1830.53" y1="258.4" x2="1830.53" y2="254.99999999999997" stroke="#000" stroke-width="1.9"/>
<line x1="1842.29" y1="574.3" x2="1842.29" y2="583.0999999999999" stroke="#000" stroke-width="2.9"/>
<line x1="1842.29" y1="258.4" x2="1842.29" y2="249.59999999999997" stroke="#000" stroke-width="2.9"/>
<line x1="1854.04" y1="574.3" x2="1854.04" y2="577.6999999999999" stroke="#000" stroke-width="1.9"/>
<line x1="1854.04" y1="258.4" x2="1854.04" y2="254.99999999999997" stroke="#000" stroke-width="1.9"/>
<line x1="1865.79" y1="574.3" x2="1865.79" y2="577.6999999999999" stroke="#000" stroke-width="1.9"/>
<line x1="1865.79" y1="258.4" x2="1865.79" y2="254.99999999999997" stroke="#000" stroke-width="1.9"/>
<line x1="1877.54" y1="574.3" x2="1877.54" y2="583.0999999999999" stroke="#000" stroke-width="2.9"/>
<line x1="1877.54" y1="258.4" x2="1877.54" y2="249.59999999999997" stroke="#000" stroke-width="2.9"/>
<line x1="1889.29" y1="574.3" x2="1889.29" y2="577.6999999999999" stroke="#000" stroke-width="1.9"/>
<line x1="1889.29" y1="258.4" x2="1889.29" y2="254.99999999999997" stroke="#000" stroke-width="1.9"/>
<line x1="1901.04" y1="574.3" x2="1901.04" y2="577.6999999999999" stroke="#000" stroke-width="1.9"/>
<line x1="1901.04" y1="258.4" x2="1901.04" y2="254.99999999999997" stroke="#000" stroke-width="1.9"/>
<line x1="1912.80" y1="574.3" x2="1912.80" y2="583.0999999999999" stroke="#000" stroke-width="2.9"/>
<line x1="1912.80" y1="258.4" x2="1912.80" y2="249.59999999999997" stroke="#000" stroke-width="2.9"/>
<line x1="1924.55" y1="574.3" x2="1924.55" y2="577.6999999999999" stroke="#000" stroke-width="1.9"/>
<line x1="1924.55" y1="258.4" x2="1924.55" y2="254.99999999999997" stroke="#000" stroke-width="1.9"/>
<line x1="1936.30" y1="574.3" x2="1936.30" y2="577.6999999999999" stroke="#000" stroke-width="1.9"/>
<line x1="1936.30" y1="258.4" x2="1936.30" y2="254.99999999999997" stroke="#000" stroke-width="1.9"/>
<line x1="1595.5" y1="574.30" x2="1592.1" y2="574.30" stroke="#000" stroke-width="1.9"/>
<line x1="1936.3" y1="574.30" x2="1939.7" y2="574.30" stroke="#000" stroke-width="1.9"/>
<line x1="1595.5" y1="562.45" x2="1586.7" y2="562.45" stroke="#000" stroke-width="2.9"/>
<line x1="1936.3" y1="562.45" x2="1945.1" y2="562.45" stroke="#000" stroke-width="2.9"/>
<line x1="1595.5" y1="550.58" x2="1592.1" y2="550.58" stroke="#000" stroke-width="1.9"/>
<line x1="1936.3" y1="550.58" x2="1939.7" y2="550.58" stroke="#000" stroke-width="1.9"/>
<line x1="1595.5" y1="538.66" x2="1592.1" y2="538.66" stroke="#000" stroke-width="1.9"/>
<line x1="1936.3" y1="538.66" x2="1939.7" y2="538.66" stroke="#000" stroke-width="1.9"/>
<line x1="1595.5" y1="526.71" x2="1586.7" y2="526.71" stroke="#000" stroke-width="2.9"/>
<line x1="1936.3" y1="526.71" x2="1945.1" y2="526.71" stroke="#000" stroke-width="2.9"/>
<line x1="1595.5" y1="514.71" x2="1592.1" y2="514.71" stroke="#000" stroke-width="1.9"/>
<line x1="1936.3" y1="514.71" x2="1939.7" y2="514.71" stroke="#000" stroke-width="1.9"/>
<line x1="1595.5" y1="502.66" x2="1592.1" y2="502.66" stroke="#000" stroke-width="1.9"/>
<line x1="1936.3" y1="502.66" x2="1939.7" y2="502.66" stroke="#000" stroke-width="1.9"/>
<line x1="1595.5" y1="490.56" x2="1586.7" y2="490.56" stroke="#000" stroke-width="2.9"/>
<line x1="1936.3" y1="490.56" x2="1945.1" y2="490.56" stroke="#000" stroke-width="2.9"/>
<line x1="1595.5" y1="478.40" x2="1592.1" y2="478.40" stroke="#000" stroke-width="1.9"/>
<line x1="1936.3" y1="478.40" x2="1939.7" y2="478.40" stroke="#000" stroke-width="1.9"/>
<line x1="1595.5" y1="466.19" x2="1592.1" y2="466.19" stroke="#000" stroke-width="1.9"/>
<line x1="1936.3" y1="466.19" x2="1939.7" y2="466.19" stroke="#000" stroke-width="1.9"/>
<line x1="1595.5" y1="453.90" x2="1586.7" y2="453.90" stroke="#000" stroke-width="2.9"/>
<line x1="1936.3" y1="453.90" x2="1945.1" y2="453.90" stroke="#000" stroke-width="2.9"/>
<line x1="1595.5" y1="441.55" x2="1592.1" y2="441.55" stroke="#000" stroke-width="1.9"/>
<line x1="1936.3" y1="441.55" x2="1939.7" y2="441.55" stroke="#000" stroke-width="1.9"/>
<line x1="1595.5" y1="429.12" x2="1592.1" y2="429.12" stroke="#000" stroke-width="1.9"/>
<line x1="1936.3" y1="429.12" x2="1939.7" y2="429.12" stroke="#000" stroke-width="1.9"/>
<line x1="1595.5" y1="416.61" x2="1586.7" y2="416.61" stroke="#000" stroke-width="2.9"/>
<line x1="1936.3" y1="416.61" x2="1945.1" y2="416.61" stroke="#000" stroke-width="2.9"/>
<line x1="1595.5" y1="404.02" x2="1592.1" y2="404.02" stroke="#000" stroke-width="1.9"/>
<line x1="1936.3" y1="404.02" x2="1939.7" y2="404.02" stroke="#000" stroke-width="1.9"/>
<line x1="1595.5" y1="391.34" x2="1592.1" y2="391.34" stroke="#000" stroke-width="1.9"/>
<line x1="1936.3" y1="391.34" x2="1939.7" y2="391.34" stroke="#000" stroke-width="1.9"/>
<line x1="1595.5" y1="378.57" x2="1586.7" y2="378.57" stroke="#000" stroke-width="2.9"/>
<line x1="1936.3" y1="378.57" x2="1945.1" y2="378.57" stroke="#000" stroke-width="2.9"/>
<line x1="1595.5" y1="365.69" x2="1592.1" y2="365.69" stroke="#000" stroke-width="1.9"/>
<line x1="1936.3" y1="365.69" x2="1939.7" y2="365.69" stroke="#000" stroke-width="1.9"/>
<line x1="1595.5" y1="352.71" x2="1592.1" y2="352.71" stroke="#000" stroke-width="1.9"/>
<line x1="1936.3" y1="352.71" x2="1939.7" y2="352.71" stroke="#000" stroke-width="1.9"/>
<line x1="1595.5" y1="339.62" x2="1586.7" y2="339.62" stroke="#000" stroke-width="2.9"/>
<line x1="1936.3" y1="339.62" x2="1945.1" y2="339.62" stroke="#000" stroke-width="2.9"/>
<line x1="1595.5" y1="326.42" x2="1592.1" y2="326.42" stroke="#000" stroke-width="1.9"/>
<line x1="1936.3" y1="326.42" x2="1939.7" y2="326.42" stroke="#000" stroke-width="1.9"/>
<line x1="1595.5" y1="313.09" x2="1592.1" y2="313.09" stroke="#000" stroke-width="1.9"/>
<line x1="1936.3" y1="313.09" x2="1939.7" y2="313.09" stroke="#000" stroke-width="1.9"/>
<line x1="1595.5" y1="299.63" x2="1586.7" y2="299.63" stroke="#000" stroke-width="2.9"/>
<line x1="1936.3" y1="299.63" x2="1945.1" y2="299.63" stroke="#000" stroke-width="2.9"/>
<line x1="1595.5" y1="286.03" x2="1592.1" y2="286.03" stroke="#000" stroke-width="1.9"/>
<line x1="1936.3" y1="286.03" x2="1939.7" y2="286.03" stroke="#000" stroke-width="1.9"/>
<line x1="1595.5" y1="272.29" x2="1592.1" y2="272.29" stroke="#000" stroke-width="1.9"/>
<line x1="1936.3" y1="272.29" x2="1939.7" y2="272.29" stroke="#000" stroke-width="1.9"/>
<line x1="1595.5" y1="258.40" x2="1586.7" y2="258.40" stroke="#000" stroke-width="2.9"/>
<line x1="1936.3" y1="258.40" x2="1945.1" y2="258.40" stroke="#000" stroke-width="2.9"/>
<text x="1538.26" y="572.35" font-size="23.60" font-weight="normal" font-style="normal" textLength="41.82" lengthAdjust="spacingAndGlyphs" fill="#000">9°N</text>
<text x="1524.44" y="536.61" font-size="23.60" font-weight="normal" font-style="normal" textLength="55.60" lengthAdjust="spacingAndGlyphs" fill="#000">12°N</text>
<text x="1524.44" y="500.46" font-size="23.60" font-weight="normal" font-style="normal" textLength="55.60" lengthAdjust="spacingAndGlyphs" fill="#000">15°N</text>
<text x="1524.44" y="463.80" font-size="23.60" font-weight="normal" font-style="normal" textLength="55.60" lengthAdjust="spacingAndGlyphs" fill="#000">18°N</text>
<text x="1524.22" y="426.51" font-size="23.60" font-weight="normal" font-style="normal" textLength="55.83" lengthAdjust="spacingAndGlyphs" fill="#000">21°N</text>
<text x="1524.22" y="388.47" font-size="23.60" font-weight="normal" font-style="normal" textLength="55.83" lengthAdjust="spacingAndGlyphs" fill="#000">24°N</text>
<text x="1524.22" y="349.52" font-size="23.60" font-weight="normal" font-style="normal" textLength="55.83" lengthAdjust="spacingAndGlyphs" fill="#000">27°N</text>
<text x="1524.60" y="309.53" font-size="23.60" font-weight="normal" font-style="normal" textLength="55.44" lengthAdjust="spacingAndGlyphs" fill="#000">30°N</text>
<text x="1524.60" y="268.30" font-size="23.60" font-weight="normal" font-style="normal" textLength="55.44" lengthAdjust="spacingAndGlyphs" fill="#000">33°N</text>
<text transform="translate(1571.86 657.99) rotate(-45)" x="0" y="0" font-size="23.60" textLength="74.29" lengthAdjust="spacingAndGlyphs">126°W</text>
<text transform="translate(1607.11 657.99) rotate(-45)" x="0" y="0" font-size="23.60" textLength="74.29" lengthAdjust="spacingAndGlyphs">123°W</text>
<text transform="translate(1642.37 657.99) rotate(-45)" x="0" y="0" font-size="23.60" textLength="74.29" lengthAdjust="spacingAndGlyphs">120°W</text>
<text transform="translate(1677.67 658.02) rotate(-45)" x="0" y="0" font-size="23.60" textLength="74.30" lengthAdjust="spacingAndGlyphs">117°W</text>
<text transform="translate(1712.93 658.02) rotate(-45)" x="0" y="0" font-size="23.60" textLength="74.30" lengthAdjust="spacingAndGlyphs">114°W</text>
<text transform="translate(1748.15 658.06) rotate(-45)" x="0" y="0" font-size="23.60" textLength="74.37" lengthAdjust="spacingAndGlyphs">111°W</text>
<text transform="translate(1783.39 657.99) rotate(-45)" x="0" y="0" font-size="23.60" textLength="74.29" lengthAdjust="spacingAndGlyphs">108°W</text>
<text transform="translate(1818.64 657.99) rotate(-45)" x="0" y="0" font-size="23.60" textLength="74.29" lengthAdjust="spacingAndGlyphs">105°W</text>
<text transform="translate(1853.90 657.99) rotate(-45)" x="0" y="0" font-size="23.60" textLength="74.29" lengthAdjust="spacingAndGlyphs">102°W</text>
<text transform="translate(1894.27 648.24) rotate(-45)" x="0" y="0" font-size="23.60" textLength="60.48" lengthAdjust="spacingAndGlyphs">99°W</text>
<rect x="1682.9" y="662.9" width="165.1" height="143.9" rx="4.2" ry="4.2" fill="#ffffff" fill-opacity="0.8" stroke="#cccccc" stroke-width="1.3"/>
<line x1="1691.2" y1="683.0" x2="1738.9" y2="683.0" stroke="#0000ff" stroke-width="2.5"/>
<circle cx="1715.6" cy="683.0" r="5.9" fill="#0000ff"/>
<text x="1755.81" y="691.80" font-size="23.60" font-weight="normal" font-style="normal" textLength="68.62" lengthAdjust="spacingAndGlyphs" fill="#000">sp058</text>
<line x1="1691.2" y1="717.1" x2="1738.9" y2="717.1" stroke="#ff0000" stroke-width="2.5"/>
<circle cx="1715.6" cy="717.1" r="5.9" fill="#ff0000"/>
<text x="1754.70" y="725.90" font-size="23.60" font-weight="normal" font-style="normal" textLength="73.08" lengthAdjust="spacingAndGlyphs" fill="#000">RTOFS</text>
<line x1="1691.2" y1="751.2" x2="1738.9" y2="751.2" stroke="#008000" stroke-width="2.5"/>
<circle cx="1715.6" cy="751.2" r="5.9" fill="#008000"/>
<text x="1754.72" y="760.00" font-size="23.60" font-weight="normal" font-style="normal" textLength="58.81" lengthAdjust="spacingAndGlyphs" fill="#000">ESPC</text>
<line x1="1691.2" y1="785.4" x2="1738.9" y2="785.4" stroke="#ff00ff" stroke-width="2.5"/>
<circle cx="1715.6" cy="785.4" r="5.9" fill="#ff00ff"/>
<text x="1755.38" y="794.20" font-size="23.60" font-weight="normal" font-style="normal" textLength="83.01" lengthAdjust="spacingAndGlyphs" fill="#000">CMEMS</text>
</svg>
</body></html>
